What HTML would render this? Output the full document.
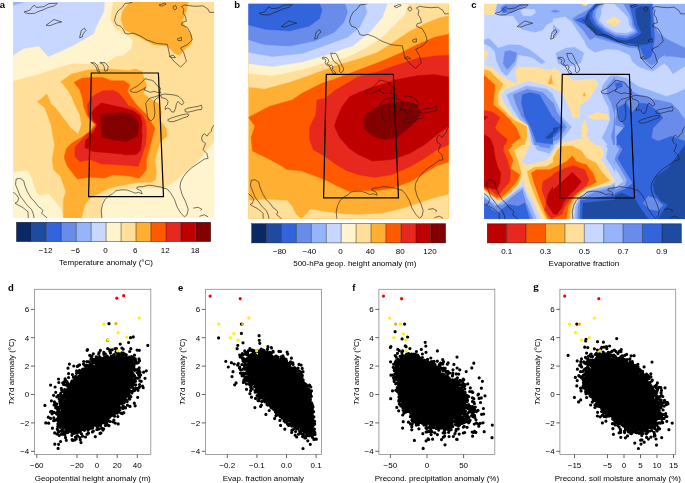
<!DOCTYPE html>
<html><head><meta charset="utf-8"><title>Figure</title>
<style>html,body{margin:0;padding:0;background:#fff}svg{display:block}text{font-family:"Liberation Sans",Arial,Helvetica,sans-serif;fill:#000}</style></head><body>
<svg width="685" height="483" viewBox="0 0 685 483">
<rect width="685" height="483" fill="#fff"/>
<defs><clipPath id="f0"><rect x="13.2" y="1.9" width="200.9" height="216" fill="#000"/></clipPath></defs>
<g clip-path="url(#f0)">
<rect x="12.2" y="0.9" width="202.9" height="218" fill="#ffdf99"/>
<polygon points="13.2,1.9 113,2 111,12 110.6,20 114.3,28.6 123,33.5 130,38 132.4,41 131,48.4 122.4,56 116.8,56 106.9,62.1 92,64.1 72.1,63.4 59.7,67 37.3,74.5 13.2,80.7" fill="#fff4ce" stroke="#fff4ce" stroke-width="0.4"/>
<polygon points="13.2,1.9 104.4,2 103.9,11.2 97,24.8 93.2,34 72.1,46 48.5,56.6 38.6,46 23.7,48.4 13.2,55.2" fill="#c8d7ff" stroke="#c8d7ff" stroke-width="0.4"/>
<polygon points="13.2,1.9 24,2 13.2,5.5" fill="#96b4fa" stroke="#96b4fa" stroke-width="0.4"/>
<polygon points="13.2,172 27.4,170.8 31.1,177 36.1,192 39.8,195.7 48.5,194 53.5,199.4 61,209.3 63.4,217.9 13.2,217.9" fill="#fff4ce" stroke="#fff4ce" stroke-width="0.4"/>
<polygon points="102.2,217.9 101.4,204.6 104.7,197.9 113,191.3 126.2,189.7 131.6,188.8 148.1,188 163,188.8 168,186.3 177.9,178.9 187.9,170.6 195,164 201.9,157.1 209.3,147.2 214.1,142.2 214.1,217.9" fill="#fff4ce" stroke="#fff4ce" stroke-width="0.4"/>
<polygon points="129.8,2 122.4,11.2 121.1,19.9 124.8,29.8 137.3,36 153.4,44.7 167.1,46 174.5,53.4 179.5,55.2 185.7,48.4 191.9,43.5 191.9,36 185.7,27.3 182,21.1 185.7,13.7 188.2,2" fill="#ffaf32" stroke="#ffaf32" stroke-width="0.4"/>
<polygon points="46.8,93.9 37.3,102 44.8,107.5 51,124.8 54.7,144.7 52.2,159.6 53.5,169.6 60.9,177 65.9,192 63.4,199.4 63.4,217.9 81.5,217.9 84.8,204.6 90.6,197.9 99.7,193 109.7,188 124.6,184.7 139.8,182.2 150.6,182.2 155.6,179.7 156.4,171.4 154.8,159.8 159.7,143.3 163,139.5 167.2,136.2 166.3,128.8 160.5,120.5 161.4,113 159.7,103.9 153.1,100.6 148.1,97.3 143.2,93.2 146.5,85.7 144,78.3 142.3,71.6 135.7,69.1 128.3,70.5 109.7,69.1 88.1,70 71.6,74.1 60.8,81.6 67.4,89.8 71.6,96.5 74.9,104.8 79.8,114.7 81.5,124.6 78.2,134.6 70.7,128 63.3,118 55,107.2 51,104.3" fill="#ffaf32" stroke="#ffaf32" stroke-width="0.4"/>
<polygon points="74,82.4 81.5,78.3 91.4,77.4 103,77.4 111.3,80.7 124.1,80.7 129.9,84.9 127.4,91.5 131.6,98.1 136.5,104.8 141.5,109.7 146.5,114.7 150.6,121.3 154.8,127.9 153.1,135 150.6,144.9 146.5,159.8 146.5,169.8 139,178.4 131.6,176.4 124.6,175.6 113,174.8 104.7,178.1 89.8,177.2 77.4,178.9 67.4,166.5 64.1,157.4 66.6,148.3 72,143 82,137 90.6,130.4 94.8,124.6 87.3,116.3 84,108 82.3,98.1 79.8,89.8" fill="#ff5a00" stroke="#ff5a00" stroke-width="0.4"/>
<polygon points="87.3,105.6 90.6,98.1 96.4,94 103,90.7 113,90.2 119,93.2 124.9,100.6 128.3,105.6 135.7,108.9 141.5,113.9 145.6,121.3 146.5,129.6 146.5,135 145.6,144.9 140.7,159.8 138.2,166.5 128.3,165.6 117.9,164.8 101.4,164 90.6,159.8 79.8,161.8 74.9,156.5 74.9,147.4 85,136 93.1,129.6 96.4,124.6 92.3,121.3 88.1,114.7" fill="#e6281e" stroke="#e6281e" stroke-width="0.4"/>
<polygon points="91.4,113 94.8,108 101.4,103.1 109.7,104.8 121.3,107.2 133.2,110.5 139.8,115.5 142.3,123 141.5,131.3 142.3,135 140.7,149.9 136.5,154.5 124.9,154.9 121.3,154 104.7,152.4 93.1,151.6 84.8,147.4 85.6,140 89,137 93.9,131.3 97.2,125 93.1,119.7" fill="#be0000" stroke="#be0000" stroke-width="0.4"/>
<polygon points="100.5,114.7 122.9,112.2 131.6,114.7 136.5,118.8 139,126.3 137.4,136.2 126.6,141.6 124.6,141.6 109.7,139.1 102.2,137" fill="#820000" stroke="#820000" stroke-width="0.4"/>
</g>
<defs><clipPath id="f1"><rect x="248.4" y="3.8" width="200.4" height="215" fill="#000"/></clipPath></defs>
<g clip-path="url(#f1)">
<rect x="247.4" y="2.8" width="202.4" height="217" fill="#ffaf32"/>
<polygon points="248.4,3.8 248.4,87 264.8,88.7 289.7,82 314.5,73.3 334.4,65.8 357.4,59.1 377.2,52.2 394.6,41 409.5,31 424.4,23.6 439.3,17.4 448.8,15.4 448.8,3.8" fill="#ffdf99" stroke="#ffdf99" stroke-width="0.4"/>
<polygon points="248.4,3.8 248.4,73.3 272.3,75.8 302.1,69.6 327,62.1 347.4,57.1 364.8,48.4 382.2,37.3 394.6,24.8 404.6,14.9 408.3,3.8" fill="#fff4ce" stroke="#fff4ce" stroke-width="0.4"/>
<polygon points="248.4,3.8 248.4,63.4 272.3,66.6 302.1,62.1 327,54.7 344.3,48.4 352.4,46 369.8,32.3 382.2,17.4 387.2,3.8" fill="#c8d7ff" stroke="#c8d7ff" stroke-width="0.4"/>
<polygon points="248.4,3.8 248.4,52.2 272.3,56.6 302.1,53.4 327,44.7 347.4,37.3 359.8,27.3 366.8,12.4 364.8,3.8" fill="#96b4fa" stroke="#96b4fa" stroke-width="0.4"/>
<polygon points="248.4,3.8 248.4,39.8 264.8,44.7 289.7,46 314.5,41 334.4,32.3 343.7,22.4 347.5,12.4 345,3.8" fill="#698ceb" stroke="#698ceb" stroke-width="0.4"/>
<polygon points="248.4,3.8 248.4,24.8 264.8,29.3 289.7,31 309.6,26 319.5,18.6 322,10 319.5,3.8" fill="#3264dc" stroke="#3264dc" stroke-width="0.4"/>
<polygon points="248.4,200.6 264.8,199.4 287.2,200.6 292.2,206.8 295.9,214.3 300.9,218.8 248.4,218.8" fill="#ffdf99" stroke="#ffdf99" stroke-width="0.4"/>
<polygon points="302,218.8 310.8,209.3 324.5,211.8 344.3,214.3 359.8,214.8 384.7,213 404.6,208.1 419.5,203.1 434.4,198.1 448.8,194.4 448.8,218.8" fill="#ffdf99" stroke="#ffdf99" stroke-width="0.4"/>
<polygon points="248.4,117.4 269.8,106.2 292.2,100 302.1,93.2 322,83.2 335,79 359.8,69.6 379.7,62.1 399.6,53.4 417,44.7 434.4,37.3 448.8,34.3 448.8,162.1 436.9,165.8 424.4,173.3 409.5,182 392.1,188.2 374.8,190.7 359.8,190.5 349.3,191.4 336.9,185.7 324.5,179.5 314.5,175.8 300.9,170.8 287.2,169.6 277.3,163.4 264.8,157.1 252.4,150.9 251.2,137.3 254.9,126.1" fill="#ff5a00" stroke="#ff5a00" stroke-width="0.4"/>
<polygon points="317,100 325.7,98.1 334.4,90.7 349.3,82 357.4,77 377.2,72 397.1,65.1 417,58.4 434.4,55.9 448.8,55.2 448.8,144.7 436.9,149.7 424.4,158.4 409.5,167.1 392.1,174.5 374.8,177.5 359.8,175 346.8,170.8 334.4,163.4 324.5,155.9 313.3,149.7 309.6,139.8 309.6,127.3 315.8,114.9" fill="#e6281e" stroke="#e6281e" stroke-width="0.4"/>
<polygon points="337.5,116.8 341.9,106.8 349.3,96.9 359.8,92 377.2,85.7 397.1,79.5 417,75.8 434.4,74.5 448.8,77 448.8,126.1 436.9,134.8 424.4,144.7 409.5,153.4 392.1,159.6 372.3,160.9 357.4,154 349.3,148.4 339.4,137.3 334.4,126.1" fill="#be0000" stroke="#be0000" stroke-width="0.4"/>
<polygon points="363.6,120 367.3,113 379.7,105.6 394.6,101.9 409.5,101.9 417,105 420.7,112.4 417,119.9 407,129.8 397.1,137.3 384.7,139.8 372.3,136 364.3,128.6" fill="#820000" stroke="#820000" stroke-width="0.4"/>
</g>
<defs>
<clipPath id="k1"><rect x="484.1" y="3.8" width="68.9" height="71.2" fill="#000"/></clipPath>
<clipPath id="k2"><rect x="553" y="3.8" width="32" height="71.2" fill="#000"/></clipPath>
<clipPath id="kH"><rect x="585" y="3.8" width="80" height="71.2" fill="#000"/></clipPath>
<clipPath id="k3"><rect x="665" y="3.8" width="20" height="71.2" fill="#000"/></clipPath>
<clipPath id="k4"><rect x="484.1" y="75" width="68.9" height="70" fill="#000"/></clipPath>
<clipPath id="k5"><rect x="553" y="75" width="62" height="70" fill="#000"/></clipPath>
<clipPath id="k6"><rect x="615" y="75" width="70" height="70" fill="#000"/></clipPath>
<clipPath id="k7"><rect x="484.1" y="145" width="68.9" height="74.3" fill="#000"/></clipPath>
<clipPath id="k8"><rect x="553" y="145" width="62" height="74.3" fill="#000"/></clipPath>
<clipPath id="k9"><rect x="615" y="145" width="70" height="74.3" fill="#000"/></clipPath>
</defs>
<g clip-path="url(#k1)">
<rect x="484.1" y="3.8" width="200.9" height="215.5" fill="#c8d7ff"/>
<polygon points="484.1,3.8 496.6,3.8 493.3,14.9 484.1,14.1" fill="#ffdf99" stroke="#ffdf99" stroke-width="0.4"/>
<polygon points="484.1,49.7 488.3,53 485,61.3 484.1,61.3" fill="#ffdf99" stroke="#ffdf99" stroke-width="0.4"/>
<polygon points="484.1,65.4 493.3,67.9 498.2,72.9 501.5,80 484.1,80" fill="#ffdf99" stroke="#ffdf99" stroke-width="0.4"/>
<polygon points="515.6,69.6 519.8,67.1 536.3,67.1 546.3,69.6 560,68.7 560,80 515.6,80" fill="#ffdf99" stroke="#ffdf99" stroke-width="0.4"/>
<polygon points="484.1,69.6 489.9,71.2 496.6,77.8 497.4,80 484.1,80" fill="#ffaf32" stroke="#ffaf32" stroke-width="0.4"/>
<polygon points="484.1,74.5 488.3,80 484.1,80" fill="#ff5a00" stroke="#ff5a00" stroke-width="0.4"/>
<polygon points="497.4,3.8 560,3.8 560,16.6 552.9,21.5 546.3,24.8 542.9,29.8 534.7,32.3 521.4,29 517.3,21.5 513.1,15.7 501.5,15.7 495.7,11.6" fill="#96b4fa" stroke="#96b4fa" stroke-width="0.4"/>
<polygon points="520.6,10.8 523.9,9.1 534.7,9.6 535.5,12.4 531.3,15.7 523.1,15.7" fill="#c8d7ff" stroke="#c8d7ff" stroke-width="0.4"/>
<polygon points="500.7,7.5 504.8,4.6 526.4,4.6 518.1,9.1 511.5,12.4 502.4,13.3" fill="#698ceb" stroke="#698ceb" stroke-width="0.4"/>
<polygon points="502.4,9.1 505.7,8.3 506.5,11.6 503.2,12.4" fill="#3264dc" stroke="#3264dc" stroke-width="0.4"/>
<polygon points="551.2,11.3 555.4,9.9 560,11.3 555.4,12.6" fill="#698ceb" stroke="#698ceb" stroke-width="0.4"/>
<polygon points="484.1,39.8 489.1,38.4 498.2,48 509,44.7 519.8,45.1 529.7,49.7 536.3,54.7 545.4,62.1 541.3,63.8 533,58 528,56.3 518.1,54.7 515.6,64.6 511.5,69.6 506.5,76.2 501.5,71.2 496.6,61.3 494.9,51.3 489.9,46.4 484.1,43.4" fill="#96b4fa" stroke="#96b4fa" stroke-width="0.4"/>
<polygon points="504.8,51.7 509.8,50.5 516.8,53 514.8,61.3 507.3,69.6 503.2,63.8" fill="#698ceb" stroke="#698ceb" stroke-width="0.4"/>
<polygon points="560,49.7 556.2,53 557.8,62.9 560,64.6" fill="#96b4fa" stroke="#96b4fa" stroke-width="0.4"/>
</g>
<g clip-path="url(#k2)">
<rect x="484.1" y="3.8" width="200.9" height="215.5" fill="#c8d7ff"/>
<polygon points="545,69.6 554.9,67.9 563.2,74.5 563.2,80 545,80" fill="#ffdf99" stroke="#ffdf99" stroke-width="0.4"/>
<polygon points="545,3.8 588.1,3.8 588.1,49.7 584.8,41.4 578.1,31.5 571.5,21.5 564.9,16.6 554.9,18.2 545,16.6" fill="#96b4fa" stroke="#96b4fa" stroke-width="0.4"/>
<polygon points="545,29.8 553.3,24.8 559.9,30.6 554.9,38.1 545,35.6" fill="#96b4fa" stroke="#96b4fa" stroke-width="0.4"/>
<polygon points="555.8,53 566.5,48 574.8,47.2 583.9,53 580.6,62.9 569.8,66.3 558.3,63.8" fill="#96b4fa" stroke="#96b4fa" stroke-width="0.4"/>
<polygon points="550.8,11.3 554.9,9.9 559.9,11.3 554.9,12.6" fill="#698ceb" stroke="#698ceb" stroke-width="0.4"/>
<polygon points="572.3,19 578.1,14.9 585.6,11.3 585.6,33.1 578.1,24.8" fill="#698ceb" stroke="#698ceb" stroke-width="0.4"/>
<polygon points="575.6,19.9 585.6,16.2 585.6,24.8 580.6,22.4" fill="#3264dc" stroke="#3264dc" stroke-width="0.4"/>
<polygon points="582.3,20.2 585.6,19.5 585.6,23.2" fill="#1e4ba0" stroke="#1e4ba0" stroke-width="0.4"/>
<polygon points="581.4,3.8 588.1,3.8 584.8,5.8" fill="#ffdf99" stroke="#ffdf99" stroke-width="0.4"/>
</g>
<g clip-path="url(#kH)">
<rect x="484.1" y="3.8" width="200.9" height="215.5" fill="#c8d7ff"/>
<polygon points="588.3,3.8 665,3.8 665,62.9 659.5,66.3 652.9,71.2 646.3,69.6 638,66.3 632.2,61.3 629.7,54.7 618.1,49.7 606.5,48.9 594.9,52.2 588.3,48 585,43.1 585,5.8" fill="#96b4fa" stroke="#96b4fa" stroke-width="0.4"/>
<polygon points="585,11.6 591.6,7.5 596.6,5 601.6,3.8 652.9,3.8 653.7,16.6 654.6,26.5 658.7,33.1 665,38.1 665,54.7 659.5,58 656.2,62.9 651.3,65.4 641.3,57.1 639.7,51.3 636.3,48 628.1,47.2 618.1,43.9 606.5,40.6 594.9,37.3 590,39.8 585,33.1" fill="#698ceb" stroke="#698ceb" stroke-width="0.4"/>
<polygon points="585,15.7 588.3,11.6 591.6,7.5 594.9,3.8 652.1,3.8 652.9,16.6 653.7,26.5 654.6,38.1 652.9,49.7 651.3,56.3 647.9,58.8 643,54.7 640.5,48 634.7,44.7 626.4,43.9 616.5,41.4 604.9,37.3 594.9,34 588.3,27.3 585,24.8" fill="#3264dc" stroke="#3264dc" stroke-width="0.4"/>
<polygon points="585.8,19 587,24 590.8,29.8 596.6,34 606.5,37.8 618.1,42.2 631.4,43.4 639.7,44.7 647.9,43.9 651.3,39.8 650.4,29.8 650.4,16.6 649.6,6.6 639.7,6.6 634.7,9.9 635.5,16.6 637.2,24.8 641.3,33.1 636.3,37.3 626.4,40.6 614.8,38.9 604,33.1 594.9,24.8 591.3,16.6 589.1,14.1" fill="#1e4ba0" stroke="#1e4ba0" stroke-width="0.4"/>
<polygon points="590,12.4 596.6,3.8 634.7,3.8 635.5,16.6 637.2,24.8 641,32.8 636.3,36.8 626.4,40.1 614.8,38.4 604,33.1 594.1,25.7 589.6,18.2" fill="#3264dc" stroke="#3264dc" stroke-width="0.4"/>
<polygon points="593,11.6 599.6,3.8 628.9,3.8 632.2,16.6 633.9,24.8 637.7,32.3 633.9,35.1 626.4,38.1 615.6,36.4 605.7,31.5 596.6,24.5 592.6,17.4" fill="#698ceb" stroke="#698ceb" stroke-width="0.4"/>
<polygon points="595.9,10.3 602.2,3.8 623.1,3.8 628.9,13.3 631.4,19.9 632.2,25.7 635.5,31.5 627.2,35.6 615.6,34.5 606.2,29.8 598.3,23.2 595.6,16.6" fill="#96b4fa" stroke="#96b4fa" stroke-width="0.4"/>
<polygon points="601.6,8.3 604.9,3.8 614,3.8 622.3,11.6 628.1,18.2 628.9,24.8 633,30.6 626.4,33.1 615.6,32.3 606.5,27.3 599.1,20.7 601.6,13.3" fill="#c8d7ff" stroke="#c8d7ff" stroke-width="0.4"/>
<polygon points="605.4,21.2 614.5,16.6 620.9,21.2 614.8,26.8" fill="#ffdf99" stroke="#ffdf99" stroke-width="0.4"/>
<polygon points="585,3.8 588.3,3.8 585,5.8" fill="#ffdf99" stroke="#ffdf99" stroke-width="0.4"/>
</g>
<g clip-path="url(#k3)">
<rect x="484.1" y="3.8" width="200.9" height="215.5" fill="#c8d7ff"/>
<polygon points="605,3.8 685,3.8 685,66.3 672.9,73.7 667.9,66.3 661.3,62.1 656.3,66.3 649.7,72 640.6,69.6 632.3,61.3 629,51.3 614.9,47.2 605,48" fill="#96b4fa" stroke="#96b4fa" stroke-width="0.4"/>
<polygon points="605,27.3 616.6,34.8 627.4,32.3 629.8,21.5 627.4,12.4 622.4,6.6 626.5,3.8 659.7,3.8 654.7,9.9 653.9,21.5 661.3,36.4 674.6,43.1 685,48 685,58 671.3,56.3 659.7,56.3 654.7,59.6 649.7,65.4 643.1,62.9 636.5,54.7 629.8,49.7 614.9,46.4 605,44.7" fill="#698ceb" stroke="#698ceb" stroke-width="0.4"/>
<polygon points="605,29.8 616.6,36.8 629.8,34 632.3,21.5 629.8,12.4 625.7,7.5 629.8,3.8 654.7,3.8 653,9.9 652.2,21.5 653.9,38.1 652.2,54.7 648.9,58 644.8,54.7 640.6,48 637.3,44.7 626.5,43.4 614.9,41.4 605,39.8" fill="#3264dc" stroke="#3264dc" stroke-width="0.4"/>
<polygon points="634,10.8 642.3,6.6 648.9,8.3 649.7,21.5 648.9,33.1 642.3,40.6 626.5,39.8 614.9,38.9 605,37.3 605,32.3 614.9,37.3 626.5,35.6 632.3,32.3 634.8,21.5" fill="#1e4ba0" stroke="#1e4ba0" stroke-width="0.4"/>
<polygon points="605,6.6 614.9,7.5 624.9,13.3 627.4,21.5 626.5,30.6 616.6,33.1 605,24.8" fill="#c8d7ff" stroke="#c8d7ff" stroke-width="0.4"/>
<polygon points="605.8,21.5 614.9,16.6 621.1,21.2 615.8,26.5" fill="#ffdf99" stroke="#ffdf99" stroke-width="0.4"/>
</g>
<g clip-path="url(#k4)">
<rect x="484.1" y="3.8" width="200.9" height="215.5" fill="#ffdf99"/>
<polygon points="484.1,70 491.6,73.3 503.2,84.1 497.4,94.8 498.2,104.8 513.1,119.7 526.4,126.3 527.2,136.3 524.7,144.5 518.1,150 484.1,150" fill="#ffaf32" stroke="#ffaf32" stroke-width="0.4"/>
<polygon points="484.1,75 494.9,84.9 493.3,104.8 501.5,111.4 509.8,119.7 516.4,128 520.6,137.9 513.1,142.9 504.8,150 484.1,150" fill="#ff5a00" stroke="#ff5a00" stroke-width="0.4"/>
<polygon points="484.1,110.6 491.6,111.4 499.9,117.2 494.9,128 501.5,134.6 507.3,139.6 504.8,146.2 503.2,150 484.1,150" fill="#e6281e" stroke="#e6281e" stroke-width="0.4"/>
<polygon points="484.1,134.6 489.9,137.9 492.4,142.9 491.6,150 484.1,150" fill="#be0000" stroke="#be0000" stroke-width="0.4"/>
<polygon points="484.1,116.4 487.5,116.4 485,119.7 484.1,119.7" fill="#be0000" stroke="#be0000" stroke-width="0.4"/>
<polygon points="496.6,70 515.6,70 516.4,83.3 503.2,76.6" fill="#c8d7ff" stroke="#c8d7ff" stroke-width="0.4"/>
<polygon points="501.5,94 504.8,89.9 528,80.8 546.3,85.7 560,91.5 560,150 533,150 528.9,139.6 528,124.7 513.1,114.7 503.2,101.5" fill="#c8d7ff" stroke="#c8d7ff" stroke-width="0.4"/>
<polygon points="506.5,94.8 526.4,85.7 546.3,89 560,99.8 560,150 534.7,150 531.3,139.6 529.7,126.3 519.8,119.7 511.5,106.4" fill="#96b4fa" stroke="#96b4fa" stroke-width="0.4"/>
<polygon points="501.5,70 511.5,70 506.5,75.8" fill="#96b4fa" stroke="#96b4fa" stroke-width="0.4"/>
<polygon points="513.1,94.8 527.2,89 542.9,92.4 552.9,103.1 560,113.1 560,150 538,147.8 534.7,144.5 532.2,136.3 528,124.7 521.4,116.4 515.6,103.1" fill="#698ceb" stroke="#698ceb" stroke-width="0.4"/>
<polygon points="522.2,94.8 529.7,92.4 539.6,94.8 546.3,106.4 552.9,118 560,123 560,143.7 549.6,143.7 536.3,142 531.3,128 524.7,116.4 521.4,103.1" fill="#3264dc" stroke="#3264dc" stroke-width="0.4"/>
<polygon points="560,127.1 556.2,128 545.4,137.9 549.6,138.7 560,131.3" fill="#1e4ba0" stroke="#1e4ba0" stroke-width="0.4"/>
<polygon points="551.2,75 552.9,84.1 547.9,84.1" fill="#ffaf32" stroke="#ffaf32" stroke-width="0.4"/>
</g>
<g clip-path="url(#k5)">
<rect x="484.1" y="3.8" width="200.9" height="215.5" fill="#c8d7ff"/>
<polygon points="545,70 561.6,70 566.5,75 573.2,80.8 594.7,79.1 598,84.1 593.9,91.5 588.1,99.8 579.8,105.6 579,116.4 573.2,118 569.8,108.1 564.9,98.2 559.9,91.5 553.3,89 545,85.7" fill="#ffdf99" stroke="#ffdf99" stroke-width="0.4"/>
<polygon points="588.1,116.4 596.3,112.2 607.9,114.7 608.8,119.7 593,119.7" fill="#ffdf99" stroke="#ffdf99" stroke-width="0.4"/>
<polygon points="584.4,119.7 587.7,128 586.4,136.3 589.7,139.6 582.3,137.9 581.4,128" fill="#ffdf99" stroke="#ffdf99" stroke-width="0.4"/>
<polygon points="554.9,150 561.6,142.9 578.1,139.6 586.4,137.9 593,142.9 601.3,150" fill="#ffdf99" stroke="#ffdf99" stroke-width="0.4"/>
<polygon points="550.8,75 553.3,84.1 547.5,84.1" fill="#ffaf32" stroke="#ffaf32" stroke-width="0.4"/>
<polygon points="584.3,92.4 585.9,95.7 582.8,95.7" fill="#ffaf32" stroke="#ffaf32" stroke-width="0.4"/>
<polygon points="559.9,150 563.2,146.5 573.2,146.2 580.6,150" fill="#ffaf32" stroke="#ffaf32" stroke-width="0.4"/>
<polygon points="625,73.3 617.9,74.1 609.6,76.6 603,84.9 601.3,91.5 603.8,98.2 608.8,108.1 610.4,119.7 606.3,129.6 602.1,137.9 606.3,142.9 611.3,150 625,150" fill="#96b4fa" stroke="#96b4fa" stroke-width="0.4"/>
<polygon points="545,91.5 553.3,96.5 558.3,106.4 561.6,116.4 571.5,127.1 561.6,139.6 553.3,146.2 545,147.8" fill="#96b4fa" stroke="#96b4fa" stroke-width="0.4"/>
<polygon points="625,75.8 614.6,77.5 607.1,86.6 607.1,94.8 611.3,103.1 614.6,114.7 613.7,126.3 611.3,136.3 614.6,150 625,150" fill="#698ceb" stroke="#698ceb" stroke-width="0.4"/>
<polygon points="545,93.2 551.6,98.2 556.6,111.4 566.5,127.1 558.3,139.6 545,144.5" fill="#698ceb" stroke="#698ceb" stroke-width="0.4"/>
<polygon points="616.2,83.3 621.2,82.4 622,88.2 616.2,88.2" fill="#3264dc" stroke="#3264dc" stroke-width="0.4"/>
<polygon points="619.5,108.1 625,103.1 625,150 617.9,150 617.9,136.3 617.9,124.7" fill="#3264dc" stroke="#3264dc" stroke-width="0.4"/>
<polygon points="545,103.1 550,111.4 554.9,119.7 563.2,127.1 554.9,136.3 545,139.6" fill="#3264dc" stroke="#3264dc" stroke-width="0.4"/>
<polygon points="553.3,128 559.9,127.1 554.9,132.9 545,137.9 545,135.4" fill="#1e4ba0" stroke="#1e4ba0" stroke-width="0.4"/>
</g>
<g clip-path="url(#k6)">
<rect x="484.1" y="3.8" width="200.9" height="215.5" fill="#c8d7ff"/>
<polygon points="605,79.9 616.6,75.8 626.5,78.3 638.1,86.6 653,91.5 666.3,96.5 676.2,93.2 685,89 685,150 605,150" fill="#96b4fa" stroke="#96b4fa" stroke-width="0.4"/>
<polygon points="605,84.1 614.9,79.9 624.9,82.4 632.3,91.5 638.1,94.8 653,99 671.3,103.1 677.9,109.8 685,119.7 685,150 614.9,150 618.3,136.3 624.9,128 614.9,124.7 616.6,111.4 611.6,99.8 605,94.8" fill="#698ceb" stroke="#698ceb" stroke-width="0.4"/>
<polygon points="618.3,107.3 626.5,103.1 631.5,113.1 640.6,103.1 648.1,104 659.7,113.1 663,118 653,128 651.4,137.9 658,141.2 671.3,136.3 685,141.2 685,150 617.4,150 616.6,136.3 624.9,126.3 619.1,118" fill="#3264dc" stroke="#3264dc" stroke-width="0.4"/>
<polygon points="614.9,83.3 621.6,82.4 622.4,86.6 616.6,89" fill="#3264dc" stroke="#3264dc" stroke-width="0.4"/>
<polygon points="685,145.4 681.2,147.8 679.5,150 685,150" fill="#1e4ba0" stroke="#1e4ba0" stroke-width="0.4"/>
<polygon points="605,99.8 609.1,104.8 611.6,116.4 610,129.6 605,136.3" fill="#c8d7ff" stroke="#c8d7ff" stroke-width="0.4"/>
<polygon points="605,113.9 608.3,115.5 608.3,118.9 605,119.7" fill="#ffdf99" stroke="#ffdf99" stroke-width="0.4"/>
</g>
<g clip-path="url(#k7)">
<rect x="484.1" y="3.8" width="200.9" height="215.5" fill="#ffdf99"/>
<polygon points="484.1,140 525.5,140 524.7,143.3 514,149.9 518.1,161.5 521.4,173.1 518.9,183.1 511.5,191.3 503.2,198.8 498.2,200.5 484.1,189.7" fill="#ffaf32" stroke="#ffaf32" stroke-width="0.4"/>
<polygon points="484.1,140 518.1,140 508.2,149.9 513.1,159.9 510.6,168.2 519.8,174.8 515.6,183.1 508.2,191.3 501.5,197.1 496.6,198 484.1,188.9" fill="#ff5a00" stroke="#ff5a00" stroke-width="0.4"/>
<polygon points="484.1,140 504.8,140 503.2,149.9 507.3,159.9 510.6,171.5 509.8,181.4 501.5,191.3 497.4,195.5 489.9,189.7 484.1,188" fill="#e6281e" stroke="#e6281e" stroke-width="0.4"/>
<polygon points="484.1,140 492.4,140 494.9,156.6 497.4,166.5 500.7,173.1 499.9,183.1 496.6,189.7 489.9,188 484.1,186.4" fill="#be0000" stroke="#be0000" stroke-width="0.4"/>
<polygon points="527.2,171.5 534.7,167.3 546.3,166.5 560,158.2 560,218.7 546.3,218.7 541.3,209.6 534.7,194.7 529.7,181.4" fill="#ffaf32" stroke="#ffaf32" stroke-width="0.4"/>
<polygon points="531.3,173.1 536.3,169.8 549.6,169.8 560,164.8 560,218.7 547.9,218.7 544.6,211.2 539.6,198 534.7,184.7" fill="#ff5a00" stroke="#ff5a00" stroke-width="0.4"/>
<polygon points="542.9,181.4 551.2,176.4 560,170.6 560,218.7 551.2,218.7 544.6,209.6 546.3,202.9 542.1,189.7" fill="#e6281e" stroke="#e6281e" stroke-width="0.4"/>
<polygon points="560,178.1 552.9,186.4 547.9,194.7 546.3,202.9 552.9,212.9 560,216.2" fill="#be0000" stroke="#be0000" stroke-width="0.4"/>
<polygon points="531.3,140 560,140 560,148.3 552.9,153.3 546.3,159.9 526.4,164.8 522.2,161.5 528,149.9" fill="#c8d7ff" stroke="#c8d7ff" stroke-width="0.4"/>
<polygon points="533,140 560,140 556.2,143.3 549.6,153.3 537.1,149.9" fill="#96b4fa" stroke="#96b4fa" stroke-width="0.4"/>
<polygon points="536.3,140 552.9,140 549.6,148.3 539.6,146.6" fill="#698ceb" stroke="#698ceb" stroke-width="0.4"/>
<polygon points="538,140 551.2,140 546.3,144.1" fill="#3264dc" stroke="#3264dc" stroke-width="0.4"/>
<polygon points="484.1,193 498.2,202.1 504.8,198 513.1,191.3 520.6,184.7 523.1,179.8 525.5,189.7 531.3,199.6 538,212.9 541.3,218.7 484.1,218.7" fill="#c8d7ff" stroke="#c8d7ff" stroke-width="0.4"/>
<polygon points="484.1,196.3 496.6,205.4 509.8,196.3 518.1,189.7 523.1,187.2 526.4,196.3 531.3,206.3 536.3,218.7 484.1,218.7" fill="#96b4fa" stroke="#96b4fa" stroke-width="0.4"/>
<polygon points="484.1,198 494.9,206.3 503.2,204.6 513.1,196.3 522.2,189.7 525.5,201.3 529.7,211.2 533,218.7 484.1,218.7" fill="#698ceb" stroke="#698ceb" stroke-width="0.4"/>
<polygon points="484.1,202.9 491.6,209.6 498.2,212.9 501.5,209.6 508.2,204.6 518.1,206.3 524.7,202.9 528,212.9 529.7,218.7 484.1,218.7" fill="#3264dc" stroke="#3264dc" stroke-width="0.4"/>
</g>
<g clip-path="url(#k8)">
<rect x="484.1" y="3.8" width="200.9" height="215.5" fill="#c8d7ff"/>
<polygon points="545,159 551.6,153.3 558.3,145 563.2,140 589.7,140 601.3,146.6 603.8,153.3 601.3,159.9 607.9,169.8 614.6,180.6 609.6,184.7 599.7,186.4 586.4,190.5 578.1,197.1 573.2,206.3 572.3,218.7 545,218.7" fill="#ffdf99" stroke="#ffdf99" stroke-width="0.4"/>
<polygon points="545,164.8 551.6,161.5 557.4,149.9 561.6,146.6 571.5,145.8 581.4,150.8 586.4,158.2 596.3,163.2 601.3,171.5 609.6,180.6 599.7,184.7 586.4,188.9 576.5,196.3 571.5,204.6 569.8,218.7 545,218.7" fill="#ffaf32" stroke="#ffaf32" stroke-width="0.4"/>
<polygon points="545,171.5 556.6,166.5 566.5,161.5 572.3,155.7 576.5,161.5 586.4,164.8 593,173.1 596.3,182.2 586.4,187.2 578.1,193 573.2,198 568.2,206.3 566.5,218.7 545,218.7" fill="#ff5a00" stroke="#ff5a00" stroke-width="0.4"/>
<polygon points="545,178.9 554.9,173.1 564.9,168.2 573.2,165.7 584.8,169.8 588.9,179.8 586.4,185.5 576.5,193 569.8,199.6 564.9,206.3 561.6,214.5 553.3,217.8 545,216.2" fill="#e6281e" stroke="#e6281e" stroke-width="0.4"/>
<polygon points="545,199.6 551.6,191.3 561.6,182.2 572.3,172.3 581.4,181.4 576.5,188 568.2,196.3 563.2,202.9 561.6,207.9 556.6,214.5 550,212.9 545,206.3" fill="#be0000" stroke="#be0000" stroke-width="0.4"/>
<polygon points="603,140 625,140 625,218.7 574.8,218.7 575.6,206.3 579.8,198 588.1,191.3 601.3,188 611.3,185.5 619.5,179.8 612.9,168.2 606.3,158.2 607.9,148.3" fill="#96b4fa" stroke="#96b4fa" stroke-width="0.4"/>
<polygon points="611.3,140 625,140 625,218.7 577.3,218.7 578.1,206.3 580.6,198.8 594.7,192.2 611.3,188 622.8,181.4 621.2,174.8 614.6,163.2 616.2,154.9 617.9,146.6" fill="#698ceb" stroke="#698ceb" stroke-width="0.4"/>
<polygon points="617.9,140 625,140 625,178.1 622.8,173.1 617.9,164.8 619.5,154.9 621.2,148.3" fill="#3264dc" stroke="#3264dc" stroke-width="0.4"/>
<polygon points="580.6,200.5 625,193 625,218.7 579.8,218.7" fill="#3264dc" stroke="#3264dc" stroke-width="0.4"/>
<polygon points="583.1,202.9 625,198.8 625,218.7 582.3,218.7" fill="#1e4ba0" stroke="#1e4ba0" stroke-width="0.4"/>
<polygon points="545,140 555.8,140 552.5,149.1 545,154.1" fill="#96b4fa" stroke="#96b4fa" stroke-width="0.4"/>
<polygon points="545,140 553.3,140 550.8,146.6 545,150.8" fill="#698ceb" stroke="#698ceb" stroke-width="0.4"/>
<polygon points="545,140 551.6,140 550,145 545,148.3" fill="#3264dc" stroke="#3264dc" stroke-width="0.4"/>
</g>
<g clip-path="url(#k9)">
<rect x="484.1" y="3.8" width="200.9" height="215.5" fill="#3264dc"/>
<polygon points="685,145 677.9,154.9 667.9,168.2 656.3,176.4 653,184.7 654.7,193 661.3,201.3 667.9,204.6 663,211.2 658,218.7 685,218.7" fill="#1e4ba0" stroke="#1e4ba0" stroke-width="0.4"/>
<polygon points="605,200.5 621.6,193 634.8,198.8 641.4,209.6 648.1,218.7 605,218.7" fill="#1e4ba0" stroke="#1e4ba0" stroke-width="0.4"/>
<polygon points="643.1,202.9 648.1,196.3 656.3,198.8 663,205.4 658,210.4 649.7,209.6" fill="#698ceb" stroke="#698ceb" stroke-width="0.4"/>
<polygon points="605,140 614.9,140 622.4,149.1 617.4,158.2 623.2,168.2 628.2,176.4 632.3,183.1 626.5,188 614.9,193 605,197.1" fill="#698ceb" stroke="#698ceb" stroke-width="0.4"/>
<polygon points="605,140 611.6,140 619.1,149.1 614.1,159 619.9,168.2 626.5,179.8 624.9,185.5 614.9,189.7 605,194.7" fill="#96b4fa" stroke="#96b4fa" stroke-width="0.4"/>
<polygon points="605,140 608.3,140 612.5,148.3 608.3,159.9 614.9,168.2 623.2,181.4 614.9,187.2 605,190.5" fill="#c8d7ff" stroke="#c8d7ff" stroke-width="0.4"/>
<polygon points="605,167.3 610,171.5 615.8,180.6 612.5,183.9 605,184.7" fill="#ffdf99" stroke="#ffdf99" stroke-width="0.4"/>
<polygon points="605,177.3 609.1,180.6 605,183.4" fill="#ffaf32" stroke="#ffaf32" stroke-width="0.4"/>
</g>
<defs><clipPath id="ma"><rect x="13.2" y="1.9" width="200.9" height="216" fill="#000"/></clipPath></defs>
<g clip-path="url(#ma)" fill="none" stroke="#1a1a1a" stroke-width="0.6" stroke-linejoin="round">
<polyline points="24.1,11.9 29.9,10.3 32.4,6.6 34.8,5.3 36.5,7.5 44,6.6 48.9,3.6 57.2,3.3 54.7,5.8 48.1,7.5 43.1,9.9 37.3,11.9 34.8,13.3 29,13.6 25.7,12.9 24.1,11.9"/>
<polyline points="46.1,25.2 53.9,19.5 61.7,21.9 56.4,23.2 49.8,25.7 46.1,25.2"/>
<polyline points="79.6,37.8 81.2,30.6 84.5,28.2 85.9,30.6 82.9,34 82.5,36.8 79.6,37.8"/>
<polyline points="132.2,2.5 124.8,3.6 122.3,7.5 118.1,10.8 115.6,15.7 114.5,20.7 116.5,24.8 120.6,26.2 123.1,29 124.8,33.1 128.1,34 133,33.1 139.7,35.6 146.6,39.8 156.6,43.4 167.3,44.4 168.5,49.7 169.8,56.3 174.8,62.1 180.6,67.1 186.4,61.3 183.9,53 180.6,48 187.2,44.7 192.2,39.8 190.5,33.1 187.2,27.3 181.4,24.8 182.2,22.4 186.4,21.2 185.5,16.6 183.1,13.3 183.9,9.1 181.4,6.6 184.7,5 189.7,5.8 196.3,6.3 202.9,5.8 207.9,9.1 209.6,12.4 214.5,12.4"/>
<polyline points="159,5 164.8,3 166.2,4.1 161.5,6.3 159,5"/>
<polyline points="173.1,6.6 175.6,5.3 176.8,8.3 174.8,9.9 173.1,8.3 173.1,6.6"/>
<polyline points="177.3,38.9 181.4,37.3 181.4,40.6 178.1,40.6 177.3,38.9"/>
<polyline points="169.5,56.5 173,55 175.5,57.5 172,57.5 169.5,56.5"/>
<polyline points="130,90.2 133.3,88.2 136.6,86.5 139.9,84 143.3,80.7 144.9,78.6 148.2,79.6 151.5,80.2 154,81.5 156.5,84.9 158.2,86.5 160.7,88.2 159.8,90.7 160.7,93.1 157.3,92.3 154,91.5 149.9,92.3 146.6,90.7 144.1,89.8 145.7,87.3 143.3,89 139.9,90.7 136.6,92.3 133.3,92.3 130.8,91.5 130,90.2"/>
<polyline points="160.7,95.6 158.2,97.3 154.9,99.8 154,103.1 154.5,108.1 154.9,113 154,118 151.5,120.5 149.1,120 147.4,116.4 146.6,109.7 145.7,103.1 149.9,98.1 154.9,96.8 159.8,95.1"/>
<polyline points="160.7,94.8 164.8,94 169.8,94.5 174.8,95.1 178.9,96.5 182.2,99.8 183.9,102.8 182.2,104.8 179.7,103.4 178.1,101.4 176.4,103.9 175.6,108.1 173.9,112.2 171.4,111.7 169.8,108.9 167.3,108.1 165.1,109.4 165.6,106.4 167.3,104.8 168.1,101.4 166.8,99.4 164,98.1 161.5,97.8 160.7,94.8"/>
<polyline points="167.8,119.7 171.4,118 176.4,116.4 181.4,115 186.4,113.9 188.8,114.4 188,116.4 183,118 178.1,120 173.1,121.7 169.8,121.7 167.8,120.5 167.8,119.7"/>
<polyline points="184.7,109.7 188,108.1 193,107.2 198,106.4 201.3,105.1 202.1,107.2 201.3,109.7 198,109.7 193,111.1 188,112.2 185.5,111.7 184.7,109.7"/>
<polyline points="214.5,124.5 212,128 211.2,131.3 208.7,133.8 207.1,136.2 204.6,133.8 202.9,134.6 201.6,137.9 202.2,141 205.6,143.5 203.1,149.7 206.8,153.4 208.1,158.4 204.3,159.1 198.1,163.4 191.9,167.6 187,172 183.2,177 180.7,182 180,187 182,194.4 185.7,201.9 188.2,209.3 187,214.8 184.5,216.8 180.7,213 177,206.8 174.5,199.4 170.8,193.2 167.1,188.9 163.4,188.2 160.9,187 157.1,186.5 153.4,185.7 148.4,185.2 143.5,186.5 137.3,187 136.8,188.9 141,190.7 142.2,193.9 138.5,192.4 134.8,193.2 131.1,191.4 126.1,189.9 121.1,189.9 116.1,190.7 112.4,193.9 108.7,195.7 105,199.4 102.5,204.3 101.2,210.6 102,219"/>
<polyline points="193.2,208.1 198.1,207.3 201.9,209.3 200.6,210.6"/>
<polyline points="199.4,216.3 204.3,214.8 208.1,216.8"/>
<polyline points="16.2,179 19.9,178.3 23.7,180.7 24.9,185.7 27.4,191.9 31.1,198.1 34.8,201.9 38.6,206.8 41.2,208.5 42.9,210.7 41.6,213.3 43.8,215.1 47.7,218.5"/>
<polyline points="16.2,179 15.5,184.5 17.5,189.4 19.9,195.7 23.7,200.6 27.4,205.6 31.5,209.4 33.3,213.8 34.2,218.5"/>
<polyline points="12.5,191.9 16.2,194.4 18.7,198.1 17.5,201.9 15,203.1 18,205 22,207 26,210 28,212 28.3,218.5"/>
<polyline points="90.8,62.6 94.1,64.3 96.6,67.9 97.4,71.2 99.9,72.5 98.3,68.7 97.4,65.4 94.9,62.9 90.8,62.6"/>
<polyline points="99.9,62.6 104.9,62.6 108.2,66.3 107.4,70.4 104.9,71.2 104,66.3 102.4,63.8 99.9,62.6"/>
</g>
<polygon points="91.3,73 158.4,73 163.5,196.6 88.6,196.6" fill="none" stroke="#000" stroke-width="1.2"/>
<defs><clipPath id="mb"><rect x="248.4" y="3.8" width="200.4" height="215" fill="#000"/></clipPath></defs>
<g clip-path="url(#mb)" fill="none" stroke="#1a1a1a" stroke-width="0.6" stroke-linejoin="round">
<polyline points="259.1,13.2 264.9,11.7 267.4,7.9 269.8,6.7 271.5,8.8 279,7.9 283.9,5 292.2,4.7 289.7,7.2 283.1,8.8 278.1,11.2 272.3,13.2 269.8,14.7 264,14.9 260.7,14.2 259.1,13.2"/>
<polyline points="281.1,26.6 288.9,20.9 296.7,23.2 291.4,24.6 284.8,27.1 281.1,26.6"/>
<polyline points="314.6,39.1 316.2,32 319.5,29.6 320.9,32 317.9,35.4 317.5,38.1 314.6,39.1"/>
<polyline points="367.2,3.9 359.8,5 357.3,8.8 353.1,12.2 350.6,17.1 349.5,22.1 351.5,26.2 355.6,27.6 358.1,30.4 359.8,34.5 363.1,35.4 368,34.5 374.7,37 381.6,41.1 391.6,44.8 402.3,45.8 403.5,51.1 404.8,57.6 409.8,63.5 415.6,68.4 421.4,62.6 418.9,54.4 415.6,49.4 422.2,46.1 427.2,41.1 425.5,34.5 422.2,28.7 416.4,26.2 417.2,23.8 421.4,22.6 420.5,18 418.1,14.7 418.9,10.4 416.4,7.9 419.7,6.3 424.7,7.2 431.3,7.7 437.9,7.2 442.9,10.4 444.6,13.8 449.5,13.8"/>
<polyline points="394,6.3 399.8,4.3 401.2,5.4 396.5,7.7 394,6.3"/>
<polyline points="408.1,7.9 410.6,6.7 411.8,9.7 409.8,11.2 408.1,9.7 408.1,7.9"/>
<polyline points="412.3,40.2 416.4,38.6 416.4,42 413.1,42 412.3,40.2"/>
<polyline points="404.5,57.9 408,56.4 410.5,58.9 407,58.9 404.5,57.9"/>
<polyline points="365,91.5 368.3,89.5 371.6,87.8 374.9,85.3 378.3,82 379.9,79.9 383.2,80.9 386.5,81.5 389,82.8 391.5,86.2 393.2,87.8 395.7,89.5 394.8,92 395.7,94.4 392.3,93.6 389,92.8 384.9,93.6 381.6,92 379.1,91.1 380.7,88.6 378.3,90.3 374.9,92 371.6,93.6 368.3,93.6 365.8,92.8 365,91.5"/>
<polyline points="395.7,96.9 393.2,98.6 389.9,101.1 389,104.4 389.5,109.4 389.9,114.3 389,119.3 386.5,121.8 384.1,121.3 382.4,117.8 381.6,111 380.7,104.4 384.9,99.4 389.9,98.1 394.8,96.4"/>
<polyline points="395.7,96.1 399.8,95.3 404.8,95.8 409.8,96.4 413.9,97.8 417.2,101.1 418.9,104.1 417.2,106.1 414.7,104.8 413.1,102.8 411.4,105.2 410.6,109.4 408.9,113.5 406.4,113 404.8,110.2 402.3,109.4 400.1,110.8 400.6,107.8 402.3,106.1 403.1,102.8 401.8,100.8 399,99.4 396.5,99.1 395.7,96.1"/>
<polyline points="402.8,121 406.4,119.3 411.4,117.8 416.4,116.3 421.4,115.2 423.8,115.8 423,117.8 418,119.3 413.1,121.3 408.1,123 404.8,123 402.8,121.8 402.8,121"/>
<polyline points="419.7,111 423,109.4 428,108.5 433,107.8 436.3,106.4 437.1,108.5 436.3,111 433,111 428,112.4 423,113.5 420.5,113 419.7,111"/>
<polyline points="449.5,125.8 447,129.3 446.2,132.7 443.7,135.2 442.1,137.5 439.6,135.2 437.9,135.9 436.6,139.2 437.2,142.3 440.6,144.8 438.1,151 441.8,154.8 443.1,159.8 439.3,160.4 433.1,164.8 426.9,168.9 422,173.3 418.2,178.3 415.7,183.3 415,188.3 417,195.8 420.7,203.2 423.2,210.7 422,216.2 419.5,218.2 415.7,214.3 412,208.2 409.5,200.8 405.8,194.5 402.1,190.2 398.4,189.5 395.9,188.3 392.1,187.8 388.4,187 383.4,186.5 378.5,187.8 372.3,188.3 371.8,190.2 376,192 377.2,195.2 373.5,193.8 369.8,194.5 366.1,192.8 361.1,191.2 356.1,191.2 351.1,192 347.4,195.2 343.7,197 340,200.8 337.5,205.7 336.2,211.9 337,220.3"/>
<polyline points="428.2,209.4 433.1,208.7 436.9,210.7 435.6,211.9"/>
<polyline points="434.4,217.7 439.3,216.2 443.1,218.2"/>
<polyline points="251.2,180.3 254.9,179.7 258.7,182 259.9,187 262.4,193.2 266.1,199.4 269.8,203.2 273.6,208.2 276.2,209.8 277.9,212 276.6,214.7 278.8,216.4 282.7,219.8"/>
<polyline points="251.2,180.3 250.5,185.8 252.5,190.8 254.9,197 258.7,201.9 262.4,206.9 266.5,210.8 268.3,215.2 269.2,219.8"/>
<polyline points="247.5,193.2 251.2,195.8 253.7,199.4 252.5,203.2 250,204.4 253,206.3 257,208.3 261,211.3 263,213.3 263.3,219.8"/>
<polyline points="322.1,57.6 323.8,57.2 326.5,57.6 328.2,59.4 328.6,61.6 327.3,63.2 327.8,64.5 330,65.5 331.3,65 332.6,66 333,67.8 332.2,69 333.5,70.3 335.2,72.1 335.7,73.4 333,73.4 332.2,71.2 330.8,69 330,66.8 327.8,65.5 326,64.2 325.1,62.4 326,60.2 324.7,58.9 322.5,58.9 322.1,57.6"/>
<polyline points="330.7,53.4 331.5,56.5 333,60 335,62.5 337,63.5 338.7,65 339.3,67.3 339.6,69.5 339.3,71.2 340.5,72.5 342.2,72.1 343.5,70.3 343.5,68.1 342.2,65.9 340.9,63.2 339.6,60.8 338.3,58.1 337,55 335.7,53.4 330.7,53.4"/>
</g>
<polygon points="326.3,74.3 393.4,74.3 398.5,197.9 323.6,197.9" fill="none" stroke="#000" stroke-width="1.2"/>
<defs><clipPath id="mc"><rect x="484.1" y="3.8" width="200.9" height="215.5" fill="#000"/></clipPath></defs>
<g clip-path="url(#mc)" fill="none" stroke="#1a1a1a" stroke-width="0.6" stroke-linejoin="round">
<polyline points="495.1,13.3 500.9,11.7 503.4,8 505.8,6.7 507.5,8.9 515,8 519.9,5 528.2,4.7 525.7,7.2 519.1,8.9 514.1,11.3 508.3,13.3 505.8,14.7 500,15 496.7,14.3 495.1,13.3"/>
<polyline points="517.1,26.6 524.9,20.9 532.7,23.3 527.4,24.6 520.8,27.1 517.1,26.6"/>
<polyline points="550.6,39.2 552.2,32 555.5,29.6 556.9,32 553.9,35.4 553.5,38.2 550.6,39.2"/>
<polyline points="603.2,3.9 595.8,5 593.3,8.9 589.1,12.2 586.6,17.1 585.5,22.1 587.5,26.2 591.6,27.6 594.1,30.4 595.8,34.5 599.1,35.4 604,34.5 610.7,37 617.6,41.2 627.6,44.8 638.3,45.8 639.5,51.1 640.8,57.7 645.8,63.5 651.6,68.5 657.4,62.7 654.9,54.4 651.6,49.4 658.2,46.1 663.2,41.2 661.5,34.5 658.2,28.7 652.4,26.2 653.2,23.8 657.4,22.6 656.5,18 654.1,14.7 654.9,10.5 652.4,8 655.7,6.4 660.7,7.2 667.3,7.7 673.9,7.2 678.9,10.5 680.6,13.8 685.5,13.8"/>
<polyline points="630,6.4 635.8,4.4 637.2,5.5 632.5,7.7 630,6.4"/>
<polyline points="644.1,8 646.6,6.7 647.8,9.7 645.8,11.3 644.1,9.7 644.1,8"/>
<polyline points="648.3,40.3 652.4,38.7 652.4,42 649.1,42 648.3,40.3"/>
<polyline points="640.5,57.9 644,56.4 646.5,58.9 643,58.9 640.5,57.9"/>
<polyline points="601,91.6 604.3,89.6 607.6,87.9 610.9,85.4 614.3,82.1 615.9,80 619.2,81 622.5,81.6 625,82.9 627.5,86.3 629.2,87.9 631.7,89.6 630.8,92.1 631.7,94.5 628.3,93.7 625,92.9 620.9,93.7 617.6,92.1 615.1,91.2 616.7,88.7 614.3,90.4 610.9,92.1 607.6,93.7 604.3,93.7 601.8,92.9 601,91.6"/>
<polyline points="631.7,97 629.2,98.7 625.9,101.2 625,104.5 625.5,109.5 625.9,114.4 625,119.4 622.5,121.9 620.1,121.4 618.4,117.8 617.6,111.1 616.7,104.5 620.9,99.5 625.9,98.2 630.8,96.5"/>
<polyline points="631.7,96.2 635.8,95.4 640.8,95.9 645.8,96.5 649.9,97.9 653.2,101.2 654.9,104.2 653.2,106.2 650.7,104.8 649.1,102.8 647.4,105.3 646.6,109.5 644.9,113.6 642.4,113.1 640.8,110.3 638.3,109.5 636.1,110.8 636.6,107.8 638.3,106.2 639.1,102.8 637.8,100.8 635,99.5 632.5,99.2 631.7,96.2"/>
<polyline points="638.8,121.1 642.4,119.4 647.4,117.8 652.4,116.4 657.4,115.3 659.8,115.8 659,117.8 654,119.4 649.1,121.4 644.1,123.1 640.8,123.1 638.8,121.9 638.8,121.1"/>
<polyline points="655.7,111.1 659,109.5 664,108.6 669,107.8 672.3,106.5 673.1,108.6 672.3,111.1 669,111.1 664,112.5 659,113.6 656.5,113.1 655.7,111.1"/>
<polyline points="685.5,125.9 683,129.4 682.2,132.7 679.7,135.2 678.1,137.6 675.6,135.2 673.9,136 672.6,139.3 673.2,142.4 676.6,144.9 674.1,151.1 677.8,154.8 679.1,159.8 675.3,160.5 669.1,164.8 662.9,169 658,173.4 654.2,178.4 651.7,183.4 651,188.4 653,195.8 656.7,203.3 659.2,210.7 658,216.2 655.5,218.2 651.7,214.4 648,208.2 645.5,200.8 641.8,194.6 638.1,190.3 634.4,189.6 631.9,188.4 628.1,187.9 624.4,187.1 619.4,186.6 614.5,187.9 608.3,188.4 607.8,190.3 612,192.1 613.2,195.3 609.5,193.8 605.8,194.6 602.1,192.8 597.1,191.3 592.1,191.3 587.1,192.1 583.4,195.3 579.7,197.1 576,200.8 573.5,205.7 572.2,212 573,220.4"/>
<polyline points="664.2,209.5 669.1,208.7 672.9,210.7 671.6,212"/>
<polyline points="670.4,217.7 675.3,216.2 679.1,218.2"/>
<polyline points="487.2,180.4 490.9,179.7 494.7,182.1 495.9,187.1 498.4,193.3 502.1,199.5 505.8,203.3 509.6,208.2 512.2,209.9 513.9,212.1 512.6,214.7 514.8,216.5 518.7,219.9"/>
<polyline points="487.2,180.4 486.5,185.9 488.5,190.8 490.9,197.1 494.7,202 498.4,207 502.5,210.8 504.3,215.2 505.2,219.9"/>
<polyline points="483.5,193.3 487.2,195.8 489.7,199.5 488.5,203.3 486,204.5 489,206.4 493,208.4 497,211.4 499,213.4 499.3,219.9"/>
<polyline points="558.1,57.6 559.8,57.3 562.5,57.6 564.2,59.4 564.6,61.6 563.3,63.3 563.8,64.6 566,65.6 567.3,65.1 568.6,66.1 569,67.8 568.2,69.1 569.5,70.4 571.2,72.2 571.7,73.5 569,73.5 568.2,71.3 566.8,69.1 566,66.9 563.8,65.6 562,64.3 561.1,62.4 562,60.3 560.7,58.9 558.5,58.9 558.1,57.6"/>
<polyline points="566.7,53.4 567.5,56.5 569,60 571,62.5 573,63.5 574.7,65.1 575.3,67.4 575.6,69.6 575.3,71.3 576.5,72.6 578.2,72.2 579.5,70.4 579.5,68.2 578.2,66 576.9,63.3 575.6,60.8 574.3,58.2 573,55 571.7,53.4 566.7,53.4"/>
</g>
<polygon points="562.3,74.4 629.4,74.4 634.5,198 559.6,198" fill="none" stroke="#000" stroke-width="1.2"/>
<rect x="16.5" y="222.3" width="14.9" height="19.3" fill="#0a2864"/>
<rect x="31.4" y="222.3" width="14.9" height="19.3" fill="#1e4ba0"/>
<rect x="46.4" y="222.3" width="14.9" height="19.3" fill="#3264dc"/>
<rect x="61.3" y="222.3" width="14.9" height="19.3" fill="#698ceb"/>
<rect x="76.3" y="222.3" width="14.9" height="19.3" fill="#96b4fa"/>
<rect x="91.2" y="222.3" width="14.9" height="19.3" fill="#c8d7ff"/>
<rect x="106.1" y="222.3" width="14.9" height="19.3" fill="#fff4ce"/>
<rect x="121.1" y="222.3" width="14.9" height="19.3" fill="#ffdf99"/>
<rect x="136" y="222.3" width="14.9" height="19.3" fill="#ffaf32"/>
<rect x="150.9" y="222.3" width="14.9" height="19.3" fill="#ff5a00"/>
<rect x="165.9" y="222.3" width="14.9" height="19.3" fill="#e6281e"/>
<rect x="180.8" y="222.3" width="14.9" height="19.3" fill="#be0000"/>
<rect x="195.8" y="222.3" width="14.9" height="19.3" fill="#820000"/>
<line x1="31.4" y1="222.3" x2="31.4" y2="241.6" stroke="#000" stroke-opacity="0.75" stroke-width="0.55"/>
<line x1="46.4" y1="222.3" x2="46.4" y2="241.6" stroke="#000" stroke-opacity="0.75" stroke-width="0.55"/>
<line x1="61.3" y1="222.3" x2="61.3" y2="241.6" stroke="#000" stroke-opacity="0.75" stroke-width="0.55"/>
<line x1="76.3" y1="222.3" x2="76.3" y2="241.6" stroke="#000" stroke-opacity="0.75" stroke-width="0.55"/>
<line x1="91.2" y1="222.3" x2="91.2" y2="241.6" stroke="#000" stroke-opacity="0.75" stroke-width="0.55"/>
<line x1="106.1" y1="222.3" x2="106.1" y2="241.6" stroke="#000" stroke-opacity="0.75" stroke-width="0.55"/>
<line x1="121.1" y1="222.3" x2="121.1" y2="241.6" stroke="#000" stroke-opacity="0.75" stroke-width="0.55"/>
<line x1="136" y1="222.3" x2="136" y2="241.6" stroke="#000" stroke-opacity="0.75" stroke-width="0.55"/>
<line x1="150.9" y1="222.3" x2="150.9" y2="241.6" stroke="#000" stroke-opacity="0.75" stroke-width="0.55"/>
<line x1="165.9" y1="222.3" x2="165.9" y2="241.6" stroke="#000" stroke-opacity="0.75" stroke-width="0.55"/>
<line x1="180.8" y1="222.3" x2="180.8" y2="241.6" stroke="#000" stroke-opacity="0.75" stroke-width="0.55"/>
<line x1="195.8" y1="222.3" x2="195.8" y2="241.6" stroke="#000" stroke-opacity="0.75" stroke-width="0.55"/>
<rect x="16.5" y="222.3" width="194.2" height="19.3" fill="none" stroke="#000" stroke-opacity="0.75" stroke-width="0.55"/>
<text x="45.6" y="252.8" font-size="8" text-anchor="middle">−12</text>
<text x="75.5" y="252.8" font-size="8" text-anchor="middle">−6</text>
<text x="105.4" y="252.8" font-size="8" text-anchor="middle">0</text>
<text x="135.3" y="252.8" font-size="8" text-anchor="middle">6</text>
<text x="165.2" y="252.8" font-size="8" text-anchor="middle">12</text>
<text x="195.1" y="252.8" font-size="8" text-anchor="middle">18</text>
<text x="106" y="264.9" font-size="8" text-anchor="middle">Temperature anomaly (°C)</text>
<rect x="251.7" y="223.7" width="14.9" height="19.2" fill="#0a2864"/>
<rect x="266.6" y="223.7" width="14.9" height="19.2" fill="#1e4ba0"/>
<rect x="281.5" y="223.7" width="14.9" height="19.2" fill="#3264dc"/>
<rect x="296.4" y="223.7" width="14.9" height="19.2" fill="#698ceb"/>
<rect x="311.4" y="223.7" width="14.9" height="19.2" fill="#96b4fa"/>
<rect x="326.3" y="223.7" width="14.9" height="19.2" fill="#c8d7ff"/>
<rect x="341.2" y="223.7" width="14.9" height="19.2" fill="#fff4ce"/>
<rect x="356.1" y="223.7" width="14.9" height="19.2" fill="#ffdf99"/>
<rect x="371" y="223.7" width="14.9" height="19.2" fill="#ffaf32"/>
<rect x="385.9" y="223.7" width="14.9" height="19.2" fill="#ff5a00"/>
<rect x="400.9" y="223.7" width="14.9" height="19.2" fill="#e6281e"/>
<rect x="415.8" y="223.7" width="14.9" height="19.2" fill="#be0000"/>
<rect x="430.7" y="223.7" width="14.9" height="19.2" fill="#820000"/>
<line x1="266.6" y1="223.7" x2="266.6" y2="242.9" stroke="#000" stroke-opacity="0.75" stroke-width="0.55"/>
<line x1="281.5" y1="223.7" x2="281.5" y2="242.9" stroke="#000" stroke-opacity="0.75" stroke-width="0.55"/>
<line x1="296.4" y1="223.7" x2="296.4" y2="242.9" stroke="#000" stroke-opacity="0.75" stroke-width="0.55"/>
<line x1="311.4" y1="223.7" x2="311.4" y2="242.9" stroke="#000" stroke-opacity="0.75" stroke-width="0.55"/>
<line x1="326.3" y1="223.7" x2="326.3" y2="242.9" stroke="#000" stroke-opacity="0.75" stroke-width="0.55"/>
<line x1="341.2" y1="223.7" x2="341.2" y2="242.9" stroke="#000" stroke-opacity="0.75" stroke-width="0.55"/>
<line x1="356.1" y1="223.7" x2="356.1" y2="242.9" stroke="#000" stroke-opacity="0.75" stroke-width="0.55"/>
<line x1="371" y1="223.7" x2="371" y2="242.9" stroke="#000" stroke-opacity="0.75" stroke-width="0.55"/>
<line x1="385.9" y1="223.7" x2="385.9" y2="242.9" stroke="#000" stroke-opacity="0.75" stroke-width="0.55"/>
<line x1="400.9" y1="223.7" x2="400.9" y2="242.9" stroke="#000" stroke-opacity="0.75" stroke-width="0.55"/>
<line x1="415.8" y1="223.7" x2="415.8" y2="242.9" stroke="#000" stroke-opacity="0.75" stroke-width="0.55"/>
<line x1="430.7" y1="223.7" x2="430.7" y2="242.9" stroke="#000" stroke-opacity="0.75" stroke-width="0.55"/>
<rect x="251.7" y="223.7" width="193.9" height="19.2" fill="none" stroke="#000" stroke-opacity="0.75" stroke-width="0.55"/>
<text x="279.5" y="254.4" font-size="8" text-anchor="middle">−80</text>
<text x="309.4" y="254.4" font-size="8" text-anchor="middle">−40</text>
<text x="340.5" y="254.4" font-size="8" text-anchor="middle">0</text>
<text x="370.3" y="254.4" font-size="8" text-anchor="middle">40</text>
<text x="400.2" y="254.4" font-size="8" text-anchor="middle">80</text>
<text x="430" y="254.4" font-size="8" text-anchor="middle">120</text>
<text x="354.8" y="266.2" font-size="8" text-anchor="middle">500-hPa geop. height anomaly (m)</text>
<rect x="487.3" y="223.8" width="19.4" height="19.1" fill="#be0000"/>
<rect x="506.7" y="223.8" width="19.4" height="19.1" fill="#e6281e"/>
<rect x="526.1" y="223.8" width="19.4" height="19.1" fill="#ff5a00"/>
<rect x="545.5" y="223.8" width="19.4" height="19.1" fill="#ffaf32"/>
<rect x="564.9" y="223.8" width="19.4" height="19.1" fill="#ffdf99"/>
<rect x="584.3" y="223.8" width="19.4" height="19.1" fill="#c8d7ff"/>
<rect x="603.7" y="223.8" width="19.4" height="19.1" fill="#96b4fa"/>
<rect x="623.1" y="223.8" width="19.4" height="19.1" fill="#698ceb"/>
<rect x="642.5" y="223.8" width="19.4" height="19.1" fill="#3264dc"/>
<rect x="661.9" y="223.8" width="19.4" height="19.1" fill="#1e4ba0"/>
<line x1="506.7" y1="223.8" x2="506.7" y2="242.9" stroke="#000" stroke-opacity="0.75" stroke-width="0.55"/>
<line x1="526.1" y1="223.8" x2="526.1" y2="242.9" stroke="#000" stroke-opacity="0.75" stroke-width="0.55"/>
<line x1="545.5" y1="223.8" x2="545.5" y2="242.9" stroke="#000" stroke-opacity="0.75" stroke-width="0.55"/>
<line x1="564.9" y1="223.8" x2="564.9" y2="242.9" stroke="#000" stroke-opacity="0.75" stroke-width="0.55"/>
<line x1="584.3" y1="223.8" x2="584.3" y2="242.9" stroke="#000" stroke-opacity="0.75" stroke-width="0.55"/>
<line x1="603.7" y1="223.8" x2="603.7" y2="242.9" stroke="#000" stroke-opacity="0.75" stroke-width="0.55"/>
<line x1="623.1" y1="223.8" x2="623.1" y2="242.9" stroke="#000" stroke-opacity="0.75" stroke-width="0.55"/>
<line x1="642.5" y1="223.8" x2="642.5" y2="242.9" stroke="#000" stroke-opacity="0.75" stroke-width="0.55"/>
<line x1="661.9" y1="223.8" x2="661.9" y2="242.9" stroke="#000" stroke-opacity="0.75" stroke-width="0.55"/>
<rect x="487.3" y="223.8" width="194" height="19.1" fill="none" stroke="#000" stroke-opacity="0.75" stroke-width="0.55"/>
<text x="506.7" y="253.7" font-size="8" text-anchor="middle">0.1</text>
<text x="545.5" y="253.7" font-size="8" text-anchor="middle">0.3</text>
<text x="584.3" y="253.7" font-size="8" text-anchor="middle">0.5</text>
<text x="623.1" y="253.7" font-size="8" text-anchor="middle">0.7</text>
<text x="661.9" y="253.7" font-size="8" text-anchor="middle">0.9</text>
<text x="583.9" y="265.8" font-size="8" text-anchor="middle">Evaporative fraction</text>
<text x="-0.3" y="7.7" font-size="9.5" font-weight="bold" fill="#000">a</text>
<text x="234.3" y="7.7" font-size="9.5" font-weight="bold" fill="#000">b</text>
<text x="471.3" y="7.7" font-size="9.5" font-weight="bold" fill="#000">c</text>
<text x="8" y="290.8" font-size="9.5" font-weight="bold" fill="#000">d</text>
<text x="178" y="290.8" font-size="9.5" font-weight="bold" fill="#000">e</text>
<text x="352.3" y="290.8" font-size="9.5" font-weight="bold" fill="#000">f</text>
<text x="533.2" y="290.1" font-size="11" font-weight="bold" fill="#000" style="font-family:'Liberation Serif',serif">g</text>
<g>
<rect x="34.5" y="289.3" width="116.3" height="165.2" fill="#fff" stroke="#8a8a8a" stroke-width="0.8"/>
<line x1="30.9" y1="451.3" x2="34.5" y2="451.3" stroke="#222" stroke-width="0.7"/>
<text x="29.3" y="454.2" font-size="8" text-anchor="end">−4</text>
<line x1="30.9" y1="422.9" x2="34.5" y2="422.9" stroke="#222" stroke-width="0.7"/>
<text x="29.3" y="425.8" font-size="8" text-anchor="end">−2</text>
<line x1="30.9" y1="394.5" x2="34.5" y2="394.5" stroke="#222" stroke-width="0.7"/>
<text x="29.3" y="397.4" font-size="8" text-anchor="end">0</text>
<line x1="30.9" y1="366.1" x2="34.5" y2="366.1" stroke="#222" stroke-width="0.7"/>
<text x="29.3" y="369" font-size="8" text-anchor="end">2</text>
<line x1="30.9" y1="337.7" x2="34.5" y2="337.7" stroke="#222" stroke-width="0.7"/>
<text x="29.3" y="340.6" font-size="8" text-anchor="end">4</text>
<line x1="30.9" y1="309.4" x2="34.5" y2="309.4" stroke="#222" stroke-width="0.7"/>
<text x="29.3" y="312.3" font-size="8" text-anchor="end">6</text>
<line x1="36.8" y1="454.5" x2="36.8" y2="458.1" stroke="#222" stroke-width="0.7"/>
<text x="36.8" y="467.9" font-size="8" text-anchor="middle">−60</text>
<line x1="77" y1="454.5" x2="77" y2="458.1" stroke="#222" stroke-width="0.7"/>
<text x="77" y="467.9" font-size="8" text-anchor="middle">−20</text>
<line x1="97.1" y1="454.5" x2="97.1" y2="458.1" stroke="#222" stroke-width="0.7"/>
<text x="97.1" y="467.9" font-size="8" text-anchor="middle">0</text>
<line x1="117.2" y1="454.5" x2="117.2" y2="458.1" stroke="#222" stroke-width="0.7"/>
<text x="117.2" y="467.9" font-size="8" text-anchor="middle">20</text>
<line x1="137.3" y1="454.5" x2="137.3" y2="458.1" stroke="#222" stroke-width="0.7"/>
<text x="137.3" y="467.9" font-size="8" text-anchor="middle">40</text>
<text x="92.7" y="481" font-size="8" text-anchor="middle">Geopotential height anomaly (m)</text>
<text transform="translate(14.3,371.9) rotate(-90)" font-size="8" text-anchor="middle"><tspan font-style="italic">Tx</tspan>7d anomaly (°C)</text>
<polygon points="128,377.4 127.7,373.9 126.9,370.8 125.6,368 123.8,365.7 121.5,363.9 118.8,362.5 115.7,361.7 112.3,361.4 108.6,361.7 104.7,362.5 100.7,363.9 96.6,365.7 92.5,368 88.5,370.8 84.6,373.9 80.9,377.4 77.5,381.1 74.4,385.1 71.7,389.2 69.4,393.4 67.6,397.5 66.3,401.6 65.5,405.6 65.2,409.3 65.5,412.8 66.3,415.9 67.6,418.7 69.4,421 71.7,422.9 74.4,424.2 77.5,425 80.9,425.3 84.6,425 88.5,424.2 92.5,422.9 96.6,421 100.7,418.7 104.7,415.9 108.6,412.8 112.3,409.3 115.7,405.6 118.8,401.6 121.5,397.5 123.8,393.4 125.6,389.2 126.9,385.1 127.7,381.1" fill="#000"/>
<path d="M104.1 362h0M81.5 373.6h0M115 360.7h0M124.8 364.5h0M105.1 361.8h0M81 425.2h0M68.2 427h0M79.4 426.8h0M106.5 422.9h0M128.3 370.9h0M97.8 419.7h0M84.1 426.9h0M67.6 384h0M132.5 391.4h0M85.2 424.5h0M117.4 360.8h0M129.7 372.1h0M67.8 432.6h0M67.7 399.5h0M57.9 423.9h0M61.9 398.5h0M91.9 356.2h0M106.2 415.9h0M61.5 424.5h0M61.1 408.3h0M96.7 366.1h0M73 427.7h0M73.5 386.4h0M99.8 423.6h0M80.8 376.9h0M94.9 422.1h0M85.4 427.8h0M128.1 381.3h0M120.5 362.2h0M73.1 425.2h0M74.4 424h0M58.9 411.1h0M100 362.6h0M65.7 400.8h0M109.2 362h0M112 415.3h0M68.1 391.9h0M122.9 362.4h0M79.9 425.3h0M135.3 362.7h0M93.2 423.5h0M106.4 415.6h0M91.5 426.7h0M69.8 384.7h0M132.1 357.2h0M90.4 423.8h0M104.8 353.8h0M108.3 360.8h0M59.3 414.8h0M129.2 388.7h0M94.1 361h0M87.4 368.4h0M99 357.9h0M118.3 363.2h0M129.4 375.2h0M126.1 371.4h0M97.7 363.4h0M104.6 358.3h0M79 431.5h0M66 398.6h0M112.6 361.1h0M92.4 427.9h0M90.8 427.7h0M55.7 407.8h0M82.9 375.6h0M105.6 415.6h0M124.7 365.2h0M111.8 411.9h0M74.7 431.8h0M103.5 415.9h0M104.8 363.4h0M57.9 423.9h0M124.1 365.3h0M83.8 428.4h0M109.9 417h0M65.8 427.8h0M80.5 375.8h0M88.2 425.9h0M82.1 429.5h0M115.6 410.9h0M76.3 381.9h0M70.7 389.5h0M129 373.1h0M72 382.4h0M134.4 358.7h0M129 365.6h0M68.9 422.7h0M62.9 411.8h0M116.5 348.7h0M89.6 424.7h0M67.1 385.3h0M87.2 371.6h0M60.1 427.3h0M67.4 420.9h0M115.7 362.5h0M143.6 372.2h0M96.3 423.7h0M60.2 426h0M133.4 360h0M127.5 367.8h0M79.1 424.3h0M71.1 427.6h0M101.6 420.8h0M82.6 436.2h0M62 417.2h0M62 398.7h0M87.4 371.5h0M72.7 422.9h0M89.3 369.9h0M69.7 391.1h0M104.3 421.2h0M140.6 375.1h0M90.2 367.1h0M71 389.4h0M128.4 378.7h0M59 407.9h0M127.6 387.4h0M88.3 371.2h0M115.5 357.7h0M103 419.5h0M75.2 429.8h0M75.7 429.3h0M69.4 364.1h0M83.4 428.6h0M57.3 429.2h0M84.7 425.9h0M125.9 366.7h0M127.7 382.7h0M103.1 362.1h0M133.3 366.4h0M66.4 404.8h0M71.3 391h0M79.3 377.9h0M108.9 412.6h0M59.2 425.1h0M65.8 427.8h0M117.5 403.9h0M64.5 414.2h0M78.7 372.4h0M98 362.4h0M76.3 431.9h0M80.7 424.5h0M126.1 390.8h0M120.2 344.1h0M115.1 407.7h0M57.9 430.3h0M69.9 385.9h0M77.5 380.7h0M79.4 379h0M115.5 405.5h0M127.1 393.7h0M63.1 410h0M117.3 413.1h0M73.4 424.2h0M131.8 374.6h0M97.2 420.1h0M76.6 373.3h0M62.9 400.6h0M127.2 382.5h0M112.8 360.3h0M67.6 395.1h0M118.2 361.9h0M70.2 392h0M87.6 368.8h0M56.3 405.7h0M128.8 392.4h0M139.5 387.1h0M97.2 359.2h0M81.3 376.7h0M105.4 425.5h0M63.1 403.8h0M117.1 403.5h0M80.8 429.6h0M129.2 389.3h0M64.4 403.7h0M60.1 402.7h0M111.8 410.3h0M64.3 434.1h0M129.7 374.5h0M70.8 422.8h0M66.3 413.1h0M115.1 362.1h0M126.2 367h0M97.9 362.1h0M92.2 368.9h0M81.8 426.2h0M120.5 398.7h0M105.1 416.7h0M58.3 411.7h0M100.4 350.3h0M62.7 399.6h0M79.5 430.1h0M65.5 414.2h0M120.2 355.4h0M73.4 386.9h0M85.7 365.6h0M127.8 383.1h0M91.8 426.7h0M63.9 434.2h0M90.7 368.1h0M53.7 420.7h0M96.7 420.8h0M55.6 420.2h0M130.4 365.8h0M100.2 362.7h0M73.7 428.1h0M71.2 389.7h0M98.3 421.5h0M110.7 411.1h0M111 357.6h0M122 364.6h0M127.5 393.5h0M78.3 365.7h0M68.1 395h0M73.3 425h0M67.7 386.2h0M74 381.6h0M52.2 411.6h0M78.2 424.7h0M125.8 371.1h0M62.9 401.4h0M126.7 383.1h0M115.2 362.4h0M86.1 373.3h0M130.8 348.7h0M80.3 372h0M64.2 421.3h0M63.6 404h0M79 379.1h0M118.4 363.1h0M110.8 410.9h0M80.9 378.2h0M62.7 413.3h0M102.2 421.6h0M124.8 364h0M64.4 381.5h0M102.2 418.5h0M130 381.3h0M118.8 401.8h0M109.7 349.9h0M99.1 419.1h0M141.3 381.3h0M73.5 430.5h0M119.7 364.1h0M112.4 412h0M96.9 361.2h0M127 375h0M126.8 364.3h0M68.3 422.6h0M72.4 423.2h0M71.9 389.6h0M75.4 384.1h0M108 361h0M65.2 391.2h0M135.8 360.5h0M61.1 397.6h0M65.7 403.1h0M121.7 365.2h0M55.1 387h0M88.1 371.3h0M130.6 372h0M90 424.5h0M96.2 422.5h0M113 412.9h0M65.8 409h0M131.2 365.8h0M74 423.6h0M125.8 363.5h0M70.7 423.9h0M99.2 360.3h0M64.6 415.1h0M68.2 396.1h0M108.9 413.2h0M68 398.3h0M121 355.6h0M98.5 419.7h0M134.2 363.6h0M63.7 420.5h0M62.7 418h0M64.1 417.2h0M94.7 425.2h0M130.5 337.7h0M81.9 375.4h0M65.3 379.6h0M112.9 362.3h0M57.5 409.1h0M86.9 361.6h0M127 366.1h0M62.9 397.6h0M66.7 413.9h0M121.4 401h0M120.1 400.7h0M67.5 420.2h0M97.3 362.3h0M113.9 361.3h0M63 422.5h0M80 374.7h0M63.5 407.1h0M133.7 360.1h0M101.2 360.3h0M66.3 414.6h0M128.6 374.6h0M67.1 423h0M88.2 424.3h0M82.8 370.4h0M108 425.2h0M63.3 428.3h0M118.8 362.6h0M125.8 396.7h0M63.1 422h0M124.4 400.2h0M109.1 415.1h0M131.3 358.3h0M88.9 424.9h0M85.1 373.1h0M103.8 352.4h0M60.5 414.7h0M102.1 419.9h0M77.6 426.9h0M126.9 384h0M73.6 433.4h0M75.1 383.4h0M56 404.9h0M126.9 373.5h0M66.9 417.6h0M118 406.6h0M57.7 426.5h0M116.7 403.4h0M70.3 427.7h0M66.6 401.2h0M77.8 425h0M86.2 426.8h0M131.8 384.4h0M89.2 368.1h0M91.9 422.5h0M68.3 396.8h0M56.8 396.8h0M96.8 422.4h0M116.1 406.8h0M96.4 421.6h0M64.6 389.5h0M104.8 419.5h0M68 389h0M87.1 350.3h0M123.3 363.8h0M84.1 372.8h0M66.5 403.8h0M103.4 362.9h0M85.7 372.1h0M93.6 424.5h0M92.5 431.9h0M63.2 414.5h0M105.2 417.5h0M102.1 362h0M121.1 356.7h0M117.8 353.8h0M102.5 360.6h0M68.7 388.4h0M72.9 427.1h0M77.8 430.3h0M118.2 423.9h0M127.3 382.6h0M69.4 384.8h0M64.4 413.6h0M112 412.7h0M75.8 431.1h0M64.9 401h0M62.8 405.3h0M131 378h0M120.1 400.5h0M135.4 377.7h0M94.4 359.5h0M82.4 370.1h0M101 360.9h0M55.9 406.6h0M58.5 419.9h0M76.4 382.1h0M100.8 362.9h0M128.2 372.7h0M93.4 424.7h0M115.9 408.7h0M115.5 362.4h0M86.1 424.4h0M63.2 421.6h0M106.8 358.7h0M73.8 387.1h0M104.2 418.5h0M128 372.5h0M89.1 369.8h0M66 393.8h0M81.7 427.7h0M62.7 411.9h0M139 358.9h0M77.7 436.1h0M73.1 383.6h0M119.6 360h0M98.5 422.8h0M71.4 423.1h0M61.3 421h0M84.4 372.1h0M117.1 362.3h0M139.5 377.2h0M124.2 366.6h0M97.6 425.6h0M122.9 398.6h0M123.2 349.2h0M130 366.2h0M54.8 444.2h0M104.3 416.2h0M103 430.1h0M128.2 360.5h0M61.4 408.1h0M86.6 372h0M99.5 364.9h0M129.4 385.9h0M116.7 361.2h0M84 427.3h0M77.9 377.1h0M103.8 422.5h0M54.7 432.9h0M67.7 426.1h0M63.5 408.8h0M124 367.7h0M48.7 423.2h0M116.2 351.8h0M102.6 362.5h0M91.9 361.5h0M122.3 397.2h0M128.7 369.1h0M105.9 362.7h0M106.6 417.6h0M62.3 409.6h0M120 402.1h0M131.5 371.4h0M81.6 426.4h0M76 381.1h0M139.2 370.3h0M101.2 363.9h0M101.8 428.2h0M112.3 361.4h0M123.8 412.7h0M127.5 405.2h0M73.4 377h0M103.6 362.9h0M86 369.2h0M75.5 381.6h0M111.2 356.4h0M123.6 359.7h0M72.2 430.1h0M87.8 368h0M98.7 359.9h0M97.1 363.5h0M75.5 382.1h0M58.8 410.6h0M65.4 423h0M123.3 395.4h0M71.7 421.7h0M75.4 437.3h0M78.8 425.4h0M111.2 358h0M130.9 364h0M66.1 417.2h0M67 398h0M62.4 408.3h0M123.7 392.8h0M118.3 402.2h0M109.6 361.6h0M55.9 407.8h0M79.6 430.9h0M72.1 432.7h0M119.1 402.6h0M63.3 395.8h0M117.5 403.2h0M64.7 408.1h0M58.3 395.9h0M81.7 425.6h0M134.5 370.4h0M111.1 412.5h0M115.6 358.1h0M124.4 362.4h0M125.6 400.8h0M69.6 392.2h0M88.9 366.1h0M117.5 352.8h0M67.1 429.5h0M110.6 413.7h0M60.6 423h0M128.2 359.4h0M100.5 421h0M87.5 426.6h0M108.3 418.6h0M126.9 389.3h0M80 426.6h0M96.5 360.8h0M68.6 418.2h0M58.1 395.6h0M103.4 361.9h0M122.7 407.5h0M108.3 413.1h0M59.8 423.5h0M100 357.2h0M71.7 383.6h0M130.6 366.9h0M66.3 429.6h0M133.6 375h0M62.1 418.3h0M85 371h0M123.4 353.1h0M64.2 416.3h0M67.4 416.6h0M98.8 419.6h0M128.2 381.6h0M65.6 423.8h0M122.6 362.8h0M66.1 403.2h0M105.1 416.1h0M93.3 353.8h0M114.4 407.7h0M90.6 370h0M75.1 426.2h0M65.5 414.1h0M82 424.4h0M126.5 371.5h0M87.4 370.6h0M62.1 420.5h0M76.4 425.9h0M63.9 403.4h0M106.4 358.9h0M121 363.5h0M101 363h0M129 385h0M85.2 365.4h0M59.8 400.2h0M62.4 410.4h0M93.6 422h0M138.3 388.2h0M122.9 357.9h0M103.3 418.8h0M102.3 419.1h0M122.9 396.2h0M127 374.3h0M89.6 368.7h0M111.8 410h0M107.7 348.7h0M102 422.4h0M100.3 422.4h0M138.5 374.6h0M66.3 391.9h0M66.7 420.6h0M124.8 365.3h0M63.7 415.7h0M127.4 381.5h0M114 361.4h0M66.6 394.3h0M132.6 368.8h0M66.9 402h0M97.1 357.4h0M80.8 376.2h0M112.2 411.8h0M71.9 422.5h0M126.4 384.6h0M79.8 432.1h0M68.4 394.6h0M109.1 361.2h0M78.6 424.4h0M128.8 364.4h0M131.6 363h0M65.8 393.2h0M132 377.5h0M105.3 423.6h0M84.7 424.8h0M74.8 384.4h0M70.2 429.1h0M127.2 401.5h0M86.6 371.9h0M103.6 418.6h0M120.7 358.2h0M75.6 376.3h0M76.1 427.6h0M80 370.9h0M74 423.2h0M126.1 387.9h0M70.8 424.8h0M116 407.9h0M109.6 413.8h0M124.8 366h0M71.8 388.4h0M63.8 418.4h0M117.8 356h0M82.8 426.4h0M104.7 416.4h0M70.6 386.9h0M105.8 417.8h0M119.8 410h0M65.2 414h0M124.5 362.2h0M88.4 369.8h0M131.7 368.3h0M121 397.7h0M61.2 421.2h0M69.9 423h0M126.4 363.8h0M119.7 362.4h0M133.4 358.7h0M72.8 381.5h0M122.7 364.6h0M65.3 392.3h0M122.8 364.3h0M129.5 382h0M105 363h0M66.8 395.6h0M131.9 374h0M129.4 370.6h0M130.1 358.4h0M60.4 416.2h0M110.3 362h0M125.4 354.4h0M112.2 360.4h0M59.6 415.5h0M103.7 428.8h0M127.7 371.3h0M79.7 377.7h0M88.5 433.2h0M129.1 390.1h0M63.7 420.3h0M106.8 360.4h0M96 365.3h0M110.9 362h0M104.1 358.9h0M99.4 359.8h0M86.5 365.2h0M106.2 425h0M125.5 390.8h0M72 384.7h0M108.3 357.7h0M92.1 426.5h0M50.5 411.8h0M121.5 359.3h0M74.8 439.9h0M121.6 365h0M64 396.2h0M116.3 357.8h0M121.9 348.1h0M89.6 424.1h0M108.1 360.8h0M135.6 388h0M67.7 431.2h0M129 380.3h0M63.8 420.4h0M122 358.8h0M80.2 425.2h0M100.1 364.8h0M56.4 405.9h0M72 426.8h0M64.6 393.2h0M147.8 345.4h0M72.8 382.7h0M92.8 424.3h0M52.1 413.8h0M108 415.2h0M129.1 378.2h0M81 374.8h0M126.8 382.4h0M53.6 395.3h0M66.8 420h0M103.7 418.6h0M113.2 359.3h0M78.2 380.9h0M97.9 363.6h0M63 402.9h0M54.4 401.9h0M60.7 406.7h0M130.1 369.7h0M116.7 411.9h0M121.8 355.5h0M72.9 425.7h0M87.7 371.2h0M74.2 386.3h0M88.5 370.7h0M100 433.4h0M96.2 362.9h0M127.5 366.5h0M129.7 351.5h0M92.9 424h0M58 414.8h0M90.3 423.5h0M106.4 420.9h0M69.2 425.3h0M88.3 423.4h0M127.2 378.5h0M66.6 422.8h0M86.9 425.3h0M76.5 377.1h0M65.1 378.8h0M94.7 423.8h0M99.2 420.1h0M127.6 378.7h0M92.9 422.2h0M107.6 340.2h0M79.5 370.4h0M138.3 362.6h0M66.7 416.5h0M128.4 378.6h0M73.2 433.1h0M62.1 408.6h0M114.9 362.2h0M71.3 391.2h0M66.2 430h0M87.3 434.2h0M124.3 397.6h0M78.9 380.6h0M65.2 406.7h0M60.4 407.4h0M129.1 375.6h0M110.6 362h0M105 361.5h0M120.5 400.5h0M78.9 428.2h0M82.5 369.3h0M69.1 391.2h0M110.5 353.1h0M82.7 424.4h0M118.4 408.6h0M108.8 411.9h0M76.8 436.3h0M124.6 397.3h0M83.5 364.1h0M123.3 398.1h0M73 382.1h0M80.4 377.5h0M109.5 361.8h0M128.8 372.9h0M64.6 415.9h0M87.9 430.2h0M133.2 382.4h0M127.1 381.1h0M51.2 411.3h0M70 387.3h0M63.4 431.5h0M71.9 426.3h0M65.7 401.4h0M63.6 384.4h0M67.4 394.1h0M68.7 420.4h0M58.1 407.8h0M123.1 400.4h0M80.3 431.6h0M128.3 361.3h0M89 429h0M61.1 430.9h0M66.5 419.8h0M97.9 365.8h0M75.7 381.3h0M137.8 378.2h0M58.6 444.3h0M118.5 401.5h0M64.4 410.1h0M114.9 410.6h0M92 365.8h0M63.3 402.7h0M99.7 422h0M97.4 419.7h0M75.4 425.1h0M62.6 400.3h0M125.1 355.1h0M127.7 384.2h0M122.8 396.2h0M98.6 365.6h0M107.8 420.9h0M62.3 398.1h0M108.5 360.4h0M130.5 366.8h0M85.9 367.3h0M56.3 413.3h0M127.7 386.5h0M68.7 420.8h0M125.7 365.3h0M69.2 388.5h0M72.9 422.5h0M61.1 418.9h0M77.4 377.8h0M118.2 405.9h0M93.2 359.4h0M84.6 373.1h0M73.2 424.1h0M113.1 359.8h0M72.5 422.6h0M79 378h0M134.5 355.2h0M65.6 425.9h0M63.3 419h0M92.5 423.2h0M133.1 368.7h0M68.5 391.9h0M79.8 371.2h0M72.1 384.4h0M118.9 402.1h0M88.9 361.9h0M104.7 357h0M79.9 425.1h0M127 395.9h0M67.5 416.8h0M70.7 430.5h0M73.1 384.5h0M121.6 357.3h0M85.5 437h0M129.2 398.2h0M73.8 384.4h0M68.3 394.9h0M99.6 363.8h0M132.3 368.3h0M121.7 396.1h0M79.9 426.6h0M126.3 354.8h0M107.7 362.1h0M108.8 414.4h0M130.8 383.7h0M127.5 387.8h0M65.9 400.9h0M120.8 360h0M84.2 427.3h0M78.1 425.7h0M126.9 385.4h0M114.5 361.2h0M69.9 424.5h0M104 422.8h0M125.4 400.6h0M64.3 410.7h0M126.5 383h0M127.4 385.7h0M75.9 380.1h0M76.5 377.2h0M111.1 409.9h0M90.3 369.3h0M119.4 400.6h0M52.4 428.2h0M109.1 360h0M83.1 425.5h0M118.8 405.3h0M73.8 366h0M59.9 403.3h0M88.7 426.8h0M81.5 427.7h0M61.1 395.5h0M127 375h0M122.6 366h0M65.7 403.3h0M81.2 427.9h0M81 442.6h0M104.6 416.8h0M123.6 362.3h0M59.8 414.7h0M127.8 387h0M60.5 412.7h0M88.8 366.8h0M57.5 418.7h0M85 365.8h0M127.2 364h0M63.3 416.3h0M76.3 378.6h0M126.3 384.7h0M59.9 395.2h0M64.1 426.1h0M76.5 379.6h0M127.2 374.2h0M69.7 387.6h0M67.9 427h0M108.9 413.9h0M98.1 358.4h0M84 373.6h0M118.8 361.1h0M118 358h0M96.3 366.2h0M123.5 364.4h0M116.5 412.6h0M89.7 355.3h0M110.9 357.4h0M60.6 441.5h0M114.6 411.6h0M92.7 427.7h0M57.6 411.5h0M126.8 381.8h0M68 422.7h0M106.5 415.5h0M58.8 382.5h0M95.3 436.7h0M104.8 418.9h0M91.5 364.4h0M64.8 402.8h0M105.4 362.9h0M127 365.7h0M127.4 382.1h0M104.6 362.5h0M74.4 427.5h0M69.8 387.4h0M65.7 431.2h0M115.2 423.1h0M105.3 357.3h0M67.1 425h0M97.5 426.5h0M120.8 399.4h0M129.9 371h0M88.4 365.7h0M93.9 421.5h0M76 383.5h0M92.7 422.4h0M69.8 386.4h0M109 425.7h0M105.4 357.1h0M127.2 372h0M102.9 418.3h0M76.1 382.3h0M119.3 404.1h0M93.7 423.5h0M121.8 398.5h0M81.2 425.2h0M131.5 382.9h0M125.5 407.9h0M65.7 411.7h0M58.6 432.2h0M114.6 362.4h0M130.3 376.9h0M127.2 361h0M93.3 362.5h0M107.8 414.1h0M97.3 429.5h0M108.1 412.4h0M63.5 431.8h0M105 421.1h0M61.9 405.3h0M77.9 424.3h0M104.9 360.9h0M132.9 379.5h0M107.3 362.6h0M112.7 361.8h0M119.8 363.6h0M127 372.6h0M124.8 366.4h0M102.2 363.1h0M70.4 431.3h0M89.6 424.6h0M69.1 426.6h0M104.5 363.4h0M145 378.3h0M62.7 419.3h0M63.6 398.1h0M138 390.3h0M81 429h0M66.6 426.8h0M45.8 422.9h0M57.5 396.5h0M122 357.6h0M68.4 396.9h0M71.9 425.3h0M114.1 412.1h0M87.6 424.4h0M69 392.5h0M129 386.8h0M126.7 361.1h0M93.8 362.7h0M76.7 381.5h0M102.3 418.4h0M68.9 421.6h0M63.4 425.3h0M130.1 368.3h0M92.2 426.8h0M115.5 406.6h0M124.2 391.5h0M95 424.3h0M72.7 428.9h0M79.9 437.6h0M125.7 370.7h0M109.7 361.1h0M124 365.3h0M96.8 429.5h0M113.7 355.7h0M99.2 428.8h0M115.3 406.9h0M127.3 364.2h0M92 426.5h0M90.8 365.2h0M126.1 391.8h0M106.1 420.2h0M124.5 365.7h0M120.8 363.1h0M68.9 396h0M73.1 424.4h0M122.9 408.4h0M54.1 404.9h0M131.4 364.8h0M63.3 409.6h0M78.2 425.6h0M126.1 399.8h0M120.6 401.9h0M133.7 382.6h0M67.5 396.9h0M96.2 356.9h0M100.6 363.3h0M122.1 399.2h0M124.3 367.8h0M67.5 400.3h0M119 363.9h0M85.6 369.8h0M105.7 417.5h0M137.7 372.1h0M91.2 357.8h0M128.8 388h0M51.4 400.8h0M96.2 424.8h0M131.3 365.3h0M66.9 417.7h0M86.3 428.5h0M78 379.2h0M127.1 384.6h0M66.5 395.2h0M85.5 426.9h0M70.2 389.6h0M66.6 416.2h0M54.2 412.4h0M72.1 439.6h0M131.1 370.1h0M126.5 386.1h0M119.7 363.5h0M79.4 430h0M75.1 383.9h0M65.4 413.6h0M65.9 416.3h0M134.7 376.2h0M71.7 422.2h0M122.4 402h0M82 424.5h0M68.7 421h0M129.8 399.1h0M56.6 403.9h0M113 411.7h0M68.5 386.7h0M137.7 397.3h0M71.2 422.4h0M125.3 361.2h0M86.9 370.5h0M83.4 373.6h0M65 395.8h0M117.5 356.9h0M94.7 367h0M119.4 353.8h0M111.6 412.1h0M64.7 412.7h0M79.8 378.7h0M66.1 401.3h0M128.5 373.5h0M129 378.9h0M66.5 413.3h0M117.9 363.4h0M123.5 392.7h0M132.3 380.9h0M135.3 358.8h0M72.5 427h0M83.4 371.6h0M124.7 391.8h0M65.6 420.1h0M97.1 365.1h0M137.1 350.1h0M114.9 407.3h0M62.5 405h0M132.7 363.6h0M125.3 363.7h0M129 378.4h0M110.1 421.5h0M112.5 408.6h0M103.8 354.3h0M107.5 413.9h0M125.3 400.3h0M110 411.5h0M76.8 372.6h0M64.8 396.7h0M79.3 372.2h0M90.4 426.7h0M107.8 418.4h0M127.4 382.7h0M130.8 360.7h0M69.6 421.4h0M129.4 397.5h0M93.3 421.8h0M113.3 408.4h0M72.3 440.2h0M62.7 382.9h0M83.5 373.8h0M126.8 359.8h0M112.1 361.7h0M62.5 411.3h0M61.7 390.2h0M126.4 364.2h0M122.5 362.2h0M84 426.9h0M84.6 373h0M64.9 435h0M109 411.5h0M61.8 397.3h0M82.9 373.6h0M60.3 419.8h0M109.4 417.3h0M99 419.9h0M120.5 400.5h0M112.4 415h0M58.9 431.6h0M72.6 432.7h0M67.7 421.4h0M76.7 377.1h0M76.1 433h0M127.3 388.9h0M68.9 391h0M130.3 375.7h0M107.9 358.5h0M78.3 378.7h0M80 379h0M64.1 407.4h0M62.1 391.6h0M106.3 414.6h0M59.4 419.3h0M101.2 423.6h0M114.2 354.5h0M125.3 390.7h0M69.1 395.9h0M83.1 425.1h0M77.1 425h0M79.5 426h0M135.5 381.3h0M63.6 409h0M130.1 372.2h0M110.4 350.8h0M92.1 425.1h0M109.8 351.1h0M130.5 359.6h0M67.7 383.8h0M134.1 365.3h0M61.5 434.2h0M76.9 426.1h0M124.9 368.3h0M128.4 386h0M58.5 417.2h0M133.9 367.7h0M139.3 350.3h0M108.2 415h0M122.4 396.2h0M78.4 380.7h0M128.4 367.4h0M72.6 440.5h0M101.8 419h0M71.7 425.2h0M63.5 415.6h0M67.4 420.3h0M112.6 357.4h0M106.5 415.5h0M53.8 417.9h0M60.6 404.6h0M127.1 382.8h0M86.1 424.6h0M63.1 411.4h0M69.9 391.3h0M95.2 422.6h0M73.8 386.6h0M129.2 363h0M97.5 361.8h0M126.3 372.2h0M118.5 412h0M98.1 364.5h0M63.2 406.7h0M68 384.8h0M60.8 400.1h0M105.6 423h0M111.1 360.8h0M58.6 407.4h0M134.3 403.2h0M99 420.7h0M120.5 359h0M128.9 381.3h0M130.8 396.7h0M92.8 368.4h0M119.1 356.7h0M84.4 430.3h0M113.6 359h0M70.2 427.7h0M94.1 423.9h0M118.4 403.5h0M75.8 424.9h0M66.8 414.5h0M112.3 408.8h0M76.2 427.9h0M68.1 421.3h0M75 424.1h0M97.2 420.9h0M83.4 369.1h0M61.7 424.6h0M66.3 440.3h0M123.1 366.4h0M108.7 360.9h0M111.4 415.3h0M112.1 411.7h0M100.4 425.5h0M77.4 366.4h0M78.8 378.9h0M131.5 380.9h0M83.4 375.8h0M110.5 358.5h0M56.9 434h0M71.7 385.6h0M139.9 380.8h0M81.9 425.9h0M61.8 413.6h0M111 409.7h0M67.5 382.9h0M123.1 356.1h0M134.3 375.6h0M74.5 425h0M91.2 368h0M67.5 389.3h0M111.1 357.4h0M81.9 372.1h0M59.2 435.5h0M131.3 363.4h0M117.7 404.8h0M102.1 417.6h0M91 366.7h0M125.6 399.5h0M109.9 411.1h0M75.4 379.3h0M115.3 412.4h0M123.8 364.3h0M66.1 425.3h0M93.4 431h0M126.3 391.6h0M131 377h0M129.1 394.8h0M72.5 423.1h0M100.5 363.2h0M132.7 387.9h0M71.2 388.4h0M97.5 419.7h0M140.1 372.3h0M115.5 409.5h0M61.9 417.3h0M99 422.3h0M127.1 373.7h0M62.2 423.2h0M58.5 379h0M82.6 372.3h0M65.8 401.6h0M74.1 381.9h0M131.9 392.9h0M122.1 395.1h0M76.6 370.9h0M137.1 372.5h0M120.6 362.7h0M128.6 374.2h0M98.9 419.4h0M109.3 360.9h0M72.4 374.6h0M136.8 363.2h0M108.1 416.2h0M86.1 366.4h0M124.1 365.6h0M120 407.5h0M71.8 435.3h0M77 380.2h0M126.1 370.9h0M95.7 366.9h0M100.1 364.4h0M109.1 413.6h0M127.4 387.3h0M127.7 379.3h0M120.8 399h0M65.8 393h0M122.2 399.5h0M129.8 377.3h0M128.5 385.1h0M121.2 413.2h0M122.6 360.3h0M121.9 352.9h0M99.1 352.7h0M122.9 393.4h0M130 406.4h0M102.8 362.4h0M75.6 382.3h0M65.5 405.2h0M131.5 356.5h0M124.7 355.1h0M105.3 416.7h0M104.4 415.5h0M87.2 366.5h0M119.5 354.9h0M123.4 365.3h0M119.6 400.9h0M61.3 388.3h0M107.1 358.3h0M128.8 374.5h0M123.6 396.7h0M108.6 413h0M113.1 357.1h0M90.6 364.3h0M89.1 366.5h0M91.9 367.3h0M81.8 429.3h0M125.1 361.1h0M79.6 364.8h0M62.2 422.3h0M137.5 369.7h0M134.5 390.6h0M64.6 407.6h0M113.9 410.5h0M66.6 395h0M89.7 423.4h0M89.9 365.4h0M128.2 359h0M95.1 423.1h0M96.1 361.3h0M126.5 383.8h0M113.9 420.1h0M117.8 363.1h0M126.3 390.7h0M100.4 364.7h0M76.5 427.5h0M130 386h0M129.4 383h0M97.7 425.9h0M80.9 430.1h0M50.6 418.4h0M111.4 414.5h0M67 416.1h0M104.1 360.7h0M62 405.6h0M132.1 364.8h0M127.2 376.3h0M127.2 364h0M132.3 387h0M129.6 382.2h0M125.2 358.4h0M139.6 384.6h0M74.7 381.9h0M118.9 409.9h0M116 351.9h0M118 404.4h0M132.2 362.6h0M64.4 402.6h0M130.2 367.9h0M103 361.4h0M105.3 353.8h0M75.5 427.1h0M80.9 425.1h0M80.3 439.8h0M103.1 358.3h0M75.7 429.7h0M112.8 359.4h0M50.6 385.1h0M126.6 364.3h0M72 381.1h0M48.3 417.2h0M59.4 412.5h0M69.4 428.7h0M114.3 359.7h0M99.1 420.1h0M88.4 426.8h0M125.1 362.3h0M88.5 429.4h0M126 361.9h0M65.4 412.1h0M85.3 370.1h0M139.2 367.8h0M70.9 423.5h0M119.3 355.3h0M62.6 426.2h0M115.8 359.9h0M66.3 418.2h0M65.6 437.7h0M66.1 405.7h0M125.7 370.5h0M116.3 407.2h0M133.3 381.7h0M130.7 377.4h0M135.2 405.8h0M101.9 421.2h0M98.7 354.2h0M96.8 364h0M69.5 423.3h0M68.1 426.6h0M128.6 342.5h0M68.6 377.5h0M79.9 427.1h0M103 417.3h0M65.8 385h0M136.1 388.6h0M135.4 369.5h0M88.9 427.5h0M74.3 381.5h0M124.5 394.1h0M129.1 357.1h0M135.8 384.8h0M82.9 426.1h0M114.6 361.3h0M87.6 349.7h0M112.2 349.8h0M130.9 360.7h0M130.8 376.2h0M104.4 363.1h0M98.6 422.9h0M100 424.8h0M109.4 360.9h0M126.2 387.3h0M72.6 425.8h0M126.8 390.5h0M63.4 395.4h0M115.7 362.3h0M58.4 421.7h0M126.8 357.3h0M73.7 380.9h0M66.3 416.4h0M113.5 408.2h0M125.4 366.9h0M107.1 414.8h0M63 406.7h0M62.5 406.8h0M123.7 361.7h0M133.1 381.3h0M86 426h0M107.3 356.2h0M129.8 382.5h0M117 355.8h0M66.2 418.9h0M126.6 385.7h0M78.7 371.9h0M113.1 421.8h0M126.4 369.7h0M64.7 382h0M96.8 420.1h0M65.8 416.5h0M130.5 384.1h0M126.8 386.9h0M92.3 363h0M122.4 402.9h0M132.1 365h0M78.7 432h0M91.2 422.6h0M105.2 421h0M88.3 424.3h0M103.5 419.3h0M89.4 427.8h0M67.2 418.1h0M71.9 383h0M69.7 391.9h0M100.1 358.8h0M87 434.1h0M119.6 403.4h0M71 390.4h0M142.5 386h0M122.9 362.7h0M135.1 379.9h0M126.3 387.9h0M100.1 363.8h0M62.6 401.5h0M96.8 365.4h0M128.8 364.6h0M133.4 358.3h0M101.6 362.3h0M60.6 414.7h0M68.9 420.2h0M83.3 374.6h0M120.2 362.6h0M91.3 424h0M111.8 410h0M114.5 416.2h0M97.9 361.5h0M90.7 428.2h0M65.4 407h0M130.4 380.3h0M119 407.9h0M117 404h0M77.3 430.6h0M109 359.3h0M117.8 416.6h0M97.2 365.8h0M124.6 395.8h0M71.5 428h0M70.8 423.6h0M128.6 380.3h0M70.9 384.7h0M99.3 423.6h0M60.2 406.6h0M44.9 405.4h0M130.6 376.6h0M79 376.2h0M63.4 404.8h0M90 425.2h0M110 362.1h0M117.4 360.6h0M77.4 430.6h0M76.5 381.9h0M71.2 421.2h0M69.1 393.1h0M73.9 377.9h0M86.1 371.3h0M125.7 390.4h0M119 362.1h0M75.1 423.7h0M128.5 366.3h0M118.8 359.7h0M124.1 402.7h0M128.8 380.2h0M92.5 367.1h0M115.1 348.6h0M75.4 424.5h0M65 394.2h0M121.7 397.4h0M92.7 368.6h0M96.6 359h0M60.7 393.3h0M127.7 378.3h0M81.6 428.6h0M84.2 427.9h0M91.1 368.9h0M125.4 365.6h0M81 375.9h0M59.8 401.3h0M125.2 360h0M119.7 359.5h0M88.8 361.8h0M66.1 425.7h0M64.3 419.5h0M121.2 363.9h0M146.3 370.8h0M73.4 381.1h0M97.2 420.8h0M129.7 386h0M72.8 383.9h0M97.2 427h0M107.4 360.4h0M99 361.4h0M133.9 379.7h0M105.5 415.7h0M127.9 393.7h0M104.4 362.9h0M100.9 433h0M126.3 391.3h0M113.4 358.3h0M76.2 439h0M68 368.2h0M65.1 419.5h0M79.4 372.1h0M63.7 401.8h0M66.2 404.3h0M131.9 367.2h0M110.3 359.7h0M133.5 380.8h0M78.5 381h0M76.8 381.5h0M66.2 421.3h0M121.2 362.4h0M70.1 384.9h0M121.8 396.6h0M81.8 429h0M86.2 428.4h0M124.6 368.1h0M108.1 359.8h0M65.4 432.9h0M120 399.2h0M66.9 393.4h0M111.3 411h0M71.3 382.6h0M61.5 411.9h0M132 387.2h0M70.9 390.4h0M120.9 403.6h0M73.1 424.6h0M129.1 399h0M125 364.1h0M56.7 413.9h0M112.7 361.2h0M101.9 363.5h0M125.5 368.6h0M118.6 356.9h0M139.5 360.7h0M110.1 361.4h0M104.7 415.2h0M72.3 381.1h0M88.1 429.3h0M124.2 407h0M106.3 361.2h0M127.6 360.8h0M131.4 391.6h0M95.6 362.9h0M121.2 396.8h0M100.4 419.7h0M93.7 360h0M102.9 362.3h0M65 414.1h0M108.6 414.7h0M133.5 364.5h0M59.7 412.2h0M104 361.4h0M110 361h0M65 423.9h0M77.2 432.9h0M72.6 385.5h0M70.4 392.8h0M128.6 380.3h0M101.1 417.9h0M115 413.3h0M59.2 399h0M124.4 364.5h0M66.1 413.1h0M61.1 405.3h0M126.5 389.1h0M124.4 362.2h0M87.9 369.4h0M73.1 423h0M79.7 379.4h0M134 390.4h0M64.4 405.2h0M97.5 422.9h0M60.9 420.6h0M133.3 336.9h0M83.3 426.4h0M61.8 412.6h0M66.9 398.2h0M101.1 421.8h0M90.9 359.3h0M103.4 418.9h0M118.6 402.6h0M82.2 375.2h0M91.6 368.5h0M128.7 370.9h0M133.4 384.8h0M127.2 380.4h0M73.3 425.1h0M124.1 406.9h0M117.9 357.8h0M73 431.5h0M83.7 361.5h0M127.2 377.6h0M88.5 423.6h0M66.3 424.7h0M99.6 419.4h0M127.1 367.4h0M143.2 387.7h0M64.3 410.6h0M65.9 415.7h0M93.2 366.1h0M65.5 407.2h0M130.8 378h0M61.3 417.9h0M101.3 363.4h0M90.8 425.6h0M69.3 421.9h0M101.6 358.8h0M99.9 362.4h0M133.1 373.7h0M67.9 424.1h0M66.7 401.9h0M106.5 362.9h0M66.8 420.5h0M66.9 381.5h0M114.5 357.3h0M92.4 428.1h0M101.6 419.4h0M58.5 407.3h0M87.5 428.8h0M66.8 419h0M68.6 394.1h0M131.5 367.3h0M70.7 388.7h0M95.8 423.7h0M63.1 401.5h0M123.1 405.9h0M63.2 413.1h0M68.6 373.6h0M69.6 423.4h0M62.8 407.6h0M68 396.8h0M69.7 392.7h0M127.8 367.3h0M131.4 380.1h0M66.7 420.3h0M117.8 361.6h0M116.2 410.5h0M62.3 429.5h0M118 409.3h0M113.6 354.8h0M128.2 376.4h0M61 412.9h0M102.6 363.7h0M67.2 416.7h0M70.2 427.3h0M87.7 367.4h0M66.6 399.6h0M126.6 388h0M76.8 379.6h0M63.2 409.1h0M88.6 424.6h0M84.1 425.6h0M98.6 420.6h0M92.3 361.2h0M65.6 421.3h0M72.5 422.3h0M69.3 425.7h0M120.1 402h0M81.5 433.8h0M65.3 414.2h0M122.4 413.6h0M55.7 392.3h0M97.1 426h0M117.6 359.6h0M117.7 359.1h0M103.5 362.9h0M58.1 448.4h0" stroke="#000" stroke-width="3.2" stroke-linecap="round" fill="none"/>
<circle cx="116.8" cy="298.2" r="1.6" fill="#ff0000"/>
<circle cx="123.7" cy="295.7" r="1.6" fill="#ff0000"/>
<circle cx="115.9" cy="323.7" r="1.6" fill="#ffa500"/>
<circle cx="103.8" cy="324.1" r="1.6" fill="#fff000"/>
<circle cx="139.2" cy="318.1" r="1.6" fill="#fff000"/>
<circle cx="118.1" cy="332.7" r="1.6" fill="#fff000"/>
<circle cx="126.7" cy="337" r="1.6" fill="#fff000"/>
<circle cx="107.7" cy="340.1" r="1.6" fill="#fff000"/>
<circle cx="117.6" cy="350.8" r="1.6" fill="#fff000"/>
<circle cx="109" cy="323.7" r="1.6" fill="#000"/>
</g>
<g>
<rect x="205.4" y="289.3" width="116.1" height="165.2" fill="#fff" stroke="#8a8a8a" stroke-width="0.8"/>
<line x1="201.8" y1="451.3" x2="205.4" y2="451.3" stroke="#222" stroke-width="0.7"/>
<text x="200.2" y="454.2" font-size="8" text-anchor="end">−4</text>
<line x1="201.8" y1="422.9" x2="205.4" y2="422.9" stroke="#222" stroke-width="0.7"/>
<text x="200.2" y="425.8" font-size="8" text-anchor="end">−2</text>
<line x1="201.8" y1="394.5" x2="205.4" y2="394.5" stroke="#222" stroke-width="0.7"/>
<text x="200.2" y="397.4" font-size="8" text-anchor="end">0</text>
<line x1="201.8" y1="366.1" x2="205.4" y2="366.1" stroke="#222" stroke-width="0.7"/>
<text x="200.2" y="369" font-size="8" text-anchor="end">2</text>
<line x1="201.8" y1="337.7" x2="205.4" y2="337.7" stroke="#222" stroke-width="0.7"/>
<text x="200.2" y="340.6" font-size="8" text-anchor="end">4</text>
<line x1="201.8" y1="309.4" x2="205.4" y2="309.4" stroke="#222" stroke-width="0.7"/>
<text x="200.2" y="312.3" font-size="8" text-anchor="end">6</text>
<line x1="227.3" y1="454.5" x2="227.3" y2="458.1" stroke="#222" stroke-width="0.7"/>
<text x="227.3" y="467.9" font-size="8" text-anchor="middle">−0.2</text>
<line x1="256.9" y1="454.5" x2="256.9" y2="458.1" stroke="#222" stroke-width="0.7"/>
<text x="256.9" y="467.9" font-size="8" text-anchor="middle">−0.1</text>
<line x1="286.5" y1="454.5" x2="286.5" y2="458.1" stroke="#222" stroke-width="0.7"/>
<text x="286.5" y="467.9" font-size="8" text-anchor="middle">0.0</text>
<line x1="316.1" y1="454.5" x2="316.1" y2="458.1" stroke="#222" stroke-width="0.7"/>
<text x="316.1" y="467.9" font-size="8" text-anchor="middle">0.1</text>
<text x="263.4" y="481" font-size="8" text-anchor="middle">Evap. fraction anomaly</text>
<text transform="translate(185.2,371.9) rotate(-90)" font-size="8" text-anchor="middle"><tspan font-style="italic">Tx</tspan>7d anomaly (°C)</text>
<polygon points="309.4,413.5 309.3,410.3 309,406.7 308.3,402.9 307.5,398.9 306.3,394.9 304.8,390.8 303,386.7 300.8,382.7 298.3,378.9 295.4,375.4 292.3,372.1 288.8,369.2 285.1,366.7 281.2,364.7 277.2,363.1 273.3,362 269.5,361.5 265.9,361.5 262.6,362 259.8,363.1 257.5,364.6 255.8,366.7 254.7,369.2 254.4,372.1 254.7,375.3 255.8,378.9 257.5,382.7 259.8,386.6 262.6,390.7 265.9,394.8 269.5,398.9 273.3,402.9 277.2,406.7 281.2,410.2 285.1,413.5 288.8,416.4 292.3,418.9 295.4,420.9 298.3,422.5 300.8,423.6 303,424.1 304.8,424.1 306.3,423.6 307.5,422.5 308.3,421 309,418.9 309.3,416.4" fill="#000"/>
<path d="M284.9 366.9h0M287.4 420.5h0M271.3 347.6h0M310.1 425.3h0M310.3 444.3h0M261.3 360.3h0M301.6 383.9h0M307.4 391.4h0M272.9 360.9h0M253.8 350.5h0M298.2 379.4h0M263.3 362.5h0M311.3 422.7h0M277.6 411.8h0M300.3 424.2h0M294.5 367.6h0M256 358.2h0M295.3 423.2h0M308.1 423h0M284.9 365.2h0M314.4 429.1h0M313.9 439.4h0M294.8 373h0M308.5 428.2h0M307.2 395.6h0M303.2 426.1h0M256.2 377.1h0M265.3 361.2h0M302.6 428h0M270.2 403.8h0M311.3 411h0M289 424h0M309.8 428.7h0M267.3 354.4h0M258.1 359.5h0M246.2 352.8h0M246.5 389.3h0M294.4 371h0M278 407.2h0M255.2 369.6h0M295.1 372.7h0M300.9 376.6h0M282.4 418.2h0M292.5 419.2h0M248.7 362.2h0M254.4 359.7h0M251.5 354.4h0M251.9 366.9h0M303.2 380.9h0M305 392.2h0M312 414.1h0M264.5 399h0M256.8 366.6h0M290 369.1h0M259.5 390.1h0M305.5 425.5h0M247.8 360.7h0M264.6 359.1h0M311.5 421.8h0M312.2 436.1h0M276.2 358.1h0M300.5 425.7h0M309 415.7h0M291 421h0M307 422.5h0M307.9 420.4h0M309.2 425h0M257.4 362.9h0M309.8 418.3h0M253 383.5h0M308 425h0M279.9 413.4h0M285.8 422h0M306.6 397.2h0M279.3 409.6h0M309.5 415.4h0M254.3 378.5h0M309.6 424.4h0M309.1 408.1h0M299.7 426.3h0M274.6 405.7h0M279.7 364.1h0M276.2 356.1h0M304.7 389.4h0M303.1 426.1h0M308.8 423.4h0M268.6 397.6h0M273.2 362.4h0M256.3 351.7h0M305.7 429h0M292 422.5h0M260.7 388.7h0M309.3 409.6h0M309.7 422.9h0M269.9 402.9h0M259 360.3h0M257.3 389.9h0M283.9 360h0M290.8 419.2h0M266.6 396h0M269.2 399.6h0M257.9 359.7h0M303 371.7h0M251.3 367.6h0M300.2 379.5h0M302.7 386.9h0M258.4 383.1h0M303.3 426.2h0M302 382.3h0M298.1 377.3h0M268.6 359.5h0M306.6 423.2h0M281.4 360.6h0M309.3 399.9h0M291.1 419.9h0M301.8 429.1h0M305.3 431.9h0M250.4 384.6h0M254.2 373.4h0M294 419.9h0M306.4 422.3h0M255.1 390.5h0M310 399.3h0M309.2 424.8h0M263.8 362.6h0M265.7 397.8h0M253.4 375.6h0M291.7 418.4h0M307.5 423.5h0M305.6 387h0M289.7 420.9h0M285.6 363.4h0M308.5 402h0M282.2 362.3h0M250.6 390.7h0M311.8 418.5h0M310.6 412.7h0M284.7 364.8h0M247.3 367.3h0M299.1 374.6h0M284.1 364.1h0M302.9 429.1h0M309.1 431.3h0M267.2 404.2h0M309.5 412.4h0M309 417.2h0M258.7 383.4h0M277.1 407.1h0M276.7 361.5h0M290.3 418.2h0M305.7 425.7h0M262.6 392.8h0M308.9 434.2h0M266 394.6h0M278.7 363.4h0M254.8 375h0M294.2 370.6h0M282.2 365.7h0M289.9 418.1h0M280.9 361.5h0M309.3 416.5h0M265.7 394.5h0M265.4 394.3h0M313.9 421.9h0M284.6 413.7h0M292.3 370.7h0M264.7 393h0M309.5 402.6h0M249.5 364.9h0M284.4 366.8h0M269.5 398.5h0M309.7 408.9h0M264.1 395.6h0M283.8 413.5h0M307 424.5h0M282.7 365.9h0M277.6 363.9h0M258.7 386h0M263.3 350.2h0M264.7 401.6h0M300.2 426.2h0M283.2 364.7h0M276.5 407h0M240.2 356.9h0M266.6 356.5h0M277.6 413.9h0M261.7 362.3h0M254.7 372.6h0M265.9 353.4h0M310.5 411.8h0M258.3 389.3h0M303.2 435.4h0M308 400.1h0M301.2 376.4h0M309.1 401.8h0M308.7 427.5h0M276.1 363h0M306.9 393.6h0M284.7 365.5h0M257 384.9h0M298.8 379h0M256 359.6h0M262.7 357.9h0M303.9 383.2h0M270.8 400.9h0M311.3 420.7h0M257.9 395.9h0M249.2 381h0M309.2 419.9h0M269.3 400.2h0M250.5 375.7h0M285.3 422.1h0M296.6 423.8h0M264 357.6h0M251.6 363.4h0M255.8 361.6h0M280.3 411h0M299.2 380.2h0M289.5 366.6h0M308.2 427.5h0M290.1 421.2h0M252.8 359.6h0M295.5 373h0M262.7 359.7h0M284.7 365.6h0M295.2 422.7h0M249.5 356.3h0M310.5 394.3h0M306.2 425.5h0M278.8 362.7h0M258.2 358.8h0M252.3 383.4h0M296.2 373.6h0M310.2 406.1h0M257 360.7h0M259.3 363.8h0M302.5 386.6h0M308.8 399.6h0M303.7 383.1h0M306.1 390.2h0M310.5 417h0M310.6 413.7h0M259.1 386.3h0M298.8 423.7h0M261.2 359.8h0M309.1 408.5h0M267.2 404h0M309.5 407.7h0M269.2 356.9h0M306.9 421.8h0M293.1 364.5h0M309.8 410.8h0M270.9 403.6h0M276 406.3h0M263.3 395.4h0M290 367.5h0M297.5 427.3h0M297.3 373.8h0M266.9 397.5h0M286.6 421.4h0M267.9 346.7h0M243.3 354.6h0M301.8 382.1h0M307.8 397.5h0M306.9 430.3h0M279.1 407.6h0M247.4 364.9h0M308.5 420.1h0M309.2 415.7h0M298.7 377.4h0M309.6 414.8h0M276.2 408.1h0M281.1 365h0M257.8 365.9h0M255.8 368.9h0M250.5 362.6h0M286.5 361h0M303.5 384.4h0M305.1 423.1h0M313.9 416.8h0M253.8 375.5h0M290.8 418.6h0M308.2 420.5h0M289.3 363.3h0M311.3 403.9h0M254.3 368.5h0M299 364.4h0M257.3 366.1h0M251.4 368.5h0M311.2 428.4h0M263.5 393.1h0M253.7 361.2h0M312.7 420.1h0M314.5 432h0M308.6 421.9h0M303.7 388.1h0M287.5 417.8h0M309.8 405.1h0M256 384.7h0M262.7 359.2h0M266.4 397.1h0M292.7 373.1h0M283.8 414.3h0M270.7 362h0M308.6 401.8h0M309.9 405.4h0M307.8 440.8h0M309.1 410.4h0M309.7 400.5h0M264.8 393.8h0M307.4 394.4h0M290.6 370h0M277.6 361.5h0M306.6 423.4h0M296.4 376.5h0M287.1 352.2h0M287.7 366h0M306.9 388h0M284 364.6h0M256.9 360.3h0M309.8 423.5h0M271 402.1h0M258.7 390.8h0M309.3 419.2h0M309.7 422.2h0M298.2 424.3h0M255.8 380h0M255 367.1h0M310.6 416.7h0M313.2 424.7h0M271 407.5h0M303.5 427.1h0M308.8 389.5h0M289.3 370.1h0M256.1 379.5h0M254.4 374.8h0M297.6 368.6h0M310.8 425.2h0M304.1 388.9h0M232 376.6h0M306.5 425.7h0M305.5 384.1h0M297 370.6h0M270.3 362.1h0M262.3 397.2h0M267.2 357.7h0M290.1 368h0M257.3 364.6h0M231.4 362.7h0M304.8 388.7h0M275.8 362.7h0M253.3 365.8h0M296.1 376h0M307.3 393.8h0M308.9 405.4h0M249.7 358.8h0M260.3 387h0M313.5 431.5h0M302.8 381.1h0M255.1 373.8h0M260.9 352.5h0M308.2 392.9h0M255.3 382.2h0M263.5 391.1h0M264 392.8h0M304.5 424.1h0M254.4 373.7h0M304.2 389.8h0M289.8 416.9h0M288.7 417h0M302.4 429.2h0M283.6 416.5h0M309.4 407.2h0M307 421.8h0M306.9 387.7h0M309.7 401h0M263.1 391.1h0M288.9 368.2h0M289.9 417.1h0M250.6 359.8h0M312.4 408.7h0M270.3 400.1h0M251.5 357.4h0M314.1 429.3h0M286.1 416.5h0M258.8 387.5h0M306 429.1h0M297.7 428.7h0M301.5 383.7h0M302 376.7h0M280.8 410.1h0M309.2 410.7h0M305.9 394.2h0M257.6 359.2h0M294.2 374.2h0M288.7 425.4h0M307.2 432.2h0M309 406.3h0M301.2 383.8h0M294.3 370.6h0M303.5 386.8h0M311.9 414.5h0M252.8 375.3h0M275.5 359.2h0M254.4 367.7h0M299.9 427.2h0M260.2 386.4h0M283.9 364.2h0M308.8 421.8h0M258.8 394.6h0M307.8 396.8h0M309.3 417.7h0M308.2 420.8h0M301.8 382.2h0M254.2 370.6h0M311.3 415.2h0M255.1 369h0M250.1 358.7h0M308.7 403.5h0M255.4 367.7h0M253.6 376h0M254.4 360.2h0M287.6 415.9h0M247.6 358.8h0M276.8 407.3h0M292.3 422h0M258.9 355.4h0M295.6 431.5h0M309.6 402.1h0M300.5 383h0M249.6 383.6h0M253.9 372.2h0M263.2 353.6h0M292.2 368.1h0M280.2 361.5h0M305.2 425.6h0M299.3 423.8h0M263.3 356.6h0M283.8 412.9h0M286 414.1h0M256.7 366.6h0M298 378h0M301.2 427.7h0M289.6 364.7h0M288.5 369.5h0M309.4 394.7h0M295.7 374.3h0M247.1 365.6h0M305.5 425.5h0M286.5 417.8h0M306.6 431.4h0M290.5 361.8h0M259.4 352.9h0M259.5 385h0M308.9 402h0M277.9 407.4h0M243.2 358.2h0M311 414.2h0M297 426.6h0M304.7 391.5h0M265.4 359.1h0M257.7 363.4h0M272.2 359.8h0M288.7 419.9h0M271.3 353.3h0M309.3 409.5h0M306.7 385.4h0M301.3 423.2h0M308.8 419h0M287.5 424.1h0M301 433.3h0M313.5 428.9h0M309 415h0M294.7 370.7h0M254.7 368.5h0M287.1 365.4h0M270.9 354.1h0M305 428.2h0M233 371.7h0M250 368.2h0M256.3 383.7h0M299 371.1h0M307.5 429.1h0M291.3 368.7h0M254.4 362h0M254.8 379.2h0M298.6 379h0M312.4 429.1h0M302.3 426.4h0M305.5 391.7h0M311.9 429.2h0M300.3 423.9h0M302.2 423.5h0M249.4 367.5h0M314.7 424.1h0M308.8 400.2h0M270.2 403.9h0M251.8 363.2h0M310.6 423h0M281.8 365.3h0M297.8 376.7h0M275.9 415.8h0M308 392.2h0M247.6 373.9h0M295.1 422.8h0M305.3 392.6h0M301.2 378.2h0M307.8 420.3h0M259.1 386.3h0M269.4 358.8h0M293.3 426.1h0M261.1 389.1h0M313.1 429.8h0M297.9 422.4h0M305.9 392h0M291.8 369.5h0M305.4 387.1h0M301.8 383.9h0M247.3 365.6h0M307.2 393.9h0M251 373.3h0M267.7 405.1h0M301.5 382.7h0M309.3 395.9h0M270.2 361.3h0M252.8 373.4h0M304.2 429.7h0M284.3 367h0M279.9 409.1h0M302.9 385.3h0M252 361.7h0M285.3 364h0M255 372.8h0M291.3 418.2h0M247.7 377.6h0M299.7 379.3h0M277.1 361.8h0M242.1 375.8h0M261.9 394.4h0M259.8 358.8h0M291.7 432.4h0M285.1 362.8h0M307 395.5h0M249.5 372.7h0M284.4 418.8h0M309.6 406.8h0M309 420.5h0M258.8 386.5h0M308.9 401.6h0M304.9 425.8h0M261 356.1h0M279 408.8h0M271.3 401.7h0M310 403.2h0M278.5 364.3h0M252.8 375.7h0M310.4 412.9h0M309.1 403h0M253.2 351.9h0M272.6 406h0M295.2 435.2h0M308.3 399.5h0M294.2 373.2h0M309.4 411.1h0M249 364.4h0M265.9 396.1h0M309.7 408.4h0M268.2 353.6h0M309.2 418.8h0M290.3 418.6h0M306.5 392.6h0M309.9 416.5h0M310 431.7h0M307.1 398.4h0M250.5 375.5h0M256.5 367.9h0M284.2 364.8h0M312 419.7h0M291.4 369.7h0M306.8 426.2h0M306.8 422.7h0M304.5 432.3h0M308.5 425.5h0M281.5 410.7h0M303.4 423.9h0M280.9 411.2h0M276.3 408.2h0M250.4 381.5h0M246.4 360.7h0M266.9 395.9h0M310.6 392.5h0M298.1 368h0M248.9 372.2h0M311.7 422.3h0M308.5 425.6h0M287.5 416.6h0M251.3 350.5h0M258.7 364h0M309.3 420.2h0M250.2 368.4h0M267.9 397.4h0M305.9 394.8h0M260 393.6h0M294.4 368.7h0M276.5 410.8h0M286.6 364.4h0M304.5 424.5h0M286.5 416.3h0M297 375.4h0M255.7 375.2h0M250.5 367.9h0M254.1 372.8h0M241.9 364.5h0M290.9 420.6h0M255.1 379.5h0M290.3 369.3h0M309.2 396.3h0M256.1 390.6h0M304.9 424h0M292.7 420h0M289.7 416.7h0M292.5 420.7h0M267.1 402.2h0M269.2 362h0M297.7 421.8h0M301.1 382.3h0M247.1 369h0M254.8 372.6h0M310 401.8h0M260.3 389.7h0M276.6 358.1h0M305.1 427.3h0M296.4 421.7h0M254.6 353.5h0M254.6 379.7h0M283.2 411.4h0M260.8 396.6h0M264.3 357.9h0M259.7 385.2h0M294.7 370.4h0M306.7 430.2h0M303.1 424.2h0M304.8 386.6h0M302.5 424.7h0M286.4 415.5h0M303.8 426.6h0M301.9 427.2h0M307.7 425.9h0M269.4 405.1h0M310.4 420h0M249.9 348.6h0M294.1 373.8h0M284.8 429.2h0M301.6 423.8h0M257 382.9h0M305.6 391.5h0M312.4 421.2h0M290.3 417.3h0M310.6 412h0M245.4 359.3h0M302.2 368.4h0M296.7 437h0M311.5 418.7h0M252.4 368.3h0M257.3 387.3h0M276.7 363.4h0M302.4 383.2h0M258.6 389.3h0M270.1 403.2h0M298.2 374.6h0M263.4 362.2h0M295.3 374.7h0M308 399.4h0M307.1 422.8h0M301.1 424.5h0M282.3 364h0M290.8 368.9h0M253.8 366.5h0M311.4 396.3h0M295.1 426.1h0M244.8 369.2h0M306 422.7h0M269.2 410.5h0M301.2 380h0M287.7 354.1h0M270.2 401.2h0M261.1 389.9h0M287.1 367.5h0M294 425.9h0M304.5 386h0M280.2 410.1h0M276.6 363h0M267.1 351.8h0M295.5 423.8h0M259.3 340.3h0M310.6 412.5h0M281.4 414.5h0M225.8 361.3h0M300 375.2h0M281.8 364.6h0M246.5 384h0M301.8 424.1h0M260.6 393.6h0M305.7 427.9h0M308.8 400.8h0M308.9 408.4h0M260.6 386.9h0M234.2 364h0M305.8 430.9h0M290.4 419h0M249.7 376.7h0M274.2 403h0M253.7 378.9h0M278.7 361.3h0M299.8 380.2h0M261.2 349.2h0M266.9 353.2h0M308.1 430.5h0M266.8 396.1h0M247.7 378.6h0M257.3 381h0M282.7 361.9h0M299.7 371.3h0M274.3 404.4h0M269.2 360.2h0M281.7 363.1h0M290.6 424.1h0M295.4 422.3h0M275.1 359.4h0M260.4 356.9h0M269.6 361.9h0M280.3 416.6h0M266.8 354.6h0M306.1 427.2h0M252.7 370.5h0M286 418.5h0M243.4 368.8h0M310 419.4h0M311.6 403.3h0M264.9 361.3h0M311.6 409h0M261.8 362.6h0M262.4 362h0M308.6 403.1h0M270.1 362h0M270.5 361.4h0M285.8 415.1h0M244.9 378.4h0M297.1 377h0M304.8 437.9h0M299.6 430.9h0M305.6 391.4h0M270.9 403.1h0M306 393.5h0M307.6 400.7h0M309.4 419.8h0M255.3 367.4h0M306.7 393.1h0M309.3 403.8h0M255.7 373.9h0M302.5 434h0M274.8 362h0M284.6 416.6h0M261.4 359.8h0M290.3 367.5h0M311.1 410.2h0M269.4 360.3h0M289.1 369.5h0M307.3 397.6h0M306.7 395.3h0M313.2 429.8h0M309.4 400.7h0M288.3 415.3h0M304.6 431h0M293.9 372.3h0M308.2 427.4h0M258.9 400.7h0M268.3 398.2h0M263.1 395.4h0M267.5 349.2h0M268 400.2h0M256 355.3h0M309.2 402.5h0M250.6 376.4h0M310.4 407.7h0M307.5 431h0M269.7 355.9h0M253.1 377.7h0M304.4 428.4h0M309.3 403.9h0M309.1 417.3h0M254 352.6h0M249.3 366.3h0M280.7 365.1h0M267.2 396.4h0M300.2 432h0M271.5 406.1h0M276.4 413.6h0M309 404.5h0M312.1 419.5h0M249.8 376.2h0M306.7 396.2h0M314.8 439.1h0M239.7 367.2h0M273.9 409.4h0M301.3 422.9h0M258.9 364.9h0M308.6 422.6h0M256.4 391.9h0M259.3 357.6h0M303.7 388.9h0M300.9 372.1h0M302.2 425.1h0M252.6 356.2h0M278.3 409.9h0M301.5 384.4h0M310.4 418.5h0M288.3 368.7h0M305.2 424.3h0M258 351.2h0M308.7 405.9h0M255 382.2h0M311.5 418.1h0M271 360.4h0M260.3 386.5h0M294 374.2h0M308.1 430.5h0M287.5 418.4h0M275.3 406.3h0M268 354.9h0M309.2 420.9h0M308.7 403.2h0M311.6 425.7h0M265.5 401.3h0M279.8 409.8h0M255.5 361h0M291.9 418.4h0M278.9 351.3h0M306.4 431.8h0M296 375.6h0M309.3 400.6h0M281.5 363.7h0M277.9 406.4h0M250.7 373.7h0M304.6 387.3h0M308 422.1h0M311.9 410.5h0M260.5 394.7h0M255 363.5h0M265.6 359.6h0M264.3 394.5h0M309.8 399.2h0M262.1 398h0M308.6 426.9h0M292.7 418.9h0M310.1 413.3h0M245.9 379.7h0M283.8 357.6h0M254.3 368.3h0M313.4 417.3h0M241.4 370h0M261.8 363.4h0M234.7 384.8h0M274.7 405.5h0M309.4 410.9h0M241.4 373.5h0M244.4 368h0M269.7 353.1h0M283.5 411.6h0M254.7 368.8h0M245.2 353.8h0M279.9 420.4h0M273.9 403.1h0M298.6 422.9h0M284 413h0M309.7 428.8h0M262.9 362.9h0M282 365.7h0M296.3 423.2h0M303.3 386h0M309 421.5h0M269.6 404.2h0M259.5 360h0M310.8 386.9h0M298.1 378.9h0M302.3 426.2h0M289.3 418.4h0M284.7 366.5h0M265.2 360.9h0M251.3 368h0M275.6 356.3h0M259.2 385.7h0M312.3 404.9h0M307.4 428.8h0M287.3 368.3h0M286.4 420.9h0M293.8 373.5h0M295.9 421.5h0M292.4 418.4h0M309.7 414.8h0M254.3 358.1h0M290.4 369.1h0M284.2 364.3h0M304 427.5h0M311.3 413.7h0M262.3 351.2h0M245.6 361.5h0M270.6 353.8h0M290 369.9h0M311.8 418.1h0M311.1 431.2h0M287 368.3h0M309.1 426.9h0M270.7 403.3h0M254.5 357.3h0M282.9 412.4h0M275.9 361.3h0M298.5 423.6h0M268.9 360.5h0M278.4 362h0M304.3 423.3h0M256.7 360.7h0M245.1 363.8h0M310.1 410.6h0M290.5 420h0M265.7 361.4h0M308.7 417.2h0M284.1 421h0M252.8 368.7h0M302.9 429.1h0M286.3 421.2h0M309.1 408.7h0M310.8 407.9h0M228.3 367h0M304.8 427.1h0M285.8 364.3h0M271.3 359.7h0M261.5 394.5h0M301.8 383h0M311.1 409h0M304.5 390.3h0M303.1 386.4h0M308.3 399.8h0M249.6 375.5h0M307.3 398.5h0M308.6 431.5h0M301.1 384h0M270.4 399.6h0M310.6 418.9h0M280.7 359h0M302.2 430.3h0M249 369.3h0M272.3 357.9h0M249.4 384.3h0M252.9 379.6h0M265.3 398.8h0M277.8 357h0M263.7 358.8h0M305.4 423.5h0M247.6 372h0M312.2 435.4h0M306.9 425.8h0M295.6 421.2h0M259.8 343.3h0M294.2 373h0M254.7 372.3h0M310.1 420.4h0M301.1 423.2h0M254.4 357h0M308.2 394.2h0M250 373.1h0M289.1 368.8h0M278.4 407h0M252.4 370.2h0M283.9 413.3h0M264.2 393.2h0M265.9 414.4h0M262.3 356.1h0M309.1 419.5h0M256.2 365.6h0M267 404.4h0M297.7 374h0M310.3 414h0M261.6 360.1h0M308.8 402.1h0M244 375.9h0M300.2 382.5h0M312.9 406.6h0M274.2 407.2h0M293.9 420.7h0M259.7 386.3h0M289.6 368.1h0M303.1 386.4h0M292.9 362.9h0M310.5 418.8h0M307 392.5h0M260.6 355.2h0M238.3 363.6h0M249.1 355.4h0M249.7 370.1h0M302.6 386.3h0M297.2 421.8h0M286.8 416h0M256.9 380.5h0M308.5 402.8h0M281.1 364.2h0M310.2 413.8h0M256.7 384h0M308.1 425.3h0M250.8 365.9h0M279.6 361.8h0M303.1 426h0M281.4 416.9h0M264.8 355h0M316.3 439.2h0M281.8 363.2h0M286.9 417.1h0M314.6 421.4h0M301.8 384.5h0M303.7 385.4h0M255.1 384.7h0M313.5 432.9h0M292 372.2h0M267 399.7h0M309.2 426h0M298.1 377.1h0M307 425h0M303.6 429.4h0M247.7 352h0M259.2 389.9h0M292.1 370.7h0M252.5 366.4h0M309.3 404.3h0M306 391.2h0M259 358.1h0M307 423.3h0M309.1 416.5h0M306.4 392.4h0M247.9 377.4h0M312.1 428.2h0M295.3 425.5h0M282.6 362.7h0M297.1 422.4h0M266.2 396.9h0M308 424.1h0M243.4 382.4h0M277.3 407h0M301.6 382.5h0M291.9 430.3h0M267.2 359.7h0M312.4 435.7h0M307.1 396.1h0M305 426h0M310 392.3h0M310.5 415.2h0M252.1 379.5h0M276.2 407.3h0M299.2 374.2h0M307.4 386h0M256.5 384.5h0M257.5 386h0M262.7 393.2h0M310 423.3h0M302.8 427.4h0M249.4 366.3h0M309.1 398.5h0M276.1 362.4h0M268.6 357.6h0M276.2 358.1h0M292 424.7h0M310.2 400.4h0M254.8 363.8h0M286.5 368.2h0M311.6 419.2h0M309.3 421.6h0M254 364.4h0M255 365.2h0M294.1 421h0M276.3 356.8h0M255.5 382.7h0M290.5 363.5h0M256.2 379.8h0M306.3 390.9h0M307 430.9h0M254.8 381.4h0M255.6 365.9h0M253.7 361.2h0M260.7 394.5h0M265.2 401.8h0M268.1 357.7h0M308.6 420.1h0M291.4 420.3h0M299.8 380.9h0M306.7 393h0M258.3 364.8h0M308.3 426h0M299.8 380.4h0M257.9 391.1h0M289.2 369.3h0M246.9 354.7h0M243 342.8h0M308.1 402.9h0M252.3 388.9h0M283.8 412.3h0M276 361.9h0M279.9 409.8h0M286.7 366.2h0M260.2 350.7h0M273.4 357.3h0M310.4 432.7h0M273.7 360.3h0M275 407.2h0M237.1 348.7h0M312.1 416.2h0M256.9 362.5h0M306.2 395.7h0M274.4 362.3h0M281.5 415.3h0M305.6 391.9h0M311.9 421.7h0M285.9 413.5h0M278.9 408.9h0M287.6 368.9h0M305.7 423.1h0M283.6 364.4h0M300.7 380.7h0M259.1 335.7h0M283.1 411.9h0M310.3 413.6h0M252.1 354h0M262.9 391.1h0M306.6 429.9h0M308.1 393.2h0M275.7 362.7h0M314.2 431.3h0M282.3 411.9h0M258 400.6h0M258.5 388.5h0M309.9 427.9h0M272.3 404.5h0M260.4 387.6h0M285.8 414.9h0M261.4 405h0M251.3 371.1h0M311.7 408.1h0M302.6 436.6h0M313.1 434.6h0M299.4 425.4h0M300.5 425.5h0M307 394.8h0M290 368.7h0M249.5 379.8h0M280.4 362.9h0M307.8 422.3h0M292.6 419.8h0M308.3 397.4h0M293.1 371h0M251.5 385.5h0M307.9 388.7h0M271.6 402.7h0M294.1 419.8h0M308.6 396.1h0M305.6 426.1h0M262.3 363.2h0M277.8 359h0M256.1 363.1h0M309.7 408.7h0M250.8 358.1h0M304.5 424.4h0M269.9 399.5h0M309.2 411.2h0M297.5 377.5h0M281.8 413.8h0M308.5 435.6h0M296.4 375.5h0M310.2 413.4h0M274 403.5h0M254.9 367.6h0M289 416.4h0M257.6 357.5h0M251.7 372.8h0M252.7 368.8h0M297.3 428.8h0M285.7 414h0M296.5 426.3h0M307 421.7h0M302.1 385.9h0M266.4 356.9h0M312.4 435.3h0M243.6 373h0M305.8 437.8h0M248.6 367.9h0M301.3 382.3h0M305 390.1h0M287.7 368.3h0M287 367.9h0M303.3 434.5h0M286.1 416.7h0M260.6 406.4h0M288.8 368.6h0M262.6 356h0M304.4 386.9h0M260.1 363.2h0M249.4 371.1h0M296.9 373.5h0M263.8 359.5h0M291.2 418.8h0M261.2 359.9h0M306.3 424.3h0M308.8 394.9h0M276.3 363.4h0M273.6 402.9h0M264.2 350.7h0M312.4 437.3h0M306.7 395h0M300.6 373.5h0M277 411.5h0M310 412.7h0M278.5 363.6h0M308.8 418.3h0M311.2 412.8h0M298.8 424.2h0M265.9 360.1h0M275.4 407.2h0M293.9 426.3h0M279.9 409.5h0M256.1 377.1h0M256 364.9h0M295 371h0M306.3 395.3h0M256.1 384.8h0M277.7 363.9h0M306 424.7h0M272.4 360h0M266 395.5h0M305.9 428.7h0M307.8 422.5h0M309.1 419.8h0M307.5 390h0M260.6 391.7h0M259.5 363.5h0M282.5 365.7h0M302.6 430.3h0M300.4 375.9h0M293.2 373.2h0M307.5 398.8h0M268.1 362.3h0M275.1 360.4h0M266.6 395.4h0M266.2 397.3h0M275.4 407h0M280.2 412.8h0M307.2 398.2h0M243 360.7h0M312.6 422.7h0M265.6 397.9h0M308.4 419.8h0M309.6 414h0M311.1 426.6h0M301.3 428.3h0M271.5 348h0M306.3 395.6h0M301.2 425.8h0M297.5 377.2h0M303 427.4h0M287.7 416.3h0M247.3 361.2h0M252.6 358.1h0M294.4 423h0M308.4 399.9h0M249.9 393.7h0M309.1 412.2h0M310.5 415.6h0M312.8 415.9h0M272.7 408.4h0M309.8 404h0M303.2 424.8h0M309.7 424.5h0M253.5 358.9h0M256.5 387.3h0M282.1 357.7h0M302 426.7h0M260.4 396.1h0M253.6 370h0M256.1 359h0M293.6 369h0M295.5 375.3h0M282.5 364h0M314.9 432.5h0M307.4 422.5h0M276.1 409h0M292.3 419.5h0M255.9 366.3h0M301.8 384.2h0M309.6 385.8h0M258.8 362.2h0M284.5 362.2h0M293.3 419.4h0M264.5 391.9h0M306.6 425.2h0M257.8 364.7h0M276.5 361.2h0M306.9 398.3h0M303.4 426.1h0M289.2 366h0M254.4 365.5h0M259.4 363.3h0M311.8 409.5h0M237.6 365.1h0M258.9 363.7h0M285.4 417h0M255.9 378.1h0M259.8 354.8h0M240.4 373.1h0M301 374.3h0M268 362.4h0M255.6 360.4h0M258.6 386.3h0M296.8 421.1h0M269.9 361h0M304.4 386.9h0M260.2 358.4h0M255.6 376.5h0M258.7 363.9h0M254.9 407.6h0M291.1 368.1h0M310.1 422.1h0M269.1 357.7h0M251.4 377.3h0M310.4 399.4h0M247.5 381h0M310.2 391.1h0M311.8 417.6h0M312.7 419.2h0M305.5 390.6h0M261.7 360.2h0M308 402.7h0M310.2 403.4h0M255.9 379.9h0M298.6 376.6h0M295.3 369.6h0M257.5 362.3h0M254.3 377.1h0M263.3 360.4h0M305.2 424.2h0M315 434.4h0M257.2 360.3h0M276.2 409.7h0M282.3 360.6h0M302.6 424.9h0M309.6 414.6h0M310.7 396.8h0M257.7 391.9h0M305.2 423.8h0M294.7 428.4h0M282.1 410.6h0M262.4 393.9h0M255.1 352h0M291.8 371.1h0M300.9 381.7h0M268.2 399.9h0M264.2 357.7h0M277.2 360.9h0M307.9 390.2h0M260.9 386.9h0M261.4 388.1h0M240.5 369.6h0M285.4 414.4h0M254.6 386.6h0M313.9 423.7h0M304.9 424.4h0M239.7 355.1h0M246 373.4h0M269.4 404h0M301.9 374.8h0M312.1 418.2h0M308.7 424.5h0M260.7 358.5h0M297.6 377.3h0M309.1 397.5h0M307.6 396.1h0M310.6 419.7h0M290.4 370.8h0M301.8 429.1h0M266.5 359.6h0M304.9 392h0M310.6 404.6h0M294.6 420.1h0M270.1 361.9h0M282.3 361.6h0M309.5 401.2h0M308.5 401.3h0M310.6 418.4h0M253.6 372.2h0M309.2 401.9h0M311.9 423.5h0M276.6 405.9h0M258.1 357.9h0M258.5 363.7h0M278.5 412.1h0M259.4 360.6h0M304.8 389.7h0M301.5 425.2h0M277.3 406.2h0M309.1 391.2h0M268.4 359.5h0M256.6 386.7h0M257.9 382.5h0M236.1 382.9h0M273.1 402.9h0M256.9 367.1h0M302 382.6h0M306.7 434.5h0M255.9 382.6h0M310.1 402.3h0M256.5 386.5h0M277 407.2h0M255.2 357.2h0M310.6 426.9h0M288.8 368.1h0M306.3 435.7h0M310.9 407.1h0M300.4 381.1h0M292.8 372.9h0M293.9 372.2h0M247 371.3h0M285.7 414.3h0M306.4 390.3h0M302.2 384.6h0M294.9 374.3h0M269.9 352.4h0M255.7 391.8h0M312 416h0M309.3 426.9h0M284.1 416h0M298.7 422.7h0M300.2 382.1h0M295.1 368.3h0M254.9 372.1h0M303 379.7h0M270.1 353.9h0M248.5 350.7h0M312.1 408.5h0M260.1 359.9h0M312.3 418.5h0M309.3 416.5h0M303.3 428.8h0M281 414.3h0M305.9 392h0M309.5 401.5h0M251.8 376.5h0M299.9 380.3h0M309.1 435.4h0M302.5 425.8h0M313 406.9h0M298.3 379.2h0M301.2 426.2h0M282.9 355.9h0M253.7 381.9h0M307 425.8h0M265.3 393.1h0M310.5 423.1h0M309.4 413.1h0M256.8 383.3h0M304.7 426.5h0M308.2 399.3h0M256.5 351h0M289.9 369.4h0M252.4 350.1h0M298.2 376.5h0M307.5 399.7h0M257 359.8h0M308.4 426.3h0M311.2 423.1h0M289.5 369.1h0M309.5 385h0M244.8 350.9h0M304.7 429.2h0M312.2 423.3h0M313.1 425.6h0M257.9 383.1h0M299.3 381h0M307.7 397.8h0M291.9 420.1h0M257.5 364.2h0M296.3 426.4h0M309.6 412.8h0M282.1 414.4h0M262.1 357.1h0M299.2 378.6h0M300 378h0M308.7 421.8h0M304.9 389.9h0M255.6 361.7h0M312.1 411.7h0M274.2 359.3h0M298.5 434.2h0M257.1 361.1h0M312.9 412.2h0M251 361h0M309.1 420.8h0M298.4 427.1h0M287.7 367.3h0M309.7 435.6h0M308.6 401.7h0M267.8 360.3h0M311.8 434.6h0M258 382.8h0M283.6 360.3h0M243.7 361.7h0M284.6 365.4h0M292.8 372.1h0M310.1 426.2h0M244.3 365.9h0M271.2 400.8h0M308.2 430.6h0M302.4 426.4h0M266.3 357.5h0M309.7 404.7h0M310 408.1h0M306.7 425.1h0M307.3 425.1h0M294.7 371.7h0M291.7 426.1h0M282.8 410.9h0M253.1 361.2h0M272.8 357.1h0M309.1 409.9h0M299.8 377.4h0M291.4 358.2h0M292.5 362.9h0M310.6 419.9h0M300.9 380.6h0M310.5 422.2h0M298.5 375.7h0M254.3 373.3h0M300.3 376h0M288.2 415.8h0M251.3 388.3h0M263.3 390.8h0M260.6 355.9h0M297.6 421.4h0M257.2 388.7h0M255.1 363.2h0M243.8 380.2h0M301.1 365.1h0M262 359.1h0M252.4 377.4h0M306.3 422.6h0M279.1 411.7h0M309.2 404.9h0M308.5 403.2h0M307.2 392h0M308.5 420.9h0M265.5 394.5h0M258.7 398.1h0M259.8 398.1h0M298.9 379.1h0M251.5 381.5h0M281.6 411.3h0M242.3 353.6h0M273 351.4h0M257.1 395.6h0M294.6 425.6h0M254.6 374.3h0M310.9 396.3h0M269.3 399.7h0M293 419.5h0M261.3 393.1h0M270 405.3h0M286.1 359.3h0M242.2 358.3h0M252.5 372.9h0M297.2 377.5h0M272.7 361.7h0M308.8 418h0M264.5 358.1h0M305.6 391.6h0M280.4 409.4h0M253.8 367.7h0M308.7 421h0M256.3 386.1h0M262.8 354.6h0M267.6 403.1h0M294.7 375.1h0M277.3 408.6h0M307.9 402.7h0M239.5 367.9h0M310.8 416.7h0M257.9 384.6h0M309.4 427h0M298.5 379.6h0M270.6 406.3h0M305 427.9h0M278.5 414.9h0M294.6 422.8h0M309.3 418.9h0M276.2 362.7h0M295.7 422.3h0M297.1 374.7h0M306.1 393h0M309.7 403.9h0M310.9 407.1h0M302 381.6h0M261 396.6h0M247.6 358.2h0M304.3 427h0M311.1 414.2h0M307.2 421.3h0M314.4 433.6h0M266.5 357.3h0M283.6 365.8h0M244.9 365.1h0M280.3 411h0M269.5 398.3h0M250.7 378.7h0M262.5 394.6h0M280.6 425.4h0M304.6 389.6h0M295.1 421.3h0M309.8 390.5h0M302.8 385.9h0M305.4 391.2h0M290.1 418h0M288.3 416.4h0M284.1 365.9h0M299.5 380.5h0M308.8 403.8h0M275.1 362.9h0M255.8 366.7h0M307.3 398.5h0M296.2 374.2h0M298.8 422.1h0M255.8 369.9h0M254.9 381.7h0M261.8 401.6h0M255.2 392.2h0M299.6 379.8h0M267.8 400.5h0M306.1 430.2h0M309.7 417.1h0M262.1 359.3h0M242 355.1h0M294.4 374.7h0M309 409.1h0M250.9 374.6h0M301.2 381.8h0M250.7 387.2h0M309.5 422.1h0M310.2 423.2h0M271.2 358.7h0M311.5 402.8h0M311.5 390.8h0M312.3 426.4h0M275 362.6h0M310.7 412.2h0M309.1 423.1h0M308 424.3h0M260.1 390.8h0M260.6 353.9h0M294.4 425.2h0M254.6 374.8h0M291.7 368.2h0M271.8 356h0M287.1 421.2h0M265 356.5h0M269.5 398.2h0M297.3 426.5h0M309.6 413.4h0M255.9 362.5h0M304 425.9h0M275.7 363.1h0M256.2 383h0M309 407.3h0M262 362.8h0M286.3 414.2h0M270.2 362.5h0M310.6 422h0M292.2 370.3h0M305.6 427.6h0M308.1 425.5h0M260 364.4h0M293.7 373.3h0M278.5 410.5h0M253.4 367.1h0M287.3 362.9h0M305.2 392.9h0M311.8 421.4h0M257 389.6h0M292.5 419.3h0M301.3 425.5h0M255.9 370h0M252.2 380.1h0M275.1 360.4h0M248.2 367.3h0M277.6 406.8h0M261.8 363.4h0M244.4 382.1h0M277.8 408.3h0M247.7 359.6h0M267.4 352.8h0M280.8 362.8h0M274.7 407.1h0M301 424h0M310.6 415.3h0M247.5 353.1h0M251.5 397.2h0M311.1 413h0M295.6 374.4h0M259.2 357.1h0M299.7 380.6h0M309 401.3h0M255.1 380.7h0M311.2 415.9h0M266.4 395.4h0M283.8 362.6h0M264.3 359.5h0M309.8 426.1h0M293.2 425.3h0M292.2 370.6h0M304.5 383.3h0M302.4 424.5h0M268.7 353.3h0M304.1 425.5h0M308.8 393h0M280.6 351.5h0M276 408.8h0M309.7 408.2h0M276 405.6h0M263.5 362.7h0M291.9 422.3h0M297.5 377.3h0M253.7 361.7h0M251 377.7h0M310.6 404.6h0M301.3 424.9h0M286.7 417h0M305.1 427.8h0M256.2 385h0M302 424.3h0M275.4 409.5h0M271.8 404.9h0M254.1 377.4h0M274 362.2h0M311.8 403.4h0M308.3 404.4h0M281 356.8h0M268.4 354h0M283.3 360.3h0M263.6 353.5h0M309.5 414.8h0M255.7 370.6h0M260.3 363.9h0M256.4 388.2h0M300.4 378.4h0M308 402.8h0M273.2 351.9h0M309.4 415.5h0M253.8 358.8h0M275.9 408.2h0M296.2 421.3h0M271.3 357.7h0M302.4 427.7h0M307.3 428.4h0M266.6 360.1h0M309.1 416.9h0M306.4 390.4h0M308.7 403.2h0M246.5 376.9h0M263.6 353.5h0M259.1 392.9h0M305.2 386.3h0M309.2 410.1h0M312.6 421.8h0M302.1 383.5h0M255.3 354.8h0M295.7 371.3h0M274.6 418.6h0M237.8 345.3h0M273 357.8h0M250.8 386.2h0M303.1 387.8h0M303.3 426.3h0M255.5 398.4h0M263.8 394.8h0M310.6 413.7h0M309.5 425.4h0M253.4 380.2h0M263.8 400.3h0M258.4 392.6h0M309.7 399.2h0M306.1 384.6h0M302.3 375.4h0M283.7 361.9h0M269.5 398.9h0M281.7 359.2h0M250.1 381.7h0M309.9 414.2h0M306.1 393h0M307.6 421.2h0M254.5 355.9h0M311.6 419.1h0M282.9 412.2h0M249.7 381h0M256.9 381.2h0M309.2 405.8h0M291.1 421.5h0M309.1 407.3h0M305.7 393.2h0M300.8 379.9h0M275.3 411.8h0M275.7 406.7h0M294.7 371.6h0M288.5 420.2h0M313.6 411.7h0M307.7 422.4h0M252.8 369.3h0M308.3 421h0M265.6 359.3h0M292.6 429.9h0M250.8 361.8h0M303 448.5h0M218.6 337.9h0M241.4 333.4h0" stroke="#000" stroke-width="3.2" stroke-linecap="round" fill="none"/>
<circle cx="210.1" cy="296.1" r="1.6" fill="#ff0000"/>
<circle cx="240.2" cy="298.7" r="1.6" fill="#ff0000"/>
<circle cx="218.7" cy="324.1" r="1.6" fill="#fff000"/>
<circle cx="248.8" cy="318.1" r="1.6" fill="#fff000"/>
<circle cx="233.8" cy="333.6" r="1.6" fill="#fff000"/>
<circle cx="230.3" cy="337.5" r="1.6" fill="#fff000"/>
<circle cx="238.1" cy="340.1" r="1.6" fill="#fff000"/>
<circle cx="256.6" cy="350.8" r="1.6" fill="#fff000"/>
<circle cx="241.4" cy="324.1" r="1.6" fill="#000"/>
<circle cx="242.7" cy="324.1" r="1.6" fill="#ffa500"/>
</g>
<g>
<rect x="378.9" y="289.3" width="115.9" height="165.2" fill="#fff" stroke="#8a8a8a" stroke-width="0.8"/>
<line x1="375.3" y1="451.3" x2="378.9" y2="451.3" stroke="#222" stroke-width="0.7"/>
<text x="373.7" y="454.2" font-size="8" text-anchor="end">−4</text>
<line x1="375.3" y1="422.9" x2="378.9" y2="422.9" stroke="#222" stroke-width="0.7"/>
<text x="373.7" y="425.8" font-size="8" text-anchor="end">−2</text>
<line x1="375.3" y1="394.5" x2="378.9" y2="394.5" stroke="#222" stroke-width="0.7"/>
<text x="373.7" y="397.4" font-size="8" text-anchor="end">0</text>
<line x1="375.3" y1="366.1" x2="378.9" y2="366.1" stroke="#222" stroke-width="0.7"/>
<text x="373.7" y="369" font-size="8" text-anchor="end">2</text>
<line x1="375.3" y1="337.7" x2="378.9" y2="337.7" stroke="#222" stroke-width="0.7"/>
<text x="373.7" y="340.6" font-size="8" text-anchor="end">4</text>
<line x1="375.3" y1="309.4" x2="378.9" y2="309.4" stroke="#222" stroke-width="0.7"/>
<text x="373.7" y="312.3" font-size="8" text-anchor="end">6</text>
<line x1="390.4" y1="454.5" x2="390.4" y2="458.1" stroke="#222" stroke-width="0.7"/>
<text x="390.4" y="467.9" font-size="8" text-anchor="middle">−50</text>
<line x1="427" y1="454.5" x2="427" y2="458.1" stroke="#222" stroke-width="0.7"/>
<text x="427" y="467.9" font-size="8" text-anchor="middle">0</text>
<line x1="463.6" y1="454.5" x2="463.6" y2="458.1" stroke="#222" stroke-width="0.7"/>
<text x="463.6" y="467.9" font-size="8" text-anchor="middle">50</text>
<text x="436.9" y="481" font-size="8" text-anchor="middle">Precond. precipitation anomaly (%)</text>
<text transform="translate(358.7,371.9) rotate(-90)" font-size="8" text-anchor="middle"><tspan font-style="italic">Tx</tspan>7d anomaly (°C)</text>
<polygon points="459.3,404.3 459,400.8 457.9,397.2 456.3,393.5 454,389.8 451.2,386.1 447.9,382.6 444.4,379.2 440.5,376 436.5,373.1 432.5,370.6 428.5,368.4 424.6,366.6 420.9,365.3 417.5,364.4 414.4,364 411.6,364.1 409.2,364.7 407.1,365.7 405.3,367.2 403.9,369.2 402.8,371.5 402.1,374.2 401.6,377.2 401.5,380.5 401.6,383.9 402.1,387.5 402.8,391.2 403.9,394.9 405.3,398.6 407.1,402.2 409.2,405.5 411.6,408.7 414.4,411.6 417.5,414.2 420.9,416.4 424.6,418.1 428.5,419.5 432.5,420.3 436.5,420.7 440.5,420.6 444.4,420.1 447.9,419 451.2,417.5 454,415.6 456.3,413.2 457.9,410.6 459,407.6" fill="#000"/>
<path d="M458.1 409.7h0M429 419.5h0M402.2 388.9h0M453.7 415.1h0M462.4 410.6h0M430.3 421.8h0M458.7 410.3h0M399.2 382.9h0M458 400.8h0M408.7 364.3h0M396.6 363.2h0M460.9 407.7h0M403.7 393.5h0M458.4 399.4h0M480.5 402.5h0M423.7 417.3h0M455.7 413.6h0M417.4 358.6h0M442.8 426.4h0M461.6 417.8h0M398.6 362.2h0M398.6 376.2h0M420.9 418h0M443.8 419.4h0M421.9 422.1h0M467.8 383.9h0M461.8 387.4h0M458.4 397.8h0M437.6 373.9h0M424.5 363.8h0M460.6 410.3h0M406.5 366.3h0M419.9 362.5h0M458.5 391.3h0M398.5 392.5h0M400.4 375.4h0M452.6 415.8h0M399.9 364.8h0M405.9 365.8h0M400.4 385.7h0M413.2 410.8h0M449.1 422.4h0M462.1 412.7h0M462.8 398.4h0M404.7 399.3h0M403 395.6h0M400.5 364.9h0M416.4 351.5h0M398 375h0M462.4 409.1h0M413.3 360.8h0M418.1 359.7h0M412.4 411.8h0M404.4 407.8h0M409 365.6h0M448.1 371.7h0M403.8 363.4h0M404.2 364.1h0M456.7 391.5h0M425.9 365.7h0M432.6 420.8h0M452.8 373h0M408.1 403.9h0M438.3 421.5h0M460 389.6h0M411.4 408.2h0M418.4 364.3h0M398.8 368.4h0M411.3 364.8h0M404 395.8h0M452.1 388h0M401.2 375.6h0M409.7 405.8h0M423.3 419h0M444.7 419.9h0M419.5 417.5h0M404.3 394.4h0M416.6 419.3h0M414.4 416.9h0M433.7 368.4h0M416.3 363.7h0M472.3 413.4h0M455.1 391h0M455.5 390.5h0M459.8 406.1h0M462.7 409.4h0M438.6 421.6h0M413.4 359.5h0M407.3 401.5h0M426.4 418.4h0M390.9 346.6h0M452.2 384.9h0M454.3 417.7h0M464.1 406.7h0M401.8 389.4h0M426.9 367h0M472.8 392.4h0M398.8 369.8h0M401.7 381.8h0M402.5 387.6h0M400.5 378.5h0M403.1 368.6h0M454.2 387.7h0M415.2 419.8h0M460.6 416.5h0M453.7 382.9h0M409.2 405.4h0M451.8 423.8h0M430.7 432.1h0M436.3 424.8h0M449.1 436.5h0M416.1 363.8h0M456.9 389h0M398.7 401.1h0M438.2 422.8h0M451.7 380.6h0M402.6 365.9h0M406 398.9h0M398.5 371.5h0M402.1 375.4h0M456.7 421.6h0M414.9 358.1h0M409.7 405.7h0M463.9 408.5h0M470.7 408.9h0M461.8 404.7h0M404.5 401.1h0M399.7 391.1h0M416.2 418.5h0M429.1 419.7h0M410 364.2h0M418.9 359.5h0M410.1 411.5h0M399 373.5h0M445.8 376.6h0M466.9 397.9h0M396.3 357.2h0M402.3 371.1h0M414.8 411.6h0M464.5 415.5h0M464.8 388.9h0M461.5 400.4h0M460.8 407.3h0M459.8 422.3h0M463.2 396.6h0M400.9 388.3h0M408.9 404.1h0M408.7 406.9h0M454.8 392.8h0M426.1 365.8h0M411.6 413.3h0M416.5 363.2h0M446 379.2h0M400 387.5h0M409.9 365.4h0M426.1 440.9h0M400.3 385.2h0M427.9 419.4h0M443.4 419.6h0M410.6 364.8h0M433 423.3h0M460.7 412.1h0M413.5 414.5h0M415.3 356.5h0M396.9 377.6h0M450.7 380.8h0M408 403.2h0M449.2 384.9h0M404.1 368.9h0M432.5 364.5h0M422.1 359.8h0M428.6 419.3h0M461.1 417.3h0M402 373.6h0M455 433.5h0M462.5 409h0M400.3 384.7h0M460.4 401.1h0M417.6 355.1h0M430.4 370h0M400.4 389.8h0M408.7 353.6h0M416.8 361.4h0M458.5 395.5h0M411.4 364.7h0M457.4 425.2h0M441.3 369h0M401.1 396.5h0M394 367.9h0M400 360h0M433.1 370.3h0M402.2 377.3h0M399 399.9h0M411.2 360.8h0M427.2 362.4h0M436 420.7h0M427 423.5h0M406.5 358.8h0M473.1 411.6h0M436.4 423.7h0M418.9 360h0M399.5 386.8h0M464.9 420h0M402.6 428.1h0M414.6 362.6h0M469.8 410.7h0M404 359.4h0M401 381h0M398.6 371.8h0M429.7 369.1h0M407.6 406.4h0M457.7 415h0M416.2 364.9h0M461.5 401.1h0M416.9 361h0M455.9 414.5h0M456 415.2h0M432.9 370.5h0M476.5 423.1h0M403.1 367.6h0M401 370h0M446.2 377.6h0M399.1 388.1h0M408.1 405.1h0M401.6 369.3h0M423.1 417.4h0M418.3 424.7h0M416.7 415.8h0M462.9 403.9h0M411.1 364.2h0M459.4 398.7h0M450.6 382.4h0M417.2 415.1h0M419.2 362.8h0M422.7 361.1h0M437.6 373.2h0M424.4 363.6h0M411.5 410.3h0M402.9 361.8h0M467.9 408.4h0M411.8 356.1h0M417.7 416.4h0M456.1 395.5h0M449.1 430.6h0M459 409.8h0M428.8 420.9h0M457.7 389.4h0M454.2 415.1h0M401.8 385.9h0M415.7 360.3h0M405.6 363.4h0M394.1 379.7h0M473.4 432.4h0M402.8 396.7h0M411 415.4h0M456.8 390.3h0M463.4 395.9h0M410.9 362.1h0M433.4 420.4h0M439.3 425.3h0M411.4 408.1h0M454.8 389.5h0M464.3 421.6h0M417.7 365.1h0M404.7 401.1h0M403.1 394.8h0M470.3 387.9h0M466.1 407.6h0M399.5 382.1h0M414.1 410.8h0M469.7 391.5h0M440.2 376.2h0M429.7 366.9h0M473.9 402h0M400.2 386.9h0M401.1 379.9h0M457.9 412.8h0M451.7 382.2h0M412.7 363.2h0M452.8 387.7h0M460.5 418.9h0M394.2 370.6h0M448.1 380.3h0M400.1 386.7h0M429.7 419h0M411.9 409.8h0M419.3 364.4h0M419.3 365.1h0M440 424.3h0M403 363h0M474.5 415.4h0M410.6 409.1h0M437.9 420.7h0M438.5 374.9h0M463.4 427.1h0M446.3 426.6h0M431.3 423.8h0M402.8 368.1h0M407.8 406.9h0M457.3 395.4h0M455.9 431h0M462.1 410.1h0M407.1 403.3h0M421.8 361.9h0M419.7 360h0M453.8 421.6h0M449.3 419h0M400.3 377.7h0M456.6 396.3h0M402.4 395.5h0M402.6 397.2h0M400.1 356.3h0M423 366.5h0M460.2 403.4h0M465.5 411.1h0M428.7 439.5h0M452.6 383.6h0M402.2 354.9h0M401.1 393.3h0M413.8 413.9h0M448.5 377.6h0M407.2 404.4h0M445.7 421.2h0M474 409.2h0M422.3 416.4h0M406.8 408.5h0M420.3 420h0M454.6 382.9h0M402 378h0M422.5 364.5h0M467.2 401.4h0M402.1 338.9h0M455.4 415.7h0M482.4 381.3h0M397.8 367.1h0M449.1 383.5h0M397.4 391.5h0M452.8 426.6h0M413.1 410.6h0M440.9 419.7h0M410.1 361.6h0M434.7 368.5h0M465.3 401h0M465.2 411.7h0M402.8 373.2h0M450.6 417.5h0M422.8 420.3h0M456.9 386.8h0M463.4 406.7h0M401.3 391.3h0M450.2 381.5h0M447.3 418.2h0M467.8 420.7h0M472.8 416.6h0M437 424.2h0M449.3 381.7h0M408.1 366h0M402.5 388.3h0M459.1 409.6h0M420.8 420.4h0M406.9 401.5h0M410.7 410.7h0M445.6 379.8h0M458 390.7h0M403.3 371.9h0M452 417.5h0M462.5 406.6h0M394.9 369.2h0M446.5 426h0M405.6 366h0M399.3 350.6h0M447.2 375.5h0M400.8 370.9h0M412.5 417.6h0M414 357.2h0M405.4 360.2h0M405.2 362.3h0M446 427.2h0M449.6 425h0M442.9 370.6h0M452.5 384.8h0M404.8 364.6h0M424.4 364.8h0M434.2 365.9h0M398.5 359.3h0M447.5 426.9h0M481.4 388.2h0M441.3 421.3h0M401.7 381.2h0M441.4 420.4h0M406.3 409.4h0M427.1 367.2h0M401.8 382.8h0M409.6 365.3h0M401.1 380.6h0M412.5 363.9h0M414.6 418.3h0M458.6 402.9h0M464.6 404.1h0M412.2 424h0M419.7 363.5h0M399.9 380.7h0M424.2 420.5h0M468.7 422.8h0M421.9 365.4h0M416.3 412.8h0M443.2 374.6h0M414.2 363.7h0M411.9 354h0M402.9 364.1h0M444.8 375.6h0M448.2 384h0M411.7 364.2h0M401.1 393.9h0M408 406.2h0M447.7 381.3h0M423.8 366.4h0M405.9 364.3h0M459.9 413.7h0M413.4 411.6h0M405 401.1h0M462.6 411h0M458.7 374.1h0M414.4 440.4h0M397.3 387.7h0M455.5 420.4h0M430.2 425.8h0M461.9 395.4h0M399.4 360h0M455.5 393.3h0M400.8 381.5h0M451.8 387.7h0M452 382.4h0M450 417.3h0M439 374h0M464.6 396h0M411.7 410.7h0M436.2 424.6h0M398.6 369.9h0M414.3 415.4h0M398.8 362.9h0M401.7 403.8h0M440.4 421.1h0M429.7 424h0M399.5 374.4h0M478 410.4h0M463.4 420.1h0M460.8 405.4h0M403.7 397h0M405.3 367.5h0M397.7 378h0M462.9 399.3h0M411.1 363.7h0M424.4 362.4h0M455 420.9h0M412.5 358.2h0M402.1 374.5h0M402.2 377.8h0M456 391.7h0M463.8 386.8h0M443.5 420.3h0M456.2 413.1h0M483.4 408.5h0M441.8 421.8h0M456.5 417h0M426.8 422.8h0M400.3 361h0M405.3 345.9h0M432.7 367.6h0M401.2 380.3h0M411.8 426.7h0M401.2 384.8h0M401.7 372.9h0M428.9 368.3h0M405.6 403.6h0M415.7 358.5h0M415.3 364.6h0M435.8 425.2h0M403.8 396.8h0M410.5 423.9h0M435 419.9h0M424.4 367.1h0M463.2 411.8h0M444.6 425.5h0M413.1 410.3h0M460.8 399h0M446 372.3h0M404.7 399.4h0M449.5 382.9h0M399.8 374.9h0M428.5 431.4h0M451.7 422.1h0M444.3 424.5h0M408.6 403.8h0M439.3 423.3h0M405 405.6h0M414.1 421.9h0M408 357h0M432.6 420.3h0M414.7 364.2h0M411.9 363.1h0M492 437.7h0M461 399.3h0M410.3 407.5h0M421.3 349.4h0M456.3 429.3h0M457.9 397.4h0M404.4 368.4h0M397.3 374.3h0M403.1 359.6h0M423.1 417.8h0M404.1 356.3h0M402.8 407.7h0M458.7 414.7h0M465.1 392.3h0M395.7 362h0M401.6 382.1h0M416.6 358.7h0M409.6 359h0M403.8 413.3h0M419 414.6h0M407.4 402.2h0M460.6 419.5h0M404.4 399.1h0M452.1 418.5h0M461 407.6h0M405.9 403.7h0M455.5 381h0M407.9 364.7h0M405.9 362h0M398.4 378.3h0M460.6 400.2h0M457.5 389.7h0M458.2 412.1h0M404.1 400.6h0M434.3 425.4h0M450.2 418h0M452.3 425.7h0M413 413.6h0M403.5 393.8h0M458 396.3h0M417.8 414.4h0M457.9 398.9h0M434.1 421.3h0M411.5 354.2h0M401.9 383.6h0M409 364h0M406.5 355.6h0M405.5 399h0M455.7 379.3h0M450.2 418.2h0M460.9 406.9h0M426.2 418.4h0M399.5 370.8h0M464.9 384.6h0M458.4 410.6h0M396.8 383.4h0M397.2 363.6h0M403.8 396.2h0M401.8 368.4h0M423.3 366.3h0M413 421.1h0M419.8 361.3h0M425 418.4h0M453.9 364.4h0M406.4 354.3h0M444 425.4h0M421.9 359.5h0M405 401.8h0M436.4 368.7h0M467.7 407.4h0M452.4 375.9h0M464.9 398.6h0M394.1 376.9h0M399.6 399.3h0M409.3 408h0M398 361.9h0M402.2 388.4h0M456.9 411.8h0M429 366.3h0M424.7 360.4h0M401.1 378.1h0M453.6 389.7h0M454.9 421.1h0M401.3 382.1h0M440.2 421.9h0M472 391.6h0M400.9 386.6h0M418.1 420.6h0M425.1 423h0M472.4 401.6h0M421.1 365h0M401 382.3h0M444.9 432.8h0M423.5 364.2h0M413 360.4h0M450.5 425.3h0M403.2 369.4h0M433.7 365.6h0M458.2 401.7h0M408.9 359.1h0M437.8 423.4h0M442.8 419.6h0M401.3 374.1h0M400.2 374.8h0M463.3 379h0M444.6 424.4h0M441.5 439.6h0M436 368.4h0M448 424.2h0M463 407.9h0M409.6 365h0M402.1 386.1h0M399.6 376.4h0M443.5 361.7h0M437.7 421.6h0M422.3 423.2h0M417.9 360h0M398.9 397h0M404.2 407.1h0M421.5 362.1h0M393.7 364.2h0M402 378.8h0M466.8 418.3h0M411.6 359.2h0M402.2 388.6h0M456.7 418.2h0M453.3 384.5h0M408.6 365.2h0M438.8 370.9h0M402.5 387.1h0M397.1 372.3h0M429.1 427.3h0M399.5 391.8h0M464.6 420.7h0M408.8 409.6h0M441.5 377.3h0M402.4 373.5h0M401.4 387.5h0M459.3 414.3h0M455.6 389.6h0M404.7 356.2h0M478.4 424h0M401.5 372.1h0M400.3 386.7h0M456 391.9h0M461.4 410.8h0M433.9 362.7h0M440.6 363.1h0M403.6 402.9h0M445.7 421.9h0M450.7 426.5h0M441.2 428.1h0M419.9 420h0M401.1 397.7h0M455.9 421.7h0M427.5 421h0M398.9 381h0M461.1 394h0M460.3 384.7h0M402.7 350.9h0M463.6 403.9h0M419 365.1h0M431.1 430.6h0M459.4 406.9h0M436.9 420.5h0M447.9 380.7h0M412.7 364.8h0M452.1 417.5h0M435.6 371.8h0M449.9 422.2h0M461.3 402.5h0M465.1 400.5h0M459.5 408.4h0M456.7 419.4h0M426 352.3h0M413.4 364.8h0M456 424.8h0M446.1 425.9h0M428.7 368.9h0M423.9 419h0M395.1 331.7h0M455.7 416.1h0M452.7 384.4h0M443.4 423.3h0M462.8 390.1h0M459.1 401.2h0M461.7 421.5h0M444.4 430.4h0M399.5 364h0M450.9 422.2h0M401 379.6h0M418.9 428.8h0M457.2 392.6h0M449.8 379.5h0M457.1 422.4h0M457.2 413.4h0M457.9 410h0M459.9 388.2h0M403.9 370.8h0M478.8 426.2h0M402.8 402.2h0M447.7 420.1h0M451 385.6h0M402.5 373.5h0M459.2 417.9h0M456 413.5h0M476.4 411.7h0M457 410.5h0M443.2 374h0M426.4 362.6h0M447.2 372.8h0M402 375h0M406.8 356.7h0M412.4 413.1h0M454.4 414.4h0M458.4 395.3h0M476.3 411.4h0M421.7 418.4h0M436 423.3h0M404.9 400.6h0M443.6 421.8h0M459.5 400h0M402.1 373.9h0M442.2 421.5h0M462.6 397.6h0M419.2 364.4h0M468.6 407.3h0M410.1 364.4h0M403 391h0M401.2 366.9h0M423.3 366h0M414.9 356.4h0M447.2 428.9h0M401.5 367.2h0M398.8 364.1h0M449.4 381.3h0M459.6 398.8h0M442.7 359.6h0M408.3 363.6h0M396.8 407.4h0M409.5 409.8h0M453.1 415.3h0M401.6 360.1h0M399.3 385h0M439.7 424h0M472.6 436.2h0M401 375.9h0M440.2 421.1h0M430.5 420.1h0M449 379.6h0M397.6 368.1h0M427.2 366.8h0M401.9 352.4h0M396.3 360.5h0M433.3 371.9h0M402.3 376.3h0M416.4 364.5h0M410.3 363.7h0M404.1 366.7h0M424.9 421.4h0M419 360.9h0M474.4 403.6h0M458.7 413.1h0M409 404.3h0M401.3 382.9h0M446.1 418.7h0M441.9 420.1h0M398.6 368.8h0M403.2 370.5h0M405.2 397.5h0M419.1 363.4h0M401.9 383.8h0M429.5 419.9h0M401.8 387.6h0M461.2 412.9h0M428 366.9h0M403.7 364.8h0M395.7 383.8h0M403.1 367h0M440.2 366.9h0M431 428.1h0M402.8 404.8h0M484.2 431.7h0M402.2 388.6h0M434.8 421.1h0M458.4 390.4h0M403 393.9h0M430.7 366.2h0M443.1 428.1h0M439.6 424.7h0M480.1 423.4h0M432.4 421.2h0M458.1 395.4h0M421.8 364.4h0M402 385.3h0M463.5 393.2h0M476 419.8h0M434.6 372.2h0M464.3 400.5h0M466.2 421.7h0M429.9 367.5h0M422.5 365.7h0M445.1 427.8h0M402.2 371.7h0M448.5 419h0M448.5 422.8h0M424.9 418.8h0M458 394.2h0M458.3 410.4h0M400.9 370.2h0M458.4 392.3h0M431.8 420.4h0M402.2 386.7h0M433.6 370.5h0M456 394.3h0M454.6 391.2h0M451.7 380.1h0M458 400h0M432.9 370.7h0M401.4 368.8h0M445.2 368.4h0M439.3 421.7h0M474.8 409.8h0M396.7 374.1h0M390.4 347.4h0M421.4 418h0M402.3 366.2h0M445 444.8h0M402.4 371.7h0M431.4 424.6h0M454.8 383.8h0M400.6 377.2h0M402.5 369.8h0M459.9 410.3h0M401.9 376.1h0M397.7 391.8h0M399.9 388h0M430.6 368.3h0M411.9 411.1h0M462.9 401.2h0M426.2 367.9h0M402.4 394.2h0M406.7 400.5h0M408.5 409.8h0M399.5 384.3h0M413.5 362h0M410.8 411.8h0M451.4 416.8h0M401.5 384.7h0M404 365.5h0M403.7 361.6h0M422 364h0M419.5 418.3h0M413.1 409.5h0M442.8 364h0M458.8 409.1h0M427.1 423h0M435.5 373h0M453.8 415.4h0M404.2 364.5h0M459.5 422.7h0M415.1 356h0M403.4 392.7h0M438.8 428.7h0M402 365.9h0M412.5 412h0M452.9 420.9h0M434 420.6h0M469.7 421.2h0M447.3 371.9h0M473.9 407.6h0M438.7 430.1h0M465.2 393.4h0M421.6 363.9h0M431.5 427.4h0M473.8 398.7h0M424.5 423.3h0M415.2 411.8h0M400.2 386.1h0M441.7 427.8h0M403.2 421.7h0M462.9 382.9h0M401.7 390.1h0M399 365.1h0M450.1 385.5h0M479.1 398.4h0M403.3 399.2h0M459.7 409.4h0M410.5 406.6h0M431.9 370h0M418.1 414.2h0M402.6 396.1h0M457.2 391.2h0M404.8 367.2h0M426.3 425.4h0M438.1 420.9h0M435 370.4h0M409.5 407.7h0M457.7 387.6h0M421.2 361.5h0M408.6 355.9h0M423.4 417.8h0M439.6 428.1h0M432.4 423.2h0M407.4 407.5h0M432.8 424.3h0M429.5 419.1h0M453 369.8h0M397 371.8h0M436.5 420.6h0M409.3 359.5h0M421.5 421.4h0M464.9 385.6h0M434.4 420.8h0M402.1 372.4h0M435.1 420.4h0M453.4 385.8h0M434.6 371.4h0M408.6 361.4h0M418.4 359.6h0M428.6 362.9h0M414.1 354h0M462 393.6h0M472.5 406.5h0M459.1 405.4h0M421 365.9h0M400.9 388.4h0M407 361.6h0M405.6 399.2h0M415.7 354.6h0M437.4 374.4h0M432.3 364h0M407 402h0M449.7 373h0M418.8 414.8h0M447.3 382.4h0M439.8 374.8h0M463.6 410.3h0M404.6 396.9h0M404.9 396.5h0M401.8 374.9h0M459.6 413.8h0M411.5 410.5h0M419 358.8h0M428.7 366.9h0M449.9 418.3h0M411.7 363.9h0M409.8 363.2h0M441.7 375.1h0M433.1 369.8h0M456.9 416.3h0M418.7 421.7h0M409.1 356.3h0M416 415h0M455.4 414.1h0M412.1 361.2h0M455 389.1h0M400.5 362.9h0M472.2 392.2h0M395.8 390.3h0M460.8 396.4h0M401.5 375.5h0M444 420h0M401.3 372.4h0M400.8 387.5h0M402.7 397.3h0M412.7 363.6h0M440.2 419.8h0M418.7 356.7h0M443.3 437.2h0M422 362.4h0M416.3 414.8h0M405.3 400.9h0M416.4 417.1h0M400.3 373.6h0M459.5 398.5h0M407.1 401.5h0M424.4 367h0M457.8 400.2h0M407.8 407h0M402.9 360.9h0M456 389.2h0M406.5 362.8h0M455.3 415.2h0M419.3 414.7h0M431.3 419.4h0M438.8 366.3h0M396.8 363.6h0M425.6 364.9h0M456.6 439.3h0M401.2 406h0M458.2 409h0M403.6 394h0M401 391.2h0M483 422.8h0M457.7 416.9h0M400.5 396.7h0M420.5 362.1h0M457.5 413.4h0M408 409.1h0M403.4 395.1h0M449.5 425.5h0M401.5 385.6h0M399.4 372.6h0M455.9 386.1h0M405.9 365h0M467.3 400.4h0M454.5 388.9h0M418 418.1h0M414.7 364.3h0M431.6 420.5h0M402.7 400.8h0M417.4 416.7h0M412.5 355.8h0M425.4 363.7h0M472.6 410.9h0M413.3 413.9h0M462.5 395.9h0M403.5 405.5h0M419.7 362h0M443.5 378.3h0M413.1 364.3h0M428.5 419.6h0M402.7 415h0M448.6 432.3h0M461.5 407h0M397.5 353.3h0M428.8 427.6h0M460 380.3h0M401.5 392.4h0M447.9 429.2h0M440.6 375.8h0M460.8 396.8h0M466 416.9h0M456.3 412.5h0M438.9 372.2h0M414.8 362.7h0M458.1 395.3h0M448.9 384.6h0M447.8 374.2h0M409.7 360.2h0M428.8 423.1h0M443.1 421.1h0M424.2 417.7h0M459 382.5h0M471 409.8h0M461.2 400.8h0M395.2 355.6h0M452.5 421.3h0M444.8 419.6h0M440.6 364h0M457.2 417.9h0M455 415.5h0M405.9 412.1h0M400.8 386.8h0M416.9 414.2h0M401.4 391.5h0M411.1 410.1h0M471.6 415.6h0M416.8 363.4h0M439.9 373.2h0M403 366.3h0M450.1 418.2h0M412.3 421h0M441.9 421.6h0M433.3 367.7h0M403.7 371h0M419 421.6h0M432.4 421.4h0M397.2 374.8h0M443.7 368.1h0M433.2 371.4h0M431 363.3h0M390.9 375.2h0M400.5 379.3h0M451.1 429.7h0M396 372.3h0M467.2 395.7h0M459.3 398.4h0M441.8 368.7h0M403.9 368.7h0M457.7 418.2h0M399.1 376.2h0M454.9 433.8h0M408.4 362.7h0M412.2 411.9h0M408.7 360.1h0M463.3 433h0M414.4 419.9h0M458.4 415h0M397 379.7h0M403 393.1h0M418.1 364.3h0M418.3 419h0M453.7 385.6h0M456.4 390.9h0M400.5 390.8h0M408.9 360.9h0M457.8 383.5h0M402.1 392.5h0M459.6 425h0M470.1 411.7h0M416.5 360.4h0M400.5 370.4h0M443 424.5h0M406.3 400.3h0M423.1 365.4h0M449.5 424.5h0M443.8 420.3h0M460.1 404.9h0M466.7 406.3h0M437.3 370.5h0M437.6 425.8h0M407.8 362.4h0M456.5 417.5h0M421.9 420.4h0M404.6 397h0M399.1 387.3h0M402.1 368.9h0M404.1 367.9h0M428.5 365.3h0M475.9 432.4h0M464 408.6h0M428.4 420.6h0M460.4 414.4h0M408.6 360.5h0M402.9 367.9h0M469 417.5h0M463.8 379.8h0M397.4 380.1h0M406.6 363.4h0M451.6 387.9h0M400.7 388.4h0M403.1 396.2h0M390.6 361.8h0M417.8 416h0M411.8 429.8h0M456.5 411.7h0M413.3 411.5h0M410.7 413.5h0M393.2 367.3h0M455.6 414.7h0M448.1 362.9h0M448.8 429.8h0M411.2 358.7h0M408.5 422.2h0M400.1 382.3h0M422 365h0M439.7 373.9h0M411.4 364.8h0M443.4 378.2h0M433.9 420.1h0M456.6 420.3h0M472 408h0M432.3 426.6h0M468.6 404.6h0M397.8 349.4h0M445.4 419.2h0M457.4 416h0M457.1 439.4h0M398.9 391h0M420 415.1h0M435.6 423.7h0M403.1 372.8h0M405.5 402.5h0M411.8 420h0M439.3 422h0M424.1 362.7h0M459.2 391.2h0M405.4 399.7h0M410.6 361.3h0M420.2 364.2h0M410.9 412.4h0M440.9 425.8h0M419.8 422.5h0M410.1 364.1h0M441.7 377.5h0M400.2 379.2h0M425.2 424.5h0M413.3 410.9h0M401.8 381.3h0M415.3 359.9h0M458.7 406h0M438.3 369.6h0M458.3 403.1h0M430.1 366.7h0M462.7 401.4h0M413.9 364.6h0M426 428.1h0M406.2 359.1h0M413.6 415.9h0M427.9 367.5h0M410.7 407.1h0M390.7 398.7h0M447.8 418.1h0M439.5 420.1h0M406.8 354.2h0M413.7 417.8h0M405.3 404.7h0M402 375.6h0M403.5 369.3h0M418.2 361.9h0M441.9 374.1h0M399.3 404.1h0M483.6 414h0M397.6 369.2h0M405.7 399.4h0M458.9 423.7h0M434.6 368.3h0M413.6 363.2h0M398.7 410.8h0M450.5 427.6h0M418 420.5h0M402.3 375h0M479.2 377.8h0M449.3 384.3h0M417.3 355.7h0M427.4 421.5h0M402 376.6h0M426.6 428.6h0M458.3 395.1h0M434.8 432.8h0M449.6 417.9h0M401.3 381.5h0M457.5 386h0M460 401.5h0M441.1 425h0M399 380.9h0M454.3 390.1h0M401.2 390.7h0M429 418.8h0M430.5 421.7h0M397.5 378.5h0M410.2 364.7h0M454.2 413.8h0M420.9 418.2h0M460.6 409.7h0M401.3 385.6h0M449.2 421.9h0M398.9 385h0M411.4 360.2h0M426.1 432h0M402.8 372.5h0M406.4 400.5h0M445.1 423.6h0M400.8 400.1h0M408.5 361.2h0M444.6 436.2h0M405.4 365h0M464.5 404h0M410.4 406.8h0M466.3 396.1h0M424.1 419.1h0M425.8 346.1h0M408.4 365.2h0M430.8 358h0M449 419.2h0M443.6 379.4h0M463.9 418.8h0M453.3 417h0M438.5 419.9h0M421.6 418.3h0M455.7 413.6h0M421.5 416.6h0M434.3 420h0M409.5 408.6h0M464.1 395.8h0M402.3 395.9h0M408.8 362.8h0M445 420h0M465.2 396.4h0M466.1 405h0M402 374.1h0M457.6 393.9h0M410.8 408.6h0M468.7 396.5h0M456.1 395.1h0M463.2 406.5h0M454.8 390h0M432.9 365.7h0M406.7 400.3h0M421.9 361.6h0M470.1 420.3h0M464.7 432.5h0M459.9 396.2h0M419.1 415.4h0M447.6 422.9h0M401.2 375.5h0M473.6 412h0M414.5 412.8h0M402.3 371.1h0M433.6 427.7h0M431.9 431.7h0M442.8 421.2h0M432.6 439.2h0M419.1 362.8h0M404.5 368.9h0M412.2 416.7h0M449.9 380.1h0M461.9 411.1h0M467.2 400h0M410.3 355.7h0M405.7 366.3h0M463.4 413.9h0M457.8 397.8h0M398.9 380h0M410.6 364.1h0M432.4 422.2h0M403.4 364.5h0M408.3 364.1h0M401.2 372.2h0M411.8 412.3h0M457.5 395.3h0M401.8 363.9h0M464.2 413.8h0M417.9 364.6h0M458.4 407.1h0M459.8 369.8h0M437 370h0M406.7 405.4h0M460.3 414.9h0M463 383.3h0M421.7 360.5h0M406.6 402.5h0M398.5 372.2h0M420.2 358.2h0M407 402h0M428.4 422.7h0M416 362.2h0M440.1 422.2h0M401.6 357.5h0M399.6 401.2h0M454.7 414.8h0M401.4 367h0M416.4 362.8h0M417.3 424.1h0M456.4 411h0M447.6 420.7h0M475.3 407h0M404.8 363.1h0M401.7 391.8h0M441 423.4h0M425.2 342.3h0M427.2 421.6h0M452.1 384.4h0M422 416.3h0M420.4 419h0M458.5 426h0M403.4 391.9h0M401.1 389.8h0M457 357.1h0M401.9 379.4h0M458.3 398.3h0M421.7 421.4h0M409.9 410h0M400.2 379h0M438.6 423.5h0M408.7 405.5h0M438 374.6h0M460.7 409.8h0M406.3 366.6h0M430.7 423.7h0M438 373.2h0M439.8 421h0M429.2 427.8h0M439.7 371.5h0M441.8 376.6h0M415.1 363.3h0M437.4 350.9h0M403 368.6h0M401.1 386.7h0M433 423h0M456.9 391.9h0M462.2 398.4h0M402.9 402.6h0M410.7 363.4h0M459.5 414.5h0M474.8 417.4h0M434 361.4h0M398.5 386.1h0M455.7 392.8h0M401.2 382.2h0M452.3 421.8h0M459.7 414.3h0M402.1 367.3h0M425.3 366.1h0M413.3 409.8h0M430.9 421.7h0M460.2 391.6h0M438.1 369.3h0M412.8 364.3h0M451.3 427.1h0M400.3 372.6h0M421.3 366h0M455.2 392h0M410.2 364.7h0M431.8 427.1h0M409 405.2h0M399.7 382h0M404.7 357.4h0M468.9 405.4h0M424.3 361.3h0M408.6 365.3h0M402.5 387.6h0M439.6 420.3h0M422 419.9h0M400.7 360.2h0M458.7 395.4h0M450.5 383.6h0M452.8 379.9h0M454.1 386.8h0M414.1 411.1h0M440 422.2h0M474.3 424.1h0M394.9 376.9h0M409.9 358.7h0M468.1 416.5h0M439.5 374.3h0M447.4 421.8h0M437.1 420.5h0M425.7 423.8h0M436.3 428.4h0M424 425.1h0M459.4 419.7h0M467.6 407.8h0M395.5 361.9h0M451.6 423.2h0M401.8 380.4h0M460.5 394.2h0M423.2 366.1h0M402.5 371.4h0M450.7 386.2h0M407.6 356.3h0M406.6 400.4h0M412.6 410.6h0M431.4 424.4h0M411.6 411.8h0M446.6 420.1h0M402 386.8h0M446 378h0M481.6 414.3h0M415.4 422.3h0M415.5 356h0M451.6 420.4h0M436.4 371.8h0M458.4 390.6h0M464.6 410.8h0M397.4 369.9h0M472.4 397.8h0M461.1 395.5h0M399.3 383.9h0M464.1 426.4h0M413.4 360.1h0M402.3 367.4h0M447.7 426.1h0M424.5 362h0M426.3 366.4h0M437.3 422.2h0M399.4 378.7h0M459.3 384.5h0M414.3 360.3h0M424.6 360.4h0M397.9 382.8h0M450.5 383.4h0M405 366.5h0M432.5 425.9h0M407.7 402.9h0M443.1 432.8h0M400.8 405.9h0M421 417.5h0M418.7 361.3h0M398.2 381.8h0M453.6 386.1h0M427.4 421.7h0M462.2 403.4h0M427.3 367.5h0M405.2 366.7h0M444.5 375.3h0M419.3 363.2h0M451.6 387.9h0M403.6 369.2h0M438.4 373.1h0M404.6 364.7h0M435 364.5h0M403 392.8h0M420.1 418.3h0M481.3 397.9h0M420.7 363.3h0M426.6 364.9h0M403.9 411.4h0M452.7 374.8h0M439.3 420.5h0M402.2 376.1h0M410.5 407.4h0M412.5 414.6h0M404.6 401.5h0M398.9 372.8h0M450.7 426.3h0M454.9 417.2h0M452.9 421.1h0M404 398.9h0M450 419.9h0M427 422h0M444.6 378.1h0M430.7 420.2h0M435.4 368.8h0M433.1 420h0M448.1 421.6h0M401.9 383.7h0M416.1 364.5h0M439.1 374.9h0M416.9 362.2h0M405.2 404.9h0M408 407.5h0M464.1 399.8h0M395.5 377.7h0M430.7 370.3h0M400.4 393.5h0M450.7 417.9h0M459.8 403.1h0M464.4 422.5h0M439.5 420.6h0M443.5 421.9h0M407.5 405.7h0M457.7 411.4h0M446.9 378.7h0M412 409.3h0M425.4 418h0M410.1 408.9h0M419.9 365.1h0M453.3 436.5h0M462.2 423.5h0M456.6 416.6h0M403 368h0M458.1 382.8h0M419 414.5h0M459.4 389.4h0M451.5 420.5h0M451.3 417.4h0M405.5 357h0M405.8 361.8h0M462.5 417.7h0M451.8 416.4h0M438.4 369.3h0M401.9 382.9h0M453.7 416.7h0M459.1 402.5h0M401.1 363.9h0M392.5 390.8h0M406.4 401h0M401.9 364.6h0M447.3 420h0M409 363.9h0M467.3 418.6h0M428.2 364.3h0M459.7 401.2h0M431 431.3h0M461.4 395.3h0M457 415.1h0M416.3 425.1h0M436.1 371.5h0M463.3 398h0M412.3 362.7h0M402.6 373.9h0M464.6 415.1h0M403.7 365h0M455.3 424.3h0M427.8 361.5h0M431.6 423.8h0M425.3 418.4h0M401.8 375.8h0M463 400.9h0M427 367.2h0M420.8 360.9h0M467.5 400.2h0M413 410.4h0M401.9 386.6h0M415.3 417.8h0M441 420h0M430 428.3h0M408.8 405.5h0M400.4 369.9h0M428.9 419.3h0M457.1 393.1h0M401.4 374.7h0M406.3 362h0M455.4 417.4h0M414.8 419.8h0M456.3 392.8h0M406.7 410.4h0M432 420.8h0M418.6 362.1h0M398.4 369.4h0M417.3 422.4h0M413.7 362.3h0M411.2 415.1h0M457.1 368h0M449 382.1h0M406.8 409.4h0M458.2 429h0M404.5 367.2h0M408.4 411.4h0M445.4 420.1h0M456.8 379.5h0M460 406.2h0M417.9 414.6h0M448.6 419.1h0M447.3 418.6h0M430.9 361.9h0M408.5 404.6h0M399.6 398.3h0M447.3 364.2h0M423.2 364.8h0M485 395.8h0M445.6 371.3h0M407.7 406.8h0M400.5 370.2h0M459.2 389.4h0M417 365.1h0M431.6 426.3h0M446 380.8h0M444.5 430.4h0M453.4 384.1h0M413.6 410.4h0M442.2 377.2h0M415.4 364.2h0M438.1 424.5h0M430.1 421.2h0M470.3 409.2h0M413.5 411.5h0M458.5 399.1h0M423 416.8h0M412.5 360.7h0M399.9 379.6h0M415.2 418.2h0M422.4 363.5h0M399.1 368.7h0M404.3 394.9h0M436 373.5h0M401.5 376.8h0M411.9 364h0M401.5 392.7h0M404.3 404.6h0M439.4 423.5h0M460.8 391.8h0M393.3 374.8h0M402.9 396.5h0M437.4 374.1h0M397 377.2h0M399.2 382.6h0M441.6 377.6h0M410.8 360.2h0M420.7 415.8h0M406.6 403h0M405.5 398.1h0M421.4 363.3h0M467.1 398.7h0M405.2 365.9h0M425.3 367.6h0M423.8 418.5h0M467.2 414.1h0M422.6 419h0M458.6 398.2h0M454.2 385.1h0M429.7 367.1h0M401.6 373.7h0M431.1 434.6h0M420.1 358.5h0M460.6 380.5h0M455.6 414.8h0M457.1 384.5h0M402.4 387.6h0M398.6 389h0M459.2 401.8h0M405.5 398.8h0M404.2 396.3h0M427.5 359.3h0M478 394.9h0M434.7 366.6h0M456.9 384.5h0M420.6 418.5h0M445 420.6h0M414.3 417.3h0M436 423.3h0M401.5 358.3h0M407.8 363.6h0M451.2 384.9h0M424.2 365.8h0M399.8 373.3h0M460.1 392.8h0M400.1 362.5h0M448.9 425.4h0M400.2 378.4h0M457 421.5h0M462.8 401.8h0M405.2 365.6h0M441.4 421.3h0M462.4 391.7h0M454.7 391.5h0M410.1 360.7h0M462.6 401.2h0M431.9 361.5h0M410.6 360h0M413.2 357.2h0M396.4 366.2h0M411.5 360.4h0M402 379.3h0M403.5 394.8h0M430.4 369.6h0M459.2 434.1h0M458.8 410.1h0M398.8 363.7h0M451.7 388h0M394.2 381.4h0M412 412.6h0M432 368.5h0M428.8 366.3h0M443.8 376.4h0M431.4 366.1h0M429.4 421.2h0M434.3 371.6h0M455 417.8h0M419.2 364h0M449 381h0M419 363.8h0M402.7 387.8h0M395.5 373.7h0M402.2 373.5h0M460.8 410.3h0M454.6 415.9h0M432.7 368h0M470.8 406.7h0M403.7 368.6h0M421.2 365.6h0M403.5 392.2h0M414.2 413.6h0M436 423.9h0M416.4 362h0M409.9 348.6h0M449.5 383.6h0M402.8 366.4h0M434.6 369.9h0M419 419h0M449.9 419.5h0M420.2 417h0M450 385.8h0M438.8 422.2h0M415 363.4h0M403.6 403.5h0M423.2 363.6h0M456.4 394.3h0M425 367.3h0M434.4 423.8h0M419 364.9h0M399.2 394.5h0M402.8 370.6h0M401.6 390.9h0M407.1 405.8h0M462.2 417.8h0M464.9 402.3h0M407.8 408.5h0M401.6 382.5h0M407.8 406.1h0M443.6 432.5h0M411.5 409.6h0M402.2 393.1h0M448.2 380.5h0M464.3 406.7h0M403.6 399.5h0M448.2 428.2h0M412.1 412.7h0M442.3 428h0M426.5 421.2h0M411 359.2h0M409.9 365.2h0M401.1 364h0M429.3 369.5h0M439.4 364.6h0M404.7 406.8h0M435.5 421.5h0M403.1 409.9h0M402 383.7h0M410.4 416.7h0M432.2 369.5h0M397.9 379.5h0M451.9 416.5h0M401.2 378.9h0M473.8 363.2h0M401.6 391.7h0M400.7 379.4h0M457.4 377.8h0M462.7 395.7h0M468.4 421.3h0M454.6 414.4h0M464.4 414.2h0M457.9 407.2h0M406.3 366.1h0M412 360.1h0M428.4 366.8h0M463.5 410.5h0M466.2 371.6h0M449.5 378.7h0M463.3 414.3h0M406.4 367.3h0M402.6 393.1h0M419.4 363.8h0M401.9 380.1h0M433.3 427.6h0M431.4 368.4h0M409.8 364.5h0M431.3 424.7h0M402.5 370.8h0M393.4 377.6h0M456.2 373.9h0M460.4 388.7h0M428.1 438.9h0M415.9 362.3h0M423.2 420.7h0M400.9 374.3h0M401.7 366.2h0M400.1 379.3h0M474.6 431.3h0M400.4 381.3h0M402 363.3h0M468.8 412.2h0M406.2 400.2h0M408.5 359.3h0M401.9 385.5h0M460.1 405.7h0M448.2 419.3h0M398.8 372.2h0M412.6 417.9h0M435.4 373.2h0M458.2 388.9h0M459.9 401.7h0M402.7 363.6h0M448.1 420.2h0M452.9 389.3h0M432.1 419.5h0M401.3 386.1h0M441.5 420.7h0M408.3 354.9h0M443 377.2h0M411.9 413.7h0M422.4 354h0M406.7 402h0M428.4 368.8h0M427.2 419.3h0M462.1 385.1h0M427 365.3h0M456.5 382.9h0M422.4 357.6h0M409.2 406h0M437.4 434.6h0M404.9 359.2h0M407.6 364.1h0M412.1 411.8h0M405.8 399.4h0M398.2 384h0M458.2 403.8h0M399 372h0M412.6 410.5h0M422 417.7h0M455.6 413.4h0M418.1 416.1h0M447.4 420.4h0M442.1 378h0M420.2 365.1h0M438.3 424.5h0M442 377.2h0M464.9 403h0M442.1 377.1h0M401.1 388.4h0M453.6 389.6h0M410.9 408.9h0M415.1 364.7h0M399.9 382h0M431.7 422.4h0M432.2 422.8h0M472.2 432h0M459.8 408.6h0M462.3 411.5h0M450.5 420.3h0M458.6 406.3h0M430.1 368.1h0M403.7 402.4h0M451.9 416h0M460.7 402.4h0M412.6 410.9h0M471.8 367.9h0M407.2 363.7h0M457.8 394.9h0M462.5 404h0M411.5 407.8h0M402.3 388.9h0M411.8 359.7h0M402.7 398.5h0M403.7 396.8h0M406.1 346.7h0M458.4 402.2h0M458.6 396.8h0M406.3 401.8h0M424.3 418.4h0M423.5 420.5h0M460.8 398.8h0M421.5 366h0M449.7 385.3h0M420.7 416.5h0M412.1 408.8h0M397.2 378.4h0M461.6 381.1h0M407.6 337h0M478.5 394h0M422.8 433.7h0M438 372.1h0M456 418.2h0M401.6 375h0M398.3 369.6h0M464.5 395.9h0M448.6 422.8h0M445.4 421.3h0M467.1 427.3h0M438.6 420.4h0M418.9 417.1h0M401.5 381.6h0M428.2 420.2h0M436.1 366.8h0M437.3 361.2h0M472.9 413.9h0M423.7 366.6h0M395.9 367.5h0M415.8 413.2h0M454.9 416.9h0M492.3 425.1h0M422.2 366.3h0M457.7 398.2h0M401.8 390.1h0M395.5 364.4h0M452.8 388.6h0M447.8 421.9h0M439.4 367.6h0M459.2 424.8h0M453.9 389.9h0M446.9 377.6h0M460.4 391.8h0M434 427.3h0M429.3 367.3h0M447.1 371.4h0M457.8 381.3h0M409.9 410.9h0M429.5 368.8h0M400.8 391.7h0M401.1 387.6h0M427 431.9h0M423.2 448.4h0" stroke="#000" stroke-width="3.2" stroke-linecap="round" fill="none"/>
<circle cx="383.5" cy="296.1" r="1.6" fill="#ff0000"/>
<circle cx="401.6" cy="298.7" r="1.6" fill="#ff0000"/>
<circle cx="389.5" cy="318.1" r="1.6" fill="#fff000"/>
<circle cx="400.3" cy="324.1" r="1.6" fill="#fff000"/>
<circle cx="403.3" cy="333.6" r="1.6" fill="#fff000"/>
<circle cx="393.8" cy="337.5" r="1.6" fill="#fff000"/>
<circle cx="405.9" cy="340.1" r="1.6" fill="#fff000"/>
<circle cx="405.9" cy="350.8" r="1.6" fill="#fff000"/>
<circle cx="395.6" cy="324.1" r="1.6" fill="#ffa500"/>
<circle cx="404.6" cy="324.1" r="1.6" fill="#000"/>
</g>
<g>
<rect x="559.9" y="289.3" width="115.8" height="165.2" fill="#fff" stroke="#8a8a8a" stroke-width="0.8"/>
<line x1="556.3" y1="451.3" x2="559.9" y2="451.3" stroke="#222" stroke-width="0.7"/>
<text x="554.7" y="454.2" font-size="8" text-anchor="end">−4</text>
<line x1="556.3" y1="422.9" x2="559.9" y2="422.9" stroke="#222" stroke-width="0.7"/>
<text x="554.7" y="425.8" font-size="8" text-anchor="end">−2</text>
<line x1="556.3" y1="394.5" x2="559.9" y2="394.5" stroke="#222" stroke-width="0.7"/>
<text x="554.7" y="397.4" font-size="8" text-anchor="end">0</text>
<line x1="556.3" y1="366.1" x2="559.9" y2="366.1" stroke="#222" stroke-width="0.7"/>
<text x="554.7" y="369" font-size="8" text-anchor="end">2</text>
<line x1="556.3" y1="337.7" x2="559.9" y2="337.7" stroke="#222" stroke-width="0.7"/>
<text x="554.7" y="340.6" font-size="8" text-anchor="end">4</text>
<line x1="556.3" y1="309.4" x2="559.9" y2="309.4" stroke="#222" stroke-width="0.7"/>
<text x="554.7" y="312.3" font-size="8" text-anchor="end">6</text>
<line x1="574.5" y1="454.5" x2="574.5" y2="458.1" stroke="#222" stroke-width="0.7"/>
<text x="574.5" y="467.9" font-size="8" text-anchor="middle">−15</text>
<line x1="607.5" y1="454.5" x2="607.5" y2="458.1" stroke="#222" stroke-width="0.7"/>
<text x="607.5" y="467.9" font-size="8" text-anchor="middle">−5</text>
<line x1="624" y1="454.5" x2="624" y2="458.1" stroke="#222" stroke-width="0.7"/>
<text x="624" y="467.9" font-size="8" text-anchor="middle">0</text>
<line x1="640.5" y1="454.5" x2="640.5" y2="458.1" stroke="#222" stroke-width="0.7"/>
<text x="640.5" y="467.9" font-size="8" text-anchor="middle">5</text>
<line x1="657" y1="454.5" x2="657" y2="458.1" stroke="#222" stroke-width="0.7"/>
<text x="657" y="467.9" font-size="8" text-anchor="middle">10</text>
<line x1="673.5" y1="454.5" x2="673.5" y2="458.1" stroke="#222" stroke-width="0.7"/>
<text x="673.5" y="467.9" font-size="8" text-anchor="middle">15</text>
<text x="617.8" y="481" font-size="8" text-anchor="middle">Precond. soil moisture anomaly (%)</text>
<text transform="translate(539.7,371.9) rotate(-90)" font-size="8" text-anchor="middle"><tspan font-style="italic">Tx</tspan>7d anomaly (°C)</text>
<polygon points="652.9,407.5 652.6,403.7 651.9,399.8 650.6,395.8 648.8,391.7 646.6,387.7 644,383.7 640.9,379.9 637.6,376.3 634,373 630.3,370 626.3,367.4 622.3,365.2 618.4,363.6 614.4,362.4 610.7,361.7 607.1,361.6 603.7,362 600.7,362.9 598.1,364.4 595.9,366.3 594.1,368.7 592.8,371.5 592.1,374.7 591.8,378.1 592.1,381.8 592.8,385.8 594.1,389.8 595.9,393.9 598.1,397.9 600.7,401.9 603.7,405.7 607.1,409.3 610.7,412.6 614.4,415.6 618.4,418.2 622.3,420.4 626.3,422 630.3,423.2 634,423.9 637.6,424 640.9,423.6 644,422.7 646.6,421.2 648.8,419.3 650.6,416.9 651.9,414.1 652.6,410.9" fill="#000"/>
<path d="M643 423.2h0M658.6 411.9h0M653.1 404.7h0M646.2 382.2h0M619.3 358.6h0M620.2 420.9h0M659.1 417.5h0M598.1 400.4h0M606.7 356.6h0M622.4 424.8h0M658.9 387.3h0M634.7 430.5h0M653.7 427.2h0M640.6 380.3h0M639 433.3h0M605.8 362.2h0M638.1 423.1h0M606.6 414.3h0M605.9 421.2h0M600 403.6h0M652 404.4h0M624.5 431.2h0M654.2 414.7h0M646.4 433.8h0M632.5 370.7h0M600.4 402h0M641.5 424.3h0M656.6 423.2h0M621 361.9h0M607.3 355.4h0M649.5 382.9h0M631.4 433.7h0M598.4 400.6h0M650.5 417.1h0M596.7 364.7h0M588.5 373.7h0M594 394.9h0M626.5 424.3h0M597.8 361.8h0M606 408.2h0M585.3 379.7h0M630.6 370.3h0M657.9 396.8h0M627 421.5h0M589.1 381.2h0M585.1 382.1h0M629.4 429.8h0M651.4 395.1h0M647.8 390.9h0M597.6 398.8h0M604.9 355.4h0M646.3 388.6h0M589.7 385.5h0M663.1 410h0M609.5 411.4h0M659.6 428.8h0M630.2 423.9h0M672.2 423.1h0M641.1 379.9h0M605.3 408.4h0M656 408.4h0M591.5 393.2h0M577.2 380.6h0M619.6 421.5h0M631.1 355.8h0M609.5 412.5h0M636 375.3h0M625 427.1h0M626.3 364.1h0M589 380.3h0M597.9 364.5h0M600.9 364.1h0M664.1 418.4h0M593.9 386.9h0M593.1 397.8h0M652 362.1h0M590.8 373.8h0M587.7 363.7h0M654.3 402.2h0M632.8 423.8h0M610.8 359.8h0M587.7 386.3h0M648.5 431.3h0M652.4 422.5h0M650.6 421.8h0M590.1 360.2h0M648.5 418.2h0M661.1 407.7h0M583.5 382.4h0M644.5 423.8h0M627 365.8h0M593 365.1h0M594.1 367.4h0M594.7 389.5h0M638.4 424.8h0M642.4 422.1h0M614.7 362.1h0M647 423.2h0M599.2 402.9h0M639.7 379.4h0M655.7 421.5h0M608 355.2h0M619.1 432.8h0M597.4 350h0M630.4 368h0M652.8 425.7h0M606.8 354.3h0M640 375.7h0M590.1 379.4h0M583.4 388h0M625.6 361.1h0M652.4 409.4h0M630.5 423.2h0M589.9 378.1h0M645.3 425.4h0M658.5 416.1h0M590.3 388.1h0M586.3 368.8h0M610.4 362h0M631 363.2h0M603.3 407.6h0M604 407.8h0M611.8 355.4h0M589.4 376.2h0M649.5 420.9h0M655.5 415.4h0M602 406.7h0M586.4 373.9h0M654.1 395.5h0M628.7 422.3h0M642.6 372.5h0M660.9 403.8h0M635.5 372.5h0M632.6 424.1h0M631.3 433.5h0M658.1 407.6h0M644.1 366.9h0M652.1 411.1h0M651.3 413.7h0M606 407.8h0M617.9 425.4h0M593.3 370.6h0M636.4 423.1h0M590.3 385.8h0M640.7 423h0M653 416h0M660.9 387.7h0M612.7 413.7h0M654.8 419.6h0M589.2 370.9h0M655.6 416.1h0M596.1 367.5h0M628.2 429.2h0M652.9 397.1h0M593.4 372.3h0M639.8 369.5h0M638.4 371.1h0M596.9 403.3h0M586.6 353.1h0M606.4 360.1h0M608.7 359.2h0M595.2 391.7h0M641.8 379h0M593.4 396.5h0M661.2 400.1h0M596.8 404.7h0M641.7 422.9h0M651.3 425.8h0M610 360.8h0M624.8 359.5h0M590.9 364.6h0M606.2 411.1h0M633.2 428h0M589.8 388.9h0M614 415h0M601.3 362.8h0M600.2 363.9h0M625.7 422.7h0M637.6 426.8h0M595.2 367.8h0M590.9 380.9h0M646 420.5h0M594.2 370.6h0M642.7 428.4h0M649 384h0M642.7 429.6h0M581.1 377.2h0M596.4 363.5h0M587.9 359.4h0M588.4 364.6h0M626.2 361.7h0M603.5 353.5h0M653.8 415.3h0M591.3 374.9h0M599.9 401.8h0M587.3 373.6h0M594.9 366.9h0M646.5 421.6h0M654.5 427.5h0M647.7 389h0M608.5 362.3h0M591.6 390.9h0M590.2 380.1h0M599.6 406.5h0M616.1 351.6h0M637.6 371.2h0M587.1 386.5h0M640.4 431.6h0M625.6 430.2h0M584.6 374.3h0M653.7 412.6h0M661.2 402.2h0M580.7 399.9h0M604 405.9h0M643.1 433.4h0M629.2 368.1h0M618 363.1h0M629.4 422.6h0M637.3 430.6h0M629.7 367.4h0M608.1 360.9h0M650.1 394.6h0M598.8 399.2h0M621.2 349.5h0M639.6 427.2h0M585.6 368.6h0M590.4 376.2h0M646.5 385.3h0M588.3 387.2h0M591.9 369.3h0M652.6 415.3h0M594.8 400.6h0M597.7 363.9h0M591.8 377.8h0M593.9 387.9h0M593.9 397.4h0M592.6 356.6h0M632.5 362.3h0M658.1 408.4h0M602.4 415.2h0M651.8 412.2h0M652.9 414.1h0M654.5 402.9h0M653 397.5h0M613.2 414.1h0M593.1 390.5h0M640.9 379.6h0M626.3 360.7h0M648.2 427.8h0M625.6 365h0M591.3 378h0M630.6 427.3h0M605.1 358.8h0M649.8 395h0M602.6 405.5h0M618 418.8h0M601.9 356h0M648.6 427.3h0M610.2 356.6h0M578.6 401.9h0M589.5 364h0M612 413.7h0M647.9 421.7h0M628.9 366.6h0M646.9 420.2h0M590 371.5h0M602.9 405h0M646.6 381.8h0M645 383.3h0M644.9 382.8h0M628.5 363.7h0M649.3 393.2h0M638.1 375h0M604.1 416.5h0M636.5 373.6h0M616.4 360.9h0M596.2 393h0M610.3 359.1h0M594.2 389.8h0M593.6 394.8h0M624.7 362.5h0M649.2 417.9h0M612.9 414.1h0M657 408.3h0M657.6 415.4h0M657.3 397.1h0M616.3 363.7h0M610.9 414.3h0M656 410.1h0M612.9 417.8h0M594.2 370h0M625.3 364.5h0M592 377.5h0M647.6 389h0M619.1 427.1h0M590.8 383.3h0M654.2 401.4h0M612.4 423.7h0M642.9 382.5h0M605.6 415.8h0M631 371.1h0M648.7 378.7h0M628.6 364.4h0M597.2 354.4h0M653 411.3h0M613.4 361.6h0M597.1 396.6h0M631.8 367.7h0M648.1 425h0M652.2 425.3h0M595 366.8h0M580.8 364.1h0M635.8 369.8h0M628.5 364.6h0M595.4 363.4h0M646.8 378h0M628.8 422.1h0M591.1 363.9h0M652.6 421.8h0M616.9 419.4h0M590.2 375.6h0M654.8 393h0M650.3 415.5h0M613.3 360.2h0M593.1 384.8h0M648.8 426.1h0M602.4 422.9h0M608.2 362h0M588.4 356.3h0M613.3 362.9h0M652.6 397.4h0M650.9 414h0M634.2 427.3h0M592.3 383.4h0M651.1 418.4h0M627.1 423.3h0M652.3 423.1h0M647.6 387.5h0M634.1 373.6h0M591.4 360.7h0M615.1 363.4h0M586.2 371.2h0M629.5 367.3h0M650.4 416.4h0M619.8 419.1h0M638.1 367h0M621.9 421.3h0M638.8 426.7h0M641.4 377.6h0M590 379.9h0M648.5 417.9h0M586.8 373.8h0M660.7 417.2h0M617.5 364h0M626.1 365h0M601 362.1h0M634.1 355.7h0M643.6 425h0M590.5 382.7h0M626.1 426.1h0M652.4 415.9h0M658.9 397.6h0M647.1 379.5h0M619.6 363.9h0M606.2 408.7h0M658.1 428.1h0M630.5 423.7h0M626.1 367.2h0M595.3 397.7h0M598.3 399.9h0M591.6 375.3h0M593.2 387.7h0M644.8 422.7h0M644.9 381.5h0M583.5 375.1h0M655.7 402.8h0M590.9 372.3h0M591.2 354h0M652.9 405h0M657 413.1h0M592.9 373.9h0M604.1 362.8h0M589.6 393.4h0M655.6 405.6h0M646.6 437.4h0M592.6 377.3h0M640.5 422.7h0M594.4 348.8h0M617.3 362.8h0M602 362.5h0M594.5 366.2h0M597.9 358.3h0M650.1 415.8h0M615.1 425h0M619.3 420h0M643.9 428.6h0M616.6 363.4h0M600.1 403.3h0M615.1 358.2h0M646.8 426.1h0M593.2 373.9h0M637.3 373.4h0M600.6 364.1h0M633.6 424.7h0M629.4 422.8h0M614.3 418.4h0M590.3 388.2h0M652.4 405.3h0M643.3 424.6h0M641.5 431.1h0M593.8 387.8h0M616.4 418.3h0M606.9 409.1h0M658.4 427.5h0M592.7 382.6h0M590.2 379.4h0M591.1 383.9h0M593.5 389.6h0M646 430h0M592.4 393.7h0M642.4 379.5h0M586 393.8h0M620.8 437.3h0M595.4 399h0M643.9 383.5h0M638.6 424.2h0M596.4 396.3h0M625.1 366.6h0M606.7 358.8h0M597 365.6h0M589.7 386h0M605.9 407.3h0M635 427h0M657 425.3h0M606.4 362.1h0M609.4 361.7h0M659.6 422.8h0M601.2 360.5h0M601.3 355.1h0M598.5 365.6h0M644.7 422.7h0M609.9 361.1h0M613.5 417.3h0M657.7 406.5h0M617.9 359.5h0M587.8 376.2h0M596.2 406h0M616.3 362.4h0M612.5 360.9h0M595.7 396.2h0M659 418.5h0M601.4 358.2h0M625.2 364.7h0M650.1 394.2h0M621.3 364.1h0M608.3 410.4h0M592.7 370.6h0M632.8 367.7h0M632 371.3h0M592.7 384.3h0M658 406.3h0M651.2 419.7h0M656.4 412.6h0M600.1 401.9h0M624.9 366.8h0M661.1 392.7h0M635.2 427h0M605.4 407h0M628.8 369h0M621.1 364.2h0M647.7 387.5h0M642.4 422.5h0M592.5 369.6h0M637.4 429h0M628.5 431.3h0M643.5 422h0M643.7 421.7h0M651.9 412.2h0M600.3 402.1h0M632.3 430.5h0M592.3 402.1h0M650 385.3h0M615.7 357.8h0M592.7 383.8h0M585.5 357.3h0M623.4 420.3h0M661.5 395.3h0M618.9 418.1h0M656 439h0M635.8 374h0M621.3 364h0M622.6 360.1h0M647.5 390.3h0M600.2 416.8h0M634.6 426.9h0M654.6 418.9h0M641.9 439.8h0M646.2 377.3h0M612.3 351.1h0M639.9 429.1h0M650.4 427.1h0M637 367.2h0M606.4 408.9h0M613.5 418.4h0M593.2 371.5h0M604.2 360.9h0M640.6 440.2h0M586.9 361.9h0M650.6 396.3h0M658.9 398.4h0M606 407.9h0M653.2 422.9h0M610.5 360.9h0M652.9 390.7h0M605.3 362.3h0M641.6 423h0M609.1 414.2h0M642.7 382.8h0M594.9 364.5h0M633.1 425.6h0M646.9 429.2h0M643.3 426.5h0M606 358.9h0M596.7 357.8h0M622.5 365.9h0M594 391.5h0M656 405.9h0M639.2 372.1h0M651.3 392.5h0M647.4 432.4h0M630.9 425h0M645.6 382.3h0M614.4 350.1h0M650.6 397.2h0M621.5 364.2h0M612.7 419.1h0M597.2 395h0M628.1 368.8h0M620.2 420.3h0M597.5 397.3h0M581.5 358.8h0M636.3 424.2h0M603.2 352h0M587.8 393.2h0M601.7 408.6h0M666.4 404.6h0M620.6 422h0M654.5 400.9h0M646.2 426.5h0M589 382.9h0M620.3 429.3h0M597.1 395.7h0M650.9 437.1h0M604.4 362.2h0M643.2 379.3h0M644.8 426h0M587.9 359.4h0M630.4 369.9h0M592.6 361.2h0M602.8 359.8h0M647.6 425.8h0M620.4 418.7h0M587.2 374.4h0M654.1 390.6h0M653.7 410.9h0M617.2 364h0M628.8 424.2h0M650.9 392.9h0M605 410.6h0M624.9 362.5h0M587.8 347.6h0M609.6 346h0M585.7 340.9h0M666.8 421.3h0M591.6 361.5h0M651.5 400.3h0M593.4 388.6h0M626.6 365.2h0M652.7 396.7h0M597.4 361.3h0M602.5 363.3h0M661.8 405.1h0M633.5 373.3h0M639 423.1h0M648.2 427.2h0M600.2 403.1h0M658.4 423h0M642.2 426.3h0M585.2 377.9h0M656.2 412.1h0M637.7 372.3h0M637 426.3h0M622.6 363.9h0M607.7 362.3h0M601.4 403.1h0M631.7 427.7h0M591.9 388.2h0M652.1 391.3h0M609.7 362.6h0M622.6 421h0M608.7 358.8h0M622 365.6h0M643 423.8h0M652.5 408.8h0M612.9 415.6h0M616.1 362.2h0M616.1 362h0M642.2 422.2h0M650.8 373.8h0M646 384.3h0M628.6 422h0M650.6 389.6h0M594 388.5h0M583.8 361.9h0M650.6 393.8h0M620.7 432.4h0M616.9 363.2h0M593.4 396.1h0M602.4 355.7h0M646.9 388.7h0M645.6 386.7h0M647.1 387h0M624.2 365.9h0M591.3 370.7h0M646.6 386.6h0M655.3 413.5h0M587.1 383.3h0M598.3 354.9h0M627.1 359.7h0M636 368.9h0M629.8 363.8h0M600.8 400.8h0M639.7 424.2h0M662.8 396.5h0M625.5 421.2h0M644.3 383.5h0M592.4 388.2h0M587.3 387.2h0M656.4 385h0M614.8 362.9h0M661.1 414.2h0M664.5 400.3h0M627.3 366.1h0M598.6 365.2h0M658.3 410h0M648.8 385.7h0M652 398.2h0M635.2 369h0M650.7 415.3h0M655.1 420.9h0M627 364.8h0M621.9 421.5h0M591.4 365.8h0M619.7 361.2h0M640.5 423.4h0M623.7 366.3h0M668.9 429.7h0M638.6 429.5h0M652.4 409.7h0M657.7 417.6h0M617.8 417.5h0M643.2 381.1h0M607.8 411h0M592.3 367.1h0M583.9 387.2h0M650.2 415.6h0M594.2 364.7h0M609.7 358.7h0M568.1 355.4h0M651.7 414h0M655.1 401.4h0M645.9 425.8h0M647.1 388.1h0M592.5 388.3h0M637.8 376.8h0M614.7 424h0M645.2 427.3h0M614 418h0M652.8 413.1h0M587 371.4h0M619.8 363.5h0M657.1 418.9h0M605.5 360.6h0M634.9 372.2h0M649.8 388.2h0M595.7 364.9h0M590.8 363.1h0M647.4 382.1h0M617.2 361.4h0M647.5 431.3h0M602.2 359.5h0M649.5 420.5h0M591.6 366.2h0M609.2 355.1h0M651.8 415.7h0M630.8 433.6h0M646.4 429.8h0M594.2 388.9h0M627.6 368.7h0M596.9 401.3h0M615.9 362h0M612.9 428.7h0M604.1 408.8h0M622.1 423.7h0M652 405.1h0M603.3 362.9h0M652.3 380.1h0M604.4 411.4h0M648.9 422.5h0M645.6 424.5h0M655.8 407.7h0M650.2 419.1h0M608.3 352.3h0M619.5 422.9h0M599.2 398.6h0M629 366.6h0M620.9 351.7h0M628.7 425h0M662.3 422h0M593.3 384.2h0M622.9 364.4h0M653.7 404.8h0M632.2 371h0M586.7 387.4h0M642.4 425.8h0M636.7 425.5h0M596 404h0M598.2 354.4h0M634.4 427.2h0M624.4 366.7h0M595.1 364.4h0M594.3 366.9h0M614.3 363h0M591 365.9h0M655 413.9h0M632.3 425.2h0M601.6 411.5h0M640.7 370.7h0M587.7 390.3h0M622.2 355.8h0M625.9 421.9h0M619 360.1h0M620 419.5h0M596.6 395.9h0M642.9 383.5h0M652 400.4h0M640.1 377.8h0M589.1 388.9h0M596.2 393.1h0M653.9 406.5h0M655 410.2h0M644.3 381.7h0M587.4 388.6h0M625.4 437.8h0M651.2 393.3h0M614.3 414.8h0M587.8 391.6h0M626.5 424.8h0M637.3 423.8h0M651.6 430.4h0M636.1 426.2h0M619 362h0M593.4 390.5h0M596.8 399.2h0M612.8 416.1h0M626.9 367.9h0M645.2 421.3h0M654.2 436.2h0M630.6 369.8h0M591.6 391.5h0M652.8 405.5h0M602.9 360h0M656.9 391.6h0M612.7 414.7h0M590.8 384.9h0M621.7 358.1h0M595 364.2h0M603.8 407h0M657.4 417.5h0M653.1 406.4h0M604.7 407.3h0M617.8 360.1h0M651.4 426.4h0M590.4 375.8h0M626.7 424.5h0M631.8 427.8h0M638.6 369.9h0M635.7 427.6h0M653.3 399.2h0M652.4 411.8h0M583.3 380.5h0M656.5 398.3h0M649.5 393.1h0M585.8 372.6h0M634.2 425h0M600.2 404h0M597.1 394.8h0M592.6 369.8h0M612 413h0M595 395.5h0M625.9 424.1h0M576.8 385.9h0M600.2 406.5h0M590.4 392.3h0M653 412h0M588.4 362.7h0M619.5 363.5h0M652.3 400.5h0M592.6 372.8h0M619.4 351.4h0M647.2 425.2h0M637 424.3h0M622.8 366h0M610.1 361.3h0M660.1 415.2h0M650.6 393.5h0M591.3 390.2h0M650.6 430.8h0M594.5 390.8h0M630.2 361.9h0M652.8 418.6h0M612.2 413.7h0M590.2 378.9h0M645.9 426.3h0M592.7 360h0M585.9 375.8h0M652.6 404.3h0M602.8 409.5h0M643.6 384.2h0M651.4 412.3h0M592.4 375.5h0M624.9 366.8h0M601.9 354.6h0M588 384.1h0M609.2 415.4h0M627.5 435.9h0M592.6 369.4h0M628.5 422.1h0M651.4 412.4h0M642.3 426.3h0M632.3 361.7h0M640.5 372.6h0M631.8 423.6h0M592.6 379.2h0M653.7 395.2h0M653.3 406.6h0M649.8 424.8h0M654.6 422.5h0M629.2 425.2h0M641 444.1h0M594 388.4h0M612.3 415.8h0M644.9 383.3h0M643.5 426.6h0M629.6 369.9h0M621.7 424.4h0M629.9 423.2h0M601.8 361.9h0M653.9 417.3h0M624.6 432.6h0M659.1 404.1h0M625.7 422.2h0M655.6 414.7h0M650.8 424.8h0M584.7 347.2h0M639.7 377h0M598.7 401.4h0M614.9 361.1h0M619.7 419h0M618.6 362.8h0M647.5 375h0M625.8 367.9h0M581.7 366.9h0M646.9 377.3h0M603.4 357.5h0M638.2 424.1h0M618.7 417.9h0M649.6 392.8h0M594.4 364.1h0M595.9 364.7h0M606.5 413.4h0M587.6 382.7h0M640.2 379.4h0M643.7 422.5h0M610 358.1h0M590.6 382.9h0M620.9 356.6h0M617.1 421.7h0M652.1 387.7h0M621.4 420.7h0M645 385.2h0M641.7 381.4h0M591.9 376.3h0M654 432.3h0M611.6 412.8h0M580.8 361.7h0M627 427.6h0M596.6 397.5h0M596.6 367h0M597.5 341.7h0M643.8 421.8h0M646.1 425.1h0M627.4 366.9h0M650.9 417.8h0M634.1 372.2h0M607.2 353.9h0M654.3 402.8h0M618 364.2h0M582.7 371.5h0M657.4 407.5h0M591.7 377.5h0M596.8 360.4h0M608.5 359.2h0M616.7 338.6h0M590.6 405h0M590.5 373.2h0M620.7 430.7h0M606.8 408.5h0M611.4 362.1h0M592.4 375.8h0M656.5 445.1h0M657.6 389.8h0M644.7 425.4h0M593.4 373h0M663.5 414.5h0M598 400.5h0M629.8 370.1h0M638.1 428.3h0M597.5 366.4h0M618.6 362.9h0M613.5 356.8h0M651.9 408.2h0M632.9 364.4h0M617.2 418h0M583.7 383.9h0M587.6 373.6h0M596.9 401.9h0M594 387.5h0M644.3 382.4h0M598 356.7h0M635.9 374.3h0M651.8 424.6h0M654.6 423.3h0M589 372.7h0M600.1 363.8h0M638.4 376.5h0M638 376.1h0M590.4 383.7h0M586 392.8h0M599.7 401.5h0M650.2 418.5h0M655 423.9h0M588.3 391.3h0M647.7 420.2h0M665 387.8h0M591.6 383.7h0M653.6 411h0M610.4 415.5h0M597.4 361.3h0M623.2 422h0M593 374h0M666.5 402.4h0M634.1 373h0M639.8 427.6h0M661.2 406.3h0M611 360h0M601 362.9h0M656.2 417h0M591 370.6h0M602.3 361.5h0M635.9 365.3h0M643.7 378.7h0M657.5 416.5h0M600.8 349.2h0M599.2 401.7h0M598.9 359.7h0M636.9 431h0M589.1 390.6h0M645.8 387h0M645.8 424.1h0M591.4 373.2h0M589.4 363.2h0M650.9 376.9h0M647.5 389h0M604 359h0M603.2 407.9h0M645.5 420.7h0M646.9 382.8h0M626.1 367.3h0M650.9 424.5h0M618.5 361.4h0M647.7 423.2h0M601.8 362.2h0M594.5 370.1h0M607.5 353.9h0M628.9 369.8h0M590 395.8h0M642.8 430.7h0M601.8 407.9h0M589.5 363h0M636.2 370.4h0M595.7 392.9h0M629.3 423.5h0M654.4 433.9h0M640.9 424.1h0M641.7 380.6h0M634.1 432h0M585.4 388.6h0M646.6 381.2h0M648.6 418.1h0M644 425.7h0M653.3 401.5h0M636.1 423.7h0M628.8 365.8h0M648.4 419.5h0M651.8 392.5h0M636.6 372.7h0M591.8 361.2h0M652.2 398.7h0M595.4 397.1h0M654.2 401.1h0M636.4 432.7h0M642.6 371.3h0M651.9 400.4h0M597 355.3h0M653.6 402.1h0M647.1 388.8h0M654.9 416.6h0M589.4 369.4h0M588.4 368h0M654.8 393.3h0M652.7 412.8h0M647.9 379.1h0M620.5 419.4h0M643 381h0M653.2 411h0M626.3 421.2h0M655 394.2h0M600.1 361.7h0M651.8 388.8h0M609.8 360.1h0M633.2 370.3h0M661.9 419.3h0M656 394h0M596.9 360.9h0M589.1 391.6h0M622.9 366h0M589.1 389.8h0M633.1 369.4h0M632.2 364.6h0M657 401.3h0M647.5 423.4h0M597.8 362.4h0M625.5 422.8h0M631.4 425h0M595 405h0M597.6 412.3h0M628.7 423.7h0M641.8 377.2h0M642.4 374.8h0M622.5 365.9h0M648.4 439.1h0M625.3 423.1h0M592.4 379.2h0M634.8 443.1h0M643.9 377.1h0M590.4 354.7h0M651.3 401.1h0M588.1 378.4h0M653.2 400.7h0M604.5 406.2h0M645.7 375.5h0M641.2 380.4h0M649.9 386h0M646.6 374h0M590.5 363.4h0M597.9 363.1h0M636.4 426.6h0M622.5 421.2h0M596.5 396.9h0M653.5 393.5h0M593.2 389.4h0M609.1 416.1h0M643.3 383.8h0M593.3 372.8h0M621.6 423.3h0M622.9 358.4h0M635.3 371.4h0M657.1 430.9h0M661.5 390.3h0M629.6 422.9h0M619.4 421.6h0M614 361.6h0M653.4 406.1h0M622.5 359.2h0M646.3 384.9h0M592.4 387.4h0M601.4 356h0M583.8 386.4h0M642.8 382.8h0M614.2 417.5h0M602.4 363.1h0M600.4 350.1h0M589.8 361.9h0M655.2 421h0M613.5 359.4h0M667.5 402.5h0M617.2 417.8h0M659.2 401.7h0M638.1 377.6h0M601.3 404h0M597.9 398.6h0M609.1 412.9h0M616.3 358.1h0M607 359.9h0M634.6 365.5h0M606.2 359.5h0M651.4 395.4h0M595.8 366.7h0M657.7 415.5h0M629.1 367h0M624.8 364h0M636.4 369.9h0M624 362.5h0M653.9 392.9h0M623.3 425.4h0M656.2 395.4h0M607.6 355.6h0M644.2 442.2h0M583.1 386.2h0M599.8 401h0M588.1 378h0M624.5 425.2h0M631.3 369.7h0M594.3 361.4h0M625.8 429.7h0M616.9 361.9h0M655.3 407.3h0M661.7 437.6h0M594.9 407.5h0M611.2 414.3h0M604.1 360.4h0M656 395.9h0M645.2 422.3h0M624.6 367.1h0M646.5 377.7h0M599.3 401.3h0M623.1 425.8h0M628.4 431.8h0M650.2 386.7h0M655.2 417.2h0M606.5 346.6h0M607.9 358h0M603.1 362.2h0M657 407.6h0M648.7 422.1h0M662.7 422.7h0M579.6 376.3h0M598.3 398.3h0M608.4 360.1h0M628.2 369.4h0M654.3 391h0M654.5 414.8h0M614.9 422.6h0M640.1 429.6h0M594.7 363.9h0M644.1 374.8h0M624.9 363.5h0M613.3 415h0M595.8 397.2h0M641.7 378.4h0M597.4 361.4h0M638 376.8h0M590.2 374.5h0M628.7 365.5h0M590.6 386.1h0M591.2 376h0M615.7 356.9h0M599.8 361.8h0M591.5 372.5h0M604.2 354.2h0M597 398.6h0M634 371.2h0M658.2 404h0M645.6 384.2h0M586.9 377.1h0M652.3 395.2h0M641.3 375.5h0M650 422.5h0M643.3 379.1h0M590 382h0M596.4 359.4h0M604.6 416h0M598.4 400.1h0M620.7 360.1h0M653.9 410.2h0M641.5 424.6h0M656.6 412.8h0M632.9 371.5h0M603.4 342.2h0M594.1 392.6h0M661.8 417.3h0M653.9 404.2h0M650.5 393.4h0M639.1 378.5h0M587.8 392.8h0M648.4 376.2h0M591.9 377.8h0M600.2 363.3h0M591.1 356.7h0M589.2 378.4h0M628.4 368.5h0M614 358.2h0M659.4 408.3h0M629.5 369h0M595.2 393h0M616.6 359.2h0M578.8 375.7h0M626 367.7h0M604.3 357.3h0M623.5 364.1h0M636.5 373.6h0M581.8 378.1h0M646.5 423.3h0M660.4 407.7h0M624.9 421.3h0M665.5 414.9h0M646.4 424.8h0M652.6 400.5h0M664.2 406.1h0M615.3 417.2h0M645.1 386.1h0M633.9 367.7h0M620 363h0M606.3 416.8h0M600.7 405h0M651.1 388.3h0M587.9 381.8h0M661.2 406h0M599.5 354.5h0M643.6 383.1h0M644.4 423.2h0M616.4 420.7h0M654.5 410.8h0M592.2 383.7h0M652.8 392.7h0M574.4 397.4h0M592.3 384.5h0M602.7 357.8h0M641 422.5h0M584.5 386.1h0M599.7 362.9h0M653.4 416.4h0M634.8 430.3h0M634.7 423.4h0M643.1 424.3h0M617.9 353.6h0M597.7 398.4h0M631.2 367.3h0M654.5 390.8h0M599.4 357.1h0M653.2 404.2h0M654.7 386.3h0M594 369h0M622.9 365.7h0M614.7 416.1h0M667.4 403.8h0M632.8 431.4h0M637 367.7h0M613 361.5h0M656.3 393.8h0M641.8 435.4h0M586.6 397.5h0M598.1 401.1h0M655 435.6h0M602.3 357h0M646.2 421.9h0M652.1 394.1h0M596.5 365.9h0M631.3 370.1h0M617.5 416.9h0M653.9 407.3h0M640.1 423.6h0M580.5 371.7h0M628 426.2h0M619.6 363.7h0M639.2 430h0M626.7 354.3h0M652 424.9h0M610.2 360.5h0M641.6 433.7h0M593.3 365.5h0M654.8 421.2h0M650.2 424.9h0M589.3 372.6h0M628.8 369.7h0M591 390.4h0M598.1 401.8h0M655.7 417.9h0M596.5 395.9h0M631.7 423.6h0M616.3 361.3h0M652.9 396.8h0M637.9 375.9h0M603.5 409.1h0M661.7 414.1h0M605.9 415.5h0M601.1 406.7h0M575.4 377.4h0M642.8 422.3h0M581.1 390.9h0M606.4 358.4h0M633.5 429.7h0M613.9 362.6h0M634.2 424.1h0M618.7 364.1h0M659.9 396.5h0M629.9 358.9h0M647.1 425.7h0M639.6 422.9h0M635.9 431.3h0M622.3 358.8h0M652.8 410.8h0M592.5 380.3h0M631.6 370.8h0M584.6 362.9h0M589.5 377.6h0M635 425.2h0M639.3 370.3h0M654.4 402.6h0M659 402.3h0M646.5 430.5h0M621.9 419.6h0M614.3 420.2h0M592.1 384.1h0M645.4 384.6h0M633.3 426.3h0M618.3 423.8h0M630.7 370.1h0M653.3 406.4h0M653.3 408.3h0M655.3 406.9h0M609.7 414h0M601.4 402.4h0M594.1 388.4h0M661.7 416.3h0M581 366.3h0M644.8 382.2h0M650.7 426.5h0M634.2 425.1h0M618.9 358.3h0M594.1 388h0M625.7 423.6h0M654.9 405.7h0M643.1 422.3h0M602.8 407.3h0M651.7 415.3h0M651.9 381h0M652.7 388.7h0M631.2 365h0M630.3 366h0M594.5 388.9h0M652 396.2h0M647.9 426.1h0M617.2 361.5h0M599.4 361h0M612.7 417h0M629.5 432.1h0M586 370.7h0M633.9 428.3h0M642.5 431.3h0M633.4 424.2h0M649.6 417.8h0M635.7 429.4h0M648.9 387h0M624.9 367.2h0M595.7 396.7h0M642.7 424.6h0M654.5 428.4h0M606.8 348.7h0M621.4 365.5h0M594.2 367.3h0M641.4 423.7h0M604.3 412h0M596.4 353.3h0M599.9 364.4h0M652.9 407.4h0M603.7 359.4h0M620.2 362.8h0M641.3 380.4h0M591 382.4h0M624.4 421.5h0M588.5 391.6h0M607.2 361.6h0M637 431.6h0M618.9 364.4h0M653.8 405.5h0M577.4 369.2h0M609.1 360.4h0M599.6 404.5h0M641.8 430.7h0M616.2 417.5h0M597.6 402.9h0M592.5 371.1h0M651 385.7h0M646 422.9h0M611.1 352h0M658.4 429h0M600.4 401.9h0M618.2 418.7h0M592.4 372.7h0M604.4 360.1h0M606.8 410.1h0M591.2 392.4h0M624.6 420.9h0M594.3 368.8h0M617.9 421.8h0M657.4 412.8h0M652 399.6h0M599.7 359h0M621.4 362.6h0M644.5 429.9h0M591.6 383.5h0M640.5 423.3h0M620.6 361h0M647.5 421.1h0M608.9 413.4h0M629.5 369.7h0M594.1 361.5h0M596.6 401.2h0M642.1 424.5h0M654.3 417.5h0M584.6 385h0M632.5 369.1h0M584.2 369.6h0M629.2 368.1h0M651.7 401.8h0M591 372.8h0M604.5 407.2h0M591.3 384.3h0M660.4 413h0M594.8 395.5h0M631.8 368.6h0M593.3 400.1h0M614.6 361.4h0M649.6 425h0M605.8 409.7h0M620.8 363.3h0M640.4 423.2h0M640.3 425.5h0M650.6 420.9h0M609.5 411.3h0M651.5 427.6h0M615.2 361.6h0M632.9 431.5h0M586.7 384.2h0M658.4 403h0M606.7 411.5h0M602.4 406.9h0M622 361.5h0M656.6 430.1h0M649.1 378.4h0M646.1 379.9h0M619.6 420h0M602 362.5h0M644.7 385.6h0M601 407.2h0M654.2 394h0M611.3 415.7h0M589.9 364.8h0M600.8 364.1h0M596.9 398.4h0M645.2 382.9h0M592.8 394.2h0M646.4 377.9h0M590.8 389.9h0M593.5 393.8h0M599.7 353.7h0M624.8 355.4h0M647.4 427.8h0M595.2 354.5h0M586 339.3h0M582.1 376.7h0M659.2 417.1h0M636.5 429.2h0M598.9 358.7h0M646.9 384.2h0M658.4 411.9h0M656.2 387.7h0M599.8 400.6h0M608.6 362.4h0M629.4 368.8h0M618.1 419.9h0M585.8 363.7h0M613.9 355.6h0M592.5 372.2h0M636.3 372.9h0M627.6 367h0M642.3 433.7h0M617.6 359.3h0M597.7 396h0M632.7 372.2h0M641.2 380.8h0M617.3 363h0M594.1 370.2h0M585.2 380.7h0M592.8 383.8h0M596 363.8h0M647.2 419.7h0M653.6 406.3h0M638 376.5h0M622.4 420.3h0M653.9 409h0M631.1 422.8h0M606.1 356.6h0M630.5 365.7h0M636.2 373.9h0M636.3 375h0M626.6 365.3h0M648.8 388.9h0M656.6 415.9h0M654.8 417.7h0M643 425.1h0M592.5 384.6h0M585.8 373.2h0M630.2 430.4h0M641.5 376.9h0M599.7 402h0M630.9 424h0M628.2 365.5h0M592.8 364.5h0M654.2 426.5h0M654.8 407.5h0M597.3 360.7h0M593.8 367.7h0M654 410.4h0M607.5 411.9h0M642 380.1h0M652.3 409.2h0M627.5 425.5h0M643.4 426.8h0M644 422.5h0M604.7 412.3h0M626.2 365.1h0M635.5 426.2h0M631.6 371.1h0M603.7 362.5h0M603.7 360.7h0M650 382.7h0M645.6 380.5h0M605.7 362.6h0M646.9 421.5h0M622.3 361.7h0M648.9 420.1h0M665.8 416.5h0M666.9 416.6h0M660.7 417.1h0M648.7 387.9h0M638.2 376.3h0M604.4 410.3h0M641 376.1h0M632 423.8h0M643.1 382.9h0M589.7 390.7h0M601.2 363.5h0M630.1 422.6h0M642.3 372.6h0M626.1 422.9h0M657.4 382.9h0M589.4 382.5h0M622 420.5h0M655.2 421.9h0M660.4 423.2h0M616.9 420.1h0M636.1 369.3h0M650.7 391.3h0M653.2 413.9h0M621.3 365h0M649.4 391.3h0M616.5 362.9h0M651.5 400.2h0M604.1 347.1h0M583.6 387.2h0M654.3 400.2h0M592.9 398.4h0M593.2 369.6h0M588.2 371.5h0M649.8 426.8h0M643 433.3h0M596.9 362.3h0M636.7 430.9h0M590.2 384.2h0M592.5 374.9h0M590.9 396.4h0M592.9 363.9h0M637.9 423.9h0M656.3 399.9h0M655.9 419.7h0M603.3 411.4h0M637.8 423.8h0M646.8 425.4h0M651.8 418.1h0M633.5 431.9h0M625.6 361.7h0M622.5 420.2h0M649.5 423.2h0M637.2 373.2h0M605.2 353.8h0M606.1 408.1h0M591.2 378.3h0M656.5 398.8h0M643.7 380.8h0M652.4 394.9h0M632.2 367.6h0M587.5 366.9h0M638.5 425h0M641.4 427.2h0M654.8 416.1h0M638.6 426.4h0M654.3 420h0M635.3 370.2h0M653.4 410.6h0M602 358.2h0M636 424.7h0M598.7 364.4h0M657.9 417.3h0M585.6 391.8h0M637.9 364.4h0M593.8 388.5h0M598.1 406.2h0M637.8 374.8h0M645.6 429h0M597.4 416h0M604.1 360.7h0M591.3 378.3h0M590.8 378.9h0M616.1 357.8h0M577.2 360.9h0M625.4 423.9h0M605.5 407.9h0M641 379.9h0M626 365.1h0M650.5 395.3h0M591.4 391.5h0M625.4 427.9h0M618.8 420h0M649.1 427.4h0M615.9 422.6h0M620.5 423.4h0M658.1 413.9h0M592.5 378.5h0M589.7 382.2h0M650.8 417.2h0M622.8 364.1h0M632.1 369h0M592.1 372.8h0M636.8 375.6h0M617.8 360.4h0M587.6 374.2h0M579.7 365.3h0M665.7 413.6h0M592.5 380.8h0M625 366.3h0M612.7 358.7h0M594 371.5h0M592.2 368.8h0M626.8 361.3h0M619.5 364.5h0M585.8 357.8h0M592.7 379.2h0M638 427.8h0M602.2 406.5h0M615.4 420.2h0M634.6 424.3h0M608.2 411.9h0M626.1 364.3h0M653 417.1h0M584.4 383.4h0M653.7 391.1h0M649.1 424.2h0M584.3 378.8h0M592.9 390.5h0M654.7 408.5h0M648.5 421.5h0M589.4 392.1h0M654.7 408.7h0M654.4 412.8h0M610.1 360.4h0M592 380.8h0M605.7 361.3h0M609.3 354.1h0M611.2 414.2h0M587.6 379.8h0M595.7 395.6h0M603.4 362.9h0M589.7 372.1h0M654.4 410.3h0M603.7 412.8h0M590.9 393.4h0M614 355.2h0M645.8 431.3h0M659.3 410.6h0M632.7 372.5h0M668 403.8h0M586.4 391.7h0M601.7 347.4h0M651.8 390h0M660.3 400.5h0M605.6 411.3h0M609.7 360h0M586.7 382.4h0M653.2 412.8h0M636 375.1h0M598.5 397.5h0M645.6 420.5h0M639.7 426.9h0M591.5 395.3h0M592.7 366.2h0M596.6 396.8h0M626.6 428.8h0M613.4 434.3h0M663.7 402.6h0M589.5 360.9h0M580.5 388.1h0M651.7 401.6h0M600.6 363.2h0M638.6 378h0M658.5 413.9h0M610 412.8h0M582.9 377.8h0M595 396.1h0M625.4 430h0M585.6 389.3h0M607.2 414.1h0M645.1 428.4h0M594.9 359.9h0M598.4 401.3h0M589.1 381.9h0M593.1 374.7h0M638.4 448.5h0" stroke="#000" stroke-width="3.2" stroke-linecap="round" fill="none"/>
<circle cx="564.7" cy="296.1" r="1.6" fill="#ff0000"/>
<circle cx="598.8" cy="298.7" r="1.6" fill="#ff0000"/>
<circle cx="569.5" cy="324.1" r="1.6" fill="#fff000"/>
<circle cx="594.5" cy="318.1" r="1.6" fill="#fff000"/>
<circle cx="575.5" cy="332.7" r="1.6" fill="#fff000"/>
<circle cx="589.3" cy="337.5" r="1.6" fill="#fff000"/>
<circle cx="581.5" cy="340.1" r="1.6" fill="#fff000"/>
<circle cx="600.1" cy="350.8" r="1.6" fill="#fff000"/>
<circle cx="576.8" cy="324.1" r="1.6" fill="#000"/>
<circle cx="579.4" cy="324.1" r="1.6" fill="#ffa500"/>
</g>
</svg></body></html>
